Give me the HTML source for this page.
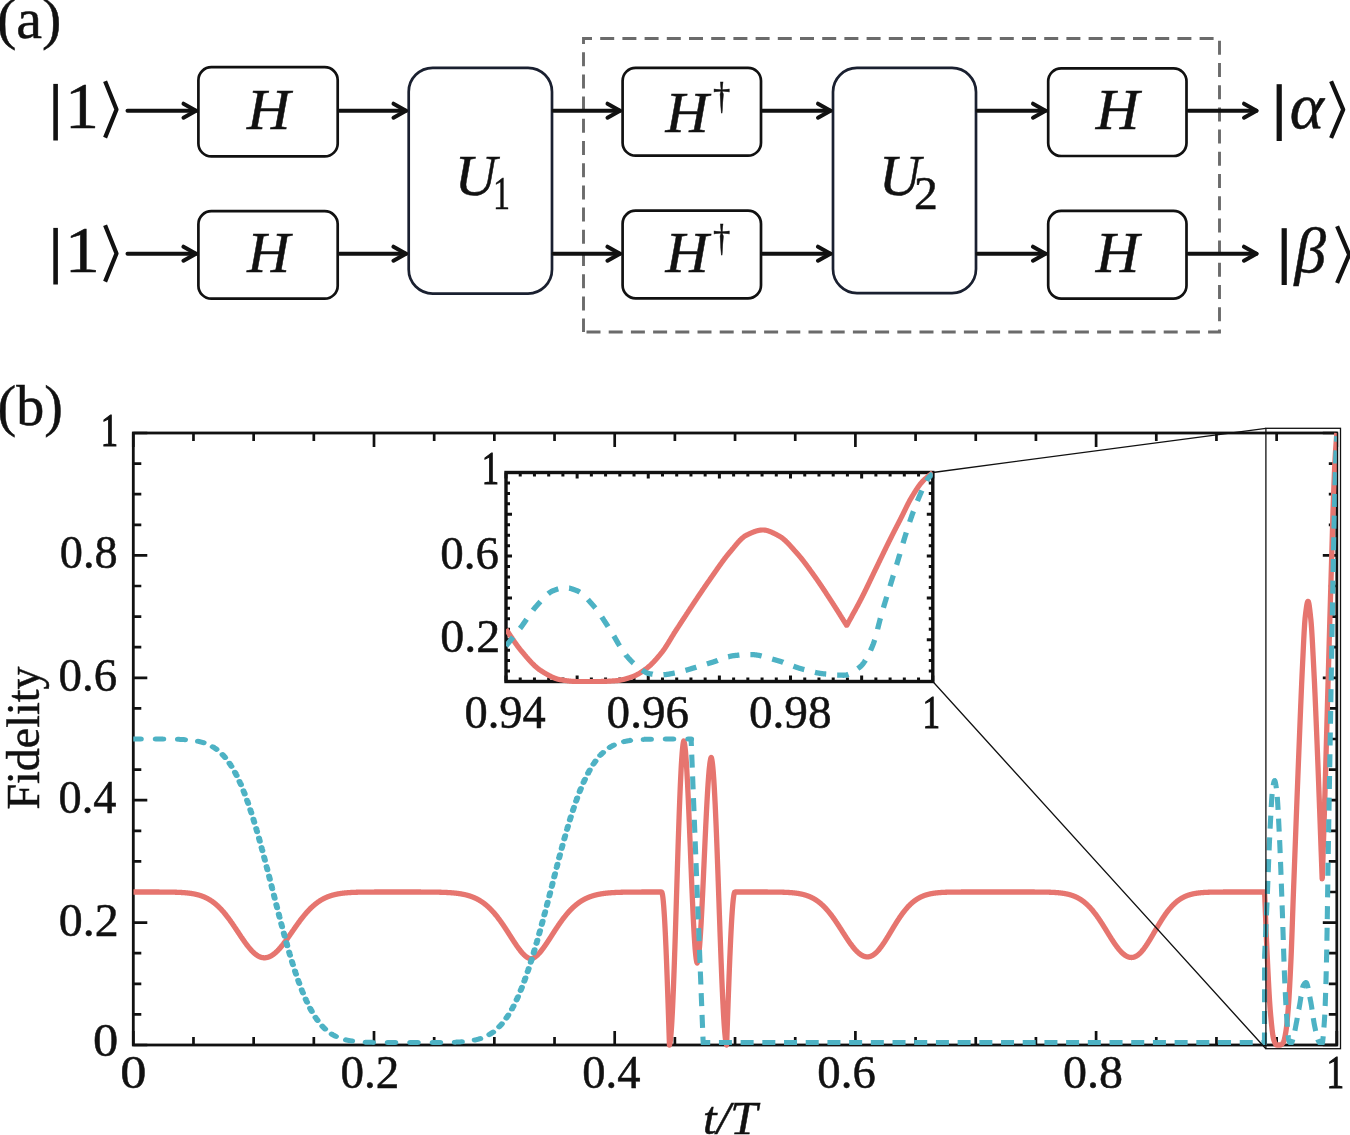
<!DOCTYPE html>
<html><head><meta charset="utf-8"><style>
html,body{margin:0;padding:0;background:#fff;}
body{width:1350px;height:1135px;overflow:hidden;}
svg{display:block;}
text{fill:#111;}
</style></head><body>
<svg width="1350" height="1135" viewBox="0 0 1350 1135">
<g opacity="0.999">
<text x="-3" y="38" font-family='"Liberation Serif", serif' font-size="58" stroke="#111" stroke-width="0.5">(a)</text>
<rect x="198.4" y="67.2" width="139.3" height="89.2" rx="13" ry="13" fill="none" stroke="#111" stroke-width="2.7"/>
<rect x="198.4" y="211.2" width="139.3" height="87.5" rx="13" ry="13" fill="none" stroke="#111" stroke-width="2.7"/>
<rect x="408.7" y="67.8" width="143.3" height="225.8" rx="24" ry="24" fill="none" stroke="#1a2030" stroke-width="2.7"/>
<rect x="622.6" y="67.8" width="138.4" height="87.9" rx="13" ry="13" fill="none" stroke="#111" stroke-width="2.7"/>
<rect x="622.6" y="210.7" width="138.4" height="87.6" rx="13" ry="13" fill="none" stroke="#111" stroke-width="2.7"/>
<rect x="833.0" y="67.9" width="143.0" height="225.2" rx="24" ry="24" fill="none" stroke="#1a2030" stroke-width="2.7"/>
<rect x="1048.2" y="68.3" width="138.3" height="87.7" rx="13" ry="13" fill="none" stroke="#111" stroke-width="2.7"/>
<rect x="1048.2" y="210.9" width="138.3" height="87.7" rx="13" ry="13" fill="none" stroke="#111" stroke-width="2.7"/>
<path d="M583.5,332 L583.5,38.5 L1219.5,38.5 L1219.5,332 Z" fill="none" stroke="#6b6b6b" stroke-width="2.9" stroke-dasharray="14 8.2" stroke-dashoffset="0.6"/>
<path d="M127.5,110.7 L196.0,110.7" stroke="#111" stroke-width="4.0" stroke-linecap="round"/>
<path d="M183.5,103.7 L196.0,110.7 L183.5,117.7" fill="none" stroke="#111" stroke-width="4.0" stroke-linecap="round" stroke-linejoin="round"/>
<path d="M339.5,110.7 L406.0,110.7" stroke="#111" stroke-width="4.0" stroke-linecap="round"/>
<path d="M393.5,103.7 L406.0,110.7 L393.5,117.7" fill="none" stroke="#111" stroke-width="4.0" stroke-linecap="round" stroke-linejoin="round"/>
<path d="M553.5,110.7 L620.0,110.7" stroke="#111" stroke-width="4.0" stroke-linecap="round"/>
<path d="M607.5,103.7 L620.0,110.7 L607.5,117.7" fill="none" stroke="#111" stroke-width="4.0" stroke-linecap="round" stroke-linejoin="round"/>
<path d="M762.5,110.7 L830.5,110.7" stroke="#111" stroke-width="4.0" stroke-linecap="round"/>
<path d="M818.0,103.7 L830.5,110.7 L818.0,117.7" fill="none" stroke="#111" stroke-width="4.0" stroke-linecap="round" stroke-linejoin="round"/>
<path d="M977.5,110.7 L1045.5,110.7" stroke="#111" stroke-width="4.0" stroke-linecap="round"/>
<path d="M1033.0,103.7 L1045.5,110.7 L1033.0,117.7" fill="none" stroke="#111" stroke-width="4.0" stroke-linecap="round" stroke-linejoin="round"/>
<path d="M1188.5,110.7 L1256.5,110.7" stroke="#111" stroke-width="4.0" stroke-linecap="round"/>
<path d="M1244.0,103.7 L1256.5,110.7 L1244.0,117.7" fill="none" stroke="#111" stroke-width="4.0" stroke-linecap="round" stroke-linejoin="round"/>
<path d="M127.5,253.7 L196.0,253.7" stroke="#111" stroke-width="4.0" stroke-linecap="round"/>
<path d="M183.5,246.7 L196.0,253.7 L183.5,260.7" fill="none" stroke="#111" stroke-width="4.0" stroke-linecap="round" stroke-linejoin="round"/>
<path d="M339.5,253.7 L406.0,253.7" stroke="#111" stroke-width="4.0" stroke-linecap="round"/>
<path d="M393.5,246.7 L406.0,253.7 L393.5,260.7" fill="none" stroke="#111" stroke-width="4.0" stroke-linecap="round" stroke-linejoin="round"/>
<path d="M553.5,253.7 L620.0,253.7" stroke="#111" stroke-width="4.0" stroke-linecap="round"/>
<path d="M607.5,246.7 L620.0,253.7 L607.5,260.7" fill="none" stroke="#111" stroke-width="4.0" stroke-linecap="round" stroke-linejoin="round"/>
<path d="M762.5,253.7 L830.5,253.7" stroke="#111" stroke-width="4.0" stroke-linecap="round"/>
<path d="M818.0,246.7 L830.5,253.7 L818.0,260.7" fill="none" stroke="#111" stroke-width="4.0" stroke-linecap="round" stroke-linejoin="round"/>
<path d="M977.5,253.7 L1045.5,253.7" stroke="#111" stroke-width="4.0" stroke-linecap="round"/>
<path d="M1033.0,246.7 L1045.5,253.7 L1033.0,260.7" fill="none" stroke="#111" stroke-width="4.0" stroke-linecap="round" stroke-linejoin="round"/>
<path d="M1188.5,253.7 L1256.5,253.7" stroke="#111" stroke-width="4.0" stroke-linecap="round"/>
<path d="M1244.0,246.7 L1256.5,253.7 L1244.0,260.7" fill="none" stroke="#111" stroke-width="4.0" stroke-linecap="round" stroke-linejoin="round"/>
<rect x="53.30" y="83.90" width="4.60" height="56.60" fill="#111"/>
<path d="M105.10,81.30 L116.50,109.45 L105.10,137.60" fill="none" stroke="#111" stroke-width="4.20" stroke-linejoin="round"/>
<rect x="53.30" y="227.90" width="4.60" height="56.60" fill="#111"/>
<path d="M105.10,225.30 L116.50,253.45 L105.10,281.60" fill="none" stroke="#111" stroke-width="4.20" stroke-linejoin="round"/>
<text transform="translate(64.93,127.90) scale(1.0471,1)" font-family='"Liberation Serif", serif' font-size="64.83" stroke="#111" stroke-width="0.5">&#49;</text>
<text transform="translate(64.83,271.70) scale(1.0872,1)" font-family='"Liberation Serif", serif' font-size="64.53" stroke="#111" stroke-width="0.5">&#49;</text>
<rect x="1276.60" y="84.20" width="5.20" height="56.80" fill="#111"/>
<path d="M1331.10,81.20 L1343.20,109.60 L1331.10,138.00" fill="none" stroke="#111" stroke-width="4.20" stroke-linejoin="round"/>
<text transform="translate(1289.66,128.13) scale(1.0018,1)" font-family='"Liberation Serif", serif' font-size="65.15" font-style="italic" stroke="#111" stroke-width="0.5">&#945;</text>
<rect x="1281.60" y="228.20" width="5.20" height="56.80" fill="#111"/>
<path d="M1337.10,226.20 L1349.20,254.60 L1337.10,283.00" fill="none" stroke="#111" stroke-width="4.20" stroke-linejoin="round"/>
<text transform="translate(1294.62,271.58) scale(1.0026,1)" font-family='"Liberation Serif", serif' font-size="63.03" font-style="italic" stroke="#111" stroke-width="0.5">&#946;</text>
<text transform="translate(246.94,128.70) scale(1.0631,1)" font-family='"Liberation Serif", serif' font-size="56.35" font-style="italic" stroke="#111" stroke-width="0.5">&#72;</text>
<text transform="translate(247.34,271.70) scale(1.0551,1)" font-family='"Liberation Serif", serif' font-size="56.05" font-style="italic" stroke="#111" stroke-width="0.5">&#72;</text>
<text transform="translate(1095.75,128.90) scale(1.0648,1)" font-family='"Liberation Serif", serif' font-size="56.51" font-style="italic" stroke="#111" stroke-width="0.5">&#72;</text>
<text transform="translate(1095.75,271.90) scale(1.0677,1)" font-family='"Liberation Serif", serif' font-size="56.35" font-style="italic" stroke="#111" stroke-width="0.5">&#72;</text>
<text transform="translate(665.44,131.70) scale(1.0506,1)" font-family='"Liberation Serif", serif' font-size="56.66" font-style="italic" stroke="#111" stroke-width="0.5">&#72;</text>
<text transform="translate(665.44,271.90) scale(1.0563,1)" font-family='"Liberation Serif", serif' font-size="56.35" font-style="italic" stroke="#111" stroke-width="0.5">&#72;</text>
<text transform="translate(713.03,108.72) scale(0.9279,1)" font-family='"Liberation Serif", serif' font-size="37.36" stroke="#111" stroke-width="0.5">&#8224;</text>
<text transform="translate(713.03,251.35) scale(0.9128,1)" font-family='"Liberation Serif", serif' font-size="37.98" stroke="#111" stroke-width="0.5">&#8224;</text>
<text transform="translate(454.86,195.44) scale(1.0141,1)" font-family='"Liberation Serif", serif' font-size="57.33" font-style="italic" stroke="#111" stroke-width="0.5">&#85;</text>
<text transform="translate(493.00,209.20) scale(0.7451,1)" font-family='"Liberation Serif", serif' font-size="45.75" stroke="#111" stroke-width="0.5">&#49;</text>
<text transform="translate(878.90,195.44) scale(1.0064,1)" font-family='"Liberation Serif", serif' font-size="57.33" font-style="italic" stroke="#111" stroke-width="0.5">&#85;</text>
<text transform="translate(913.91,209.20) scale(1.0446,1)" font-family='"Liberation Serif", serif' font-size="45.61" stroke="#111" stroke-width="0.5">&#50;</text>
<text x="-2.5" y="425" font-family='"Liberation Serif", serif' font-size="56" stroke="#111" stroke-width="0.5">(b)</text>
<path d="M133.30,1045.00 V1031.00 M133.30,433.00 V447.00 M133.30,1045.00 H147.30 M1336.80,1045.00 H1322.80 M193.48,1045.00 V1037.00 M193.48,433.00 V441.00 M133.30,1014.40 H141.30 M1336.80,1014.40 H1328.80 M253.65,1045.00 V1037.00 M253.65,433.00 V441.00 M133.30,983.80 H141.30 M1336.80,983.80 H1328.80 M313.83,1045.00 V1037.00 M313.83,433.00 V441.00 M133.30,953.20 H141.30 M1336.80,953.20 H1328.80 M374.00,1045.00 V1031.00 M374.00,433.00 V447.00 M133.30,922.60 H147.30 M1336.80,922.60 H1322.80 M434.18,1045.00 V1037.00 M434.18,433.00 V441.00 M133.30,892.00 H141.30 M1336.80,892.00 H1328.80 M494.35,1045.00 V1037.00 M494.35,433.00 V441.00 M133.30,861.40 H141.30 M1336.80,861.40 H1328.80 M554.53,1045.00 V1037.00 M554.53,433.00 V441.00 M133.30,830.80 H141.30 M1336.80,830.80 H1328.80 M614.70,1045.00 V1031.00 M614.70,433.00 V447.00 M133.30,800.20 H147.30 M1336.80,800.20 H1322.80 M674.88,1045.00 V1037.00 M674.88,433.00 V441.00 M133.30,769.60 H141.30 M1336.80,769.60 H1328.80 M735.05,1045.00 V1037.00 M735.05,433.00 V441.00 M133.30,739.00 H141.30 M1336.80,739.00 H1328.80 M795.23,1045.00 V1037.00 M795.23,433.00 V441.00 M133.30,708.40 H141.30 M1336.80,708.40 H1328.80 M855.40,1045.00 V1031.00 M855.40,433.00 V447.00 M133.30,677.80 H147.30 M1336.80,677.80 H1322.80 M915.58,1045.00 V1037.00 M915.58,433.00 V441.00 M133.30,647.20 H141.30 M1336.80,647.20 H1328.80 M975.75,1045.00 V1037.00 M975.75,433.00 V441.00 M133.30,616.60 H141.30 M1336.80,616.60 H1328.80 M1035.92,1045.00 V1037.00 M1035.92,433.00 V441.00 M133.30,586.00 H141.30 M1336.80,586.00 H1328.80 M1096.10,1045.00 V1031.00 M1096.10,433.00 V447.00 M133.30,555.40 H147.30 M1336.80,555.40 H1322.80 M1156.28,1045.00 V1037.00 M1156.28,433.00 V441.00 M133.30,524.80 H141.30 M1336.80,524.80 H1328.80 M1216.45,1045.00 V1037.00 M1216.45,433.00 V441.00 M133.30,494.20 H141.30 M1336.80,494.20 H1328.80 M1276.62,1045.00 V1037.00 M1276.62,433.00 V441.00 M133.30,463.60 H141.30 M1336.80,463.60 H1328.80 M1336.80,1045.00 V1031.00 M1336.80,433.00 V447.00 M133.30,433.00 H147.30 M1336.80,433.00 H1322.80" stroke="#111" stroke-width="2.7"/>
<rect x="133.30" y="433.00" width="1203.50" height="612.00" fill="none" stroke="#111" stroke-width="2.8"/>
<clipPath id="cm"><rect x="133.3" y="430.0" width="1203.5" height="618.0"/></clipPath>
<g clip-path="url(#cm)">
<path d="M133.30,892.00 L133.50,892.00 L133.70,892.00 L133.90,892.00 L134.10,892.00 L134.30,892.00 L134.50,892.00 L134.70,892.00 L134.90,892.00 L135.11,892.00 L135.31,892.00 L135.51,892.00 L135.71,892.00 L135.91,892.00 L136.11,892.00 L136.31,892.00 L136.51,892.00 L136.71,892.00 L136.91,892.00 L137.11,892.00 L137.31,892.00 L137.51,892.00 L137.71,892.00 L137.91,892.00 L138.11,892.00 L138.31,892.00 L138.52,892.00 L138.72,892.00 L138.92,892.00 L139.12,892.00 L139.32,892.00 L139.52,892.00 L139.72,892.00 L139.92,892.00 L140.12,892.00 L140.32,892.00 L140.52,892.00 L140.72,892.00 L140.92,892.00 L141.12,892.00 L141.32,892.00 L141.52,892.00 L141.72,892.00 L141.93,892.00 L142.13,892.00 L142.33,892.00 L142.53,892.00 L142.73,892.00 L142.93,892.00 L143.13,892.00 L143.33,892.00 L143.53,892.00 L143.73,892.00 L143.93,892.00 L144.13,892.00 L144.33,892.00 L144.53,892.00 L144.73,892.00 L144.93,892.00 L145.13,892.00 L145.34,892.00 L145.54,892.00 L145.74,892.00 L145.94,892.00 L146.14,892.00 L146.34,892.00 L146.54,892.00 L146.74,892.00 L146.94,892.00 L147.14,892.00 L147.34,892.00 L147.54,892.00 L147.74,892.00 L147.94,892.00 L148.14,892.00 L148.34,892.00 L148.54,892.00 L148.74,892.00 L148.95,892.00 L149.15,892.01 L149.35,892.01 L149.55,892.01 L149.75,892.01 L149.95,892.01 L150.15,892.01 L150.35,892.01 L150.55,892.01 L150.75,892.01 L150.95,892.01 L151.15,892.01 L151.35,892.01 L151.55,892.01 L151.75,892.01 L151.95,892.01 L152.15,892.01 L152.36,892.01 L152.56,892.01 L152.76,892.01 L152.96,892.01 L153.16,892.01 L153.36,892.01 L153.56,892.01 L153.76,892.01 L153.96,892.01 L154.16,892.01 L154.36,892.01 L154.56,892.01 L154.76,892.01 L154.96,892.01 L155.16,892.01 L155.36,892.01 L155.56,892.01 L155.77,892.01 L155.97,892.02 L156.17,892.02 L156.37,892.02 L156.57,892.02 L156.77,892.02 L156.97,892.02 L157.17,892.02 L157.37,892.02 L157.57,892.02 L157.77,892.02 L157.97,892.02 L158.17,892.02 L158.37,892.02 L158.57,892.02 L158.77,892.02 L158.97,892.02 L159.18,892.02 L159.38,892.03 L159.58,892.03 L159.78,892.03 L159.98,892.03 L160.18,892.03 L160.38,892.03 L160.58,892.03 L160.78,892.03 L160.98,892.03 L161.18,892.03 L161.38,892.03 L161.58,892.04 L161.78,892.04 L161.98,892.04 L162.18,892.04 L162.38,892.04 L162.59,892.04 L162.79,892.04 L162.99,892.04 L163.19,892.04 L163.39,892.05 L163.59,892.05 L163.79,892.05 L163.99,892.05 L164.19,892.05 L164.39,892.05 L164.59,892.05 L164.79,892.06 L164.99,892.06 L165.19,892.06 L165.39,892.06 L165.59,892.06 L165.79,892.06 L166.00,892.07 L166.20,892.07 L166.40,892.07 L166.60,892.07 L166.80,892.07 L167.00,892.08 L167.20,892.08 L167.40,892.08 L167.60,892.08 L167.80,892.09 L168.00,892.09 L168.20,892.09 L168.40,892.09 L168.60,892.10 L168.80,892.10 L169.00,892.10 L169.20,892.10 L169.41,892.11 L169.61,892.11 L169.81,892.11 L170.01,892.11 L170.21,892.12 L170.41,892.12 L170.61,892.12 L170.81,892.13 L171.01,892.13 L171.21,892.14 L171.41,892.14 L171.61,892.14 L171.81,892.15 L172.01,892.15 L172.21,892.15 L172.41,892.16 L172.61,892.16 L172.81,892.17 L173.02,892.17 L173.22,892.18 L173.42,892.18 L173.62,892.19 L173.82,892.19 L174.02,892.19 L174.22,892.20 L174.42,892.21 L174.62,892.21 L174.82,892.22 L175.02,892.22 L175.22,892.23 L175.42,892.23 L175.62,892.24 L175.82,892.25 L176.02,892.25 L176.22,892.26 L176.43,892.26 L176.63,892.27 L176.83,892.28 L177.03,892.29 L177.23,892.29 L177.43,892.30 L177.63,892.31 L177.83,892.32 L178.03,892.32 L178.23,892.33 L178.43,892.34 L178.63,892.35 L178.83,892.36 L179.03,892.37 L179.23,892.37 L179.43,892.38 L179.63,892.39 L179.84,892.40 L180.04,892.41 L180.24,892.42 L180.44,892.43 L180.64,892.44 L180.84,892.45 L181.04,892.47 L181.24,892.48 L181.44,892.49 L181.64,892.50 L181.84,892.51 L182.04,892.52 L182.24,892.54 L182.44,892.55 L182.64,892.56 L182.84,892.58 L183.04,892.59 L183.25,892.60 L183.45,892.62 L183.65,892.63 L183.85,892.65 L184.05,892.66 L184.25,892.68 L184.45,892.69 L184.65,892.71 L184.85,892.72 L185.05,892.74 L185.25,892.76 L185.45,892.78 L185.65,892.79 L185.85,892.81 L186.05,892.83 L186.25,892.85 L186.45,892.87 L186.66,892.89 L186.86,892.91 L187.06,892.93 L187.26,892.95 L187.46,892.97 L187.66,892.99 L187.86,893.01 L188.06,893.03 L188.26,893.06 L188.46,893.08 L188.66,893.10 L188.86,893.13 L189.06,893.15 L189.26,893.18 L189.46,893.20 L189.66,893.23 L189.86,893.26 L190.07,893.28 L190.27,893.31 L190.47,893.34 L190.67,893.37 L190.87,893.40 L191.07,893.43 L191.27,893.46 L191.47,893.49 L191.67,893.52 L191.87,893.55 L192.07,893.58 L192.27,893.62 L192.47,893.65 L192.67,893.68 L192.87,893.72 L193.07,893.75 L193.27,893.79 L193.48,893.83 L193.68,893.86 L193.88,893.90 L194.08,893.94 L194.28,893.98 L194.48,894.02 L194.68,894.06 L194.88,894.10 L195.08,894.14 L195.28,894.19 L195.48,894.23 L195.68,894.28 L195.88,894.32 L196.08,894.37 L196.28,894.41 L196.48,894.46 L196.68,894.51 L196.88,894.56 L197.09,894.61 L197.29,894.66 L197.49,894.71 L197.69,894.76 L197.89,894.81 L198.09,894.87 L198.29,894.92 L198.49,894.98 L198.69,895.04 L198.89,895.09 L199.09,895.15 L199.29,895.21 L199.49,895.27 L199.69,895.33 L199.89,895.39 L200.09,895.46 L200.29,895.52 L200.50,895.59 L200.70,895.65 L200.90,895.72 L201.10,895.79 L201.30,895.86 L201.50,895.93 L201.70,896.00 L201.90,896.07 L202.10,896.14 L202.30,896.22 L202.50,896.29 L202.70,896.37 L202.90,896.45 L203.10,896.53 L203.30,896.61 L203.50,896.69 L203.70,896.77 L203.91,896.85 L204.11,896.94 L204.31,897.02 L204.51,897.11 L204.71,897.20 L204.91,897.29 L205.11,897.38 L205.31,897.47 L205.51,897.56 L205.71,897.66 L205.91,897.75 L206.11,897.85 L206.31,897.95 L206.51,898.05 L206.71,898.15 L206.91,898.25 L207.11,898.35 L207.32,898.46 L207.52,898.56 L207.72,898.67 L207.92,898.78 L208.12,898.89 L208.32,899.00 L208.52,899.12 L208.72,899.23 L208.92,899.35 L209.12,899.46 L209.32,899.58 L209.52,899.70 L209.72,899.82 L209.92,899.95 L210.12,900.07 L210.32,900.20 L210.52,900.32 L210.73,900.45 L210.93,900.58 L211.13,900.72 L211.33,900.85 L211.53,900.98 L211.73,901.12 L211.93,901.26 L212.13,901.40 L212.33,901.54 L212.53,901.68 L212.73,901.83 L212.93,901.97 L213.13,902.12 L213.33,902.27 L213.53,902.42 L213.73,902.57 L213.93,902.73 L214.14,902.88 L214.34,903.04 L214.54,903.20 L214.74,903.36 L214.94,903.52 L215.14,903.69 L215.34,903.85 L215.54,904.02 L215.74,904.19 L215.94,904.36 L216.14,904.53 L216.34,904.70 L216.54,904.88 L216.74,905.06 L216.94,905.23 L217.14,905.41 L217.34,905.60 L217.55,905.78 L217.75,905.97 L217.95,906.15 L218.15,906.34 L218.35,906.53 L218.55,906.72 L218.75,906.92 L218.95,907.11 L219.15,907.31 L219.35,907.51 L219.55,907.71 L219.75,907.91 L219.95,908.12 L220.15,908.32 L220.35,908.53 L220.55,908.74 L220.75,908.95 L220.95,909.16 L221.16,909.38 L221.36,909.59 L221.56,909.81 L221.76,910.03 L221.96,910.25 L222.16,910.47 L222.36,910.69 L222.56,910.92 L222.76,911.15 L222.96,911.38 L223.16,911.61 L223.36,911.84 L223.56,912.07 L223.76,912.31 L223.96,912.54 L224.16,912.78 L224.36,913.02 L224.57,913.26 L224.77,913.50 L224.97,913.75 L225.17,914.00 L225.37,914.24 L225.57,914.49 L225.77,914.74 L225.97,914.99 L226.17,915.25 L226.37,915.50 L226.57,915.76 L226.77,916.02 L226.97,916.27 L227.17,916.53 L227.37,916.80 L227.57,917.06 L227.77,917.32 L227.98,917.59 L228.18,917.86 L228.38,918.13 L228.58,918.39 L228.78,918.67 L228.98,918.94 L229.18,919.21 L229.38,919.49 L229.58,919.76 L229.78,920.04 L229.98,920.32 L230.18,920.60 L230.38,920.88 L230.58,921.16 L230.78,921.44 L230.98,921.72 L231.18,922.01 L231.39,922.29 L231.59,922.58 L231.79,922.87 L231.99,923.15 L232.19,923.44 L232.39,923.73 L232.59,924.02 L232.79,924.31 L232.99,924.61 L233.19,924.90 L233.39,925.19 L233.59,925.49 L233.79,925.78 L233.99,926.08 L234.19,926.38 L234.39,926.67 L234.59,926.97 L234.80,927.27 L235.00,927.57 L235.20,927.87 L235.40,928.17 L235.60,928.47 L235.80,928.77 L236.00,929.07 L236.20,929.37 L236.40,929.67 L236.60,929.97 L236.80,930.27 L237.00,930.57 L237.20,930.88 L237.40,931.18 L237.60,931.48 L237.80,931.78 L238.00,932.09 L238.21,932.39 L238.41,932.69 L238.61,932.99 L238.81,933.29 L239.01,933.60 L239.21,933.90 L239.41,934.20 L239.61,934.50 L239.81,934.80 L240.01,935.10 L240.21,935.40 L240.41,935.70 L240.61,936.00 L240.81,936.30 L241.01,936.60 L241.21,936.89 L241.41,937.19 L241.62,937.49 L241.82,937.78 L242.02,938.08 L242.22,938.37 L242.42,938.67 L242.62,938.96 L242.82,939.25 L243.02,939.54 L243.22,939.83 L243.42,940.12 L243.62,940.41 L243.82,940.69 L244.02,940.98 L244.22,941.26 L244.42,941.55 L244.62,941.83 L244.82,942.11 L245.02,942.39 L245.23,942.67 L245.43,942.95 L245.63,943.22 L245.83,943.49 L246.03,943.77 L246.23,944.04 L246.43,944.31 L246.63,944.57 L246.83,944.84 L247.03,945.10 L247.23,945.37 L247.43,945.63 L247.63,945.89 L247.83,946.14 L248.03,946.40 L248.23,946.65 L248.43,946.90 L248.64,947.15 L248.84,947.40 L249.04,947.64 L249.24,947.89 L249.44,948.13 L249.64,948.37 L249.84,948.60 L250.04,948.84 L250.24,949.07 L250.44,949.30 L250.64,949.52 L250.84,949.75 L251.04,949.97 L251.24,950.19 L251.44,950.41 L251.64,950.62 L251.84,950.83 L252.05,951.04 L252.25,951.25 L252.45,951.45 L252.65,951.66 L252.85,951.85 L253.05,952.05 L253.25,952.24 L253.45,952.43 L253.65,952.62 L253.85,952.81 L254.05,952.99 L254.25,953.17 L254.45,953.34 L254.65,953.51 L254.85,953.68 L255.05,953.85 L255.25,954.01 L255.46,954.17 L255.66,954.33 L255.86,954.48 L256.06,954.63 L256.26,954.78 L256.46,954.92 L256.66,955.06 L256.86,955.20 L257.06,955.34 L257.26,955.47 L257.46,955.59 L257.66,955.72 L257.86,955.84 L258.06,955.95 L258.26,956.07 L258.46,956.18 L258.66,956.28 L258.87,956.39 L259.07,956.49 L259.27,956.58 L259.47,956.68 L259.67,956.76 L259.87,956.85 L260.07,956.93 L260.27,957.01 L260.47,957.08 L260.67,957.15 L260.87,957.22 L261.07,957.28 L261.27,957.34 L261.47,957.40 L261.67,957.45 L261.87,957.50 L262.07,957.55 L262.28,957.59 L262.48,957.62 L262.68,957.66 L262.88,957.69 L263.08,957.71 L263.28,957.73 L263.48,957.75 L263.68,957.77 L263.88,957.78 L264.08,957.79 L264.28,957.79 L264.48,957.79 L264.68,957.79 L264.88,957.78 L265.08,957.77 L265.28,957.75 L265.48,957.74 L265.69,957.71 L265.89,957.69 L266.09,957.66 L266.29,957.63 L266.49,957.60 L266.69,957.56 L266.89,957.52 L267.09,957.47 L267.29,957.42 L267.49,957.37 L267.69,957.32 L267.89,957.26 L268.09,957.20 L268.29,957.13 L268.49,957.06 L268.69,956.99 L268.89,956.91 L269.09,956.83 L269.30,956.75 L269.50,956.67 L269.70,956.58 L269.90,956.49 L270.10,956.39 L270.30,956.29 L270.50,956.19 L270.70,956.09 L270.90,955.98 L271.10,955.87 L271.30,955.75 L271.50,955.64 L271.70,955.52 L271.90,955.39 L272.10,955.27 L272.30,955.14 L272.50,955.00 L272.71,954.87 L272.91,954.73 L273.11,954.59 L273.31,954.44 L273.51,954.29 L273.71,954.14 L273.91,953.99 L274.11,953.83 L274.31,953.67 L274.51,953.51 L274.71,953.35 L274.91,953.18 L275.11,953.01 L275.31,952.84 L275.51,952.66 L275.71,952.48 L275.91,952.30 L276.12,952.12 L276.32,951.93 L276.52,951.74 L276.72,951.55 L276.92,951.36 L277.12,951.16 L277.32,950.96 L277.52,950.76 L277.72,950.56 L277.92,950.35 L278.12,950.14 L278.32,949.93 L278.52,949.72 L278.72,949.50 L278.92,949.29 L279.12,949.07 L279.32,948.85 L279.53,948.62 L279.73,948.40 L279.93,948.17 L280.13,947.94 L280.33,947.71 L280.53,947.47 L280.73,947.24 L280.93,947.00 L281.13,946.76 L281.33,946.52 L281.53,946.28 L281.73,946.03 L281.93,945.78 L282.13,945.54 L282.33,945.29 L282.53,945.04 L282.73,944.78 L282.94,944.53 L283.14,944.27 L283.34,944.01 L283.54,943.75 L283.74,943.49 L283.94,943.23 L284.14,942.97 L284.34,942.70 L284.54,942.44 L284.74,942.17 L284.94,941.90 L285.14,941.63 L285.34,941.36 L285.54,941.09 L285.74,940.82 L285.94,940.55 L286.14,940.27 L286.35,939.99 L286.55,939.72 L286.75,939.44 L286.95,939.16 L287.15,938.88 L287.35,938.60 L287.55,938.32 L287.75,938.04 L287.95,937.76 L288.15,937.48 L288.35,937.19 L288.55,936.91 L288.75,936.62 L288.95,936.34 L289.15,936.05 L289.35,935.77 L289.55,935.48 L289.75,935.19 L289.96,934.91 L290.16,934.62 L290.36,934.33 L290.56,934.04 L290.76,933.75 L290.96,933.46 L291.16,933.18 L291.36,932.89 L291.56,932.60 L291.76,932.31 L291.96,932.02 L292.16,931.73 L292.36,931.44 L292.56,931.15 L292.76,930.86 L292.96,930.57 L293.16,930.29 L293.37,930.00 L293.57,929.71 L293.77,929.42 L293.97,929.13 L294.17,928.84 L294.37,928.56 L294.57,928.27 L294.77,927.98 L294.97,927.70 L295.17,927.41 L295.37,927.13 L295.57,926.84 L295.77,926.56 L295.97,926.27 L296.17,925.99 L296.37,925.71 L296.57,925.42 L296.78,925.14 L296.98,924.86 L297.18,924.58 L297.38,924.30 L297.58,924.02 L297.78,923.75 L297.98,923.47 L298.18,923.19 L298.38,922.92 L298.58,922.64 L298.78,922.37 L298.98,922.09 L299.18,921.82 L299.38,921.55 L299.58,921.28 L299.78,921.01 L299.98,920.74 L300.19,920.47 L300.39,920.21 L300.59,919.94 L300.79,919.68 L300.99,919.41 L301.19,919.15 L301.39,918.89 L301.59,918.63 L301.79,918.37 L301.99,918.11 L302.19,917.86 L302.39,917.60 L302.59,917.35 L302.79,917.09 L302.99,916.84 L303.19,916.59 L303.39,916.34 L303.60,916.09 L303.80,915.85 L304.00,915.60 L304.20,915.36 L304.40,915.11 L304.60,914.87 L304.80,914.63 L305.00,914.39 L305.20,914.16 L305.40,913.92 L305.60,913.69 L305.80,913.45 L306.00,913.22 L306.20,912.99 L306.40,912.76 L306.60,912.53 L306.80,912.31 L307.01,912.08 L307.21,911.86 L307.41,911.64 L307.61,911.42 L307.81,911.20 L308.01,910.98 L308.21,910.76 L308.41,910.55 L308.61,910.33 L308.81,910.12 L309.01,909.91 L309.21,909.70 L309.41,909.50 L309.61,909.29 L309.81,909.09 L310.01,908.88 L310.21,908.68 L310.42,908.48 L310.62,908.29 L310.82,908.09 L311.02,907.89 L311.22,907.70 L311.42,907.51 L311.62,907.32 L311.82,907.13 L312.02,906.94 L312.22,906.76 L312.42,906.57 L312.62,906.39 L312.82,906.21 L313.02,906.03 L313.22,905.85 L313.42,905.68 L313.62,905.50 L313.83,905.33 L314.03,905.16 L314.23,904.99 L314.43,904.82 L314.63,904.65 L314.83,904.48 L315.03,904.32 L315.23,904.16 L315.43,904.00 L315.63,903.84 L315.83,903.68 L316.03,903.52 L316.23,903.37 L316.43,903.21 L316.63,903.06 L316.83,902.91 L317.03,902.76 L317.23,902.61 L317.44,902.47 L317.64,902.32 L317.84,902.18 L318.04,902.04 L318.24,901.90 L318.44,901.76 L318.64,901.62 L318.84,901.49 L319.04,901.35 L319.24,901.22 L319.44,901.09 L319.64,900.96 L319.84,900.83 L320.04,900.70 L320.24,900.57 L320.44,900.45 L320.64,900.32 L320.85,900.20 L321.05,900.08 L321.25,899.96 L321.45,899.85 L321.65,899.73 L321.85,899.61 L322.05,899.50 L322.25,899.39 L322.45,899.28 L322.65,899.17 L322.85,899.06 L323.05,898.95 L323.25,898.84 L323.45,898.74 L323.65,898.63 L323.85,898.53 L324.05,898.43 L324.26,898.33 L324.46,898.23 L324.66,898.14 L324.86,898.04 L325.06,897.94 L325.26,897.85 L325.46,897.76 L325.66,897.67 L325.86,897.58 L326.06,897.49 L326.26,897.40 L326.46,897.31 L326.66,897.23 L326.86,897.14 L327.06,897.06 L327.26,896.97 L327.46,896.89 L327.67,896.81 L327.87,896.73 L328.07,896.66 L328.27,896.58 L328.47,896.50 L328.67,896.43 L328.87,896.35 L329.07,896.28 L329.27,896.21 L329.47,896.14 L329.67,896.07 L329.87,896.00 L330.07,895.93 L330.27,895.86 L330.47,895.80 L330.67,895.73 L330.87,895.67 L331.08,895.60 L331.28,895.54 L331.48,895.48 L331.68,895.42 L331.88,895.36 L332.08,895.30 L332.28,895.24 L332.48,895.19 L332.68,895.13 L332.88,895.07 L333.08,895.02 L333.28,894.96 L333.48,894.91 L333.68,894.86 L333.88,894.81 L334.08,894.76 L334.28,894.71 L334.49,894.66 L334.69,894.61 L334.89,894.56 L335.09,894.51 L335.29,894.47 L335.49,894.42 L335.69,894.38 L335.89,894.33 L336.09,894.29 L336.29,894.25 L336.49,894.21 L336.69,894.17 L336.89,894.12 L337.09,894.08 L337.29,894.05 L337.49,894.01 L337.69,893.97 L337.90,893.93 L338.10,893.89 L338.30,893.86 L338.50,893.82 L338.70,893.79 L338.90,893.75 L339.10,893.72 L339.30,893.69 L339.50,893.65 L339.70,893.62 L339.90,893.59 L340.10,893.56 L340.30,893.53 L340.50,893.50 L340.70,893.47 L340.90,893.44 L341.10,893.41 L341.30,893.38 L341.51,893.35 L341.71,893.33 L341.91,893.30 L342.11,893.27 L342.31,893.25 L342.51,893.22 L342.71,893.20 L342.91,893.17 L343.11,893.15 L343.31,893.13 L343.51,893.10 L343.71,893.08 L343.91,893.06 L344.11,893.04 L344.31,893.02 L344.51,892.99 L344.71,892.97 L344.92,892.95 L345.12,892.93 L345.32,892.91 L345.52,892.89 L345.72,892.88 L345.92,892.86 L346.12,892.84 L346.32,892.82 L346.52,892.80 L346.72,892.79 L346.92,892.77 L347.12,892.75 L347.32,892.74 L347.52,892.72 L347.72,892.71 L347.92,892.69 L348.12,892.68 L348.33,892.66 L348.53,892.65 L348.73,892.63 L348.93,892.62 L349.13,892.61 L349.33,892.59 L349.53,892.58 L349.73,892.57 L349.93,892.55 L350.13,892.54 L350.33,892.53 L350.53,892.52 L350.73,892.51 L350.93,892.49 L351.13,892.48 L351.33,892.47 L351.53,892.46 L351.74,892.45 L351.94,892.44 L352.14,892.43 L352.34,892.42 L352.54,892.41 L352.74,892.40 L352.94,892.39 L353.14,892.38 L353.34,892.38 L353.54,892.37 L353.74,892.36 L353.94,892.35 L354.14,892.34 L354.34,892.33 L354.54,892.33 L354.74,892.32 L354.94,892.31 L355.15,892.30 L355.35,892.30 L355.55,892.29 L355.75,892.28 L355.95,892.28 L356.15,892.27 L356.35,892.26 L356.55,892.26 L356.75,892.25 L356.95,892.24 L357.15,892.24 L357.35,892.23 L357.55,892.23 L357.75,892.22 L357.95,892.22 L358.15,892.21 L358.35,892.21 L358.56,892.20 L358.76,892.20 L358.96,892.19 L359.16,892.19 L359.36,892.18 L359.56,892.18 L359.76,892.17 L359.96,892.17 L360.16,892.16 L360.36,892.16 L360.56,892.16 L360.76,892.15 L360.96,892.15 L361.16,892.15 L361.36,892.14 L361.56,892.14 L361.76,892.13 L361.97,892.13 L362.17,892.13 L362.37,892.12 L362.57,892.12 L362.77,892.12 L362.97,892.12 L363.17,892.11 L363.37,892.11 L363.57,892.11 L363.77,892.10 L363.97,892.10 L364.17,892.10 L364.37,892.10 L364.57,892.09 L364.77,892.09 L364.97,892.09 L365.17,892.09 L365.37,892.08 L365.58,892.08 L365.78,892.08 L365.98,892.08 L366.18,892.08 L366.38,892.07 L366.58,892.07 L366.78,892.07 L366.98,892.07 L367.18,892.07 L367.38,892.06 L367.58,892.06 L367.78,892.06 L367.98,892.06 L368.18,892.06 L368.38,892.06 L368.58,892.05 L368.78,892.05 L368.99,892.05 L369.19,892.05 L369.39,892.05 L369.59,892.05 L369.79,892.05 L369.99,892.05 L370.19,892.04 L370.39,892.04 L370.59,892.04 L370.79,892.04 L370.99,892.04 L371.19,892.04 L371.39,892.04 L371.59,892.04 L371.79,892.04 L371.99,892.03 L372.19,892.03 L372.40,892.03 L372.60,892.03 L372.80,892.03 L373.00,892.03 L373.20,892.03 L373.40,892.03 L373.60,892.03 L373.80,892.03 L374.00,892.03 L374.20,892.03 L374.40,892.02 L374.60,892.02 L374.80,892.02 L375.00,892.02 L375.20,892.02 L375.40,892.02 L375.60,892.02 L375.81,892.02 L376.01,892.02 L376.21,892.02 L376.41,892.02 L376.61,892.02 L376.81,892.02 L377.01,892.02 L377.21,892.02 L377.41,892.02 L377.61,892.02 L377.81,892.01 L378.01,892.01 L378.21,892.01 L378.41,892.01 L378.61,892.01 L378.81,892.01 L379.01,892.01 L379.22,892.01 L379.42,892.01 L379.62,892.01 L379.82,892.01 L380.02,892.01 L380.22,892.01 L380.42,892.01 L380.62,892.01 L380.82,892.01 L381.02,892.01 L381.22,892.01 L381.42,892.01 L381.62,892.01 L381.82,892.01 L382.02,892.01 L382.22,892.01 L382.42,892.01 L382.63,892.01 L382.83,892.01 L383.03,892.01 L383.23,892.01 L383.43,892.01 L383.63,892.01 L383.83,892.01 L384.03,892.01 L384.23,892.01 L384.43,892.01 L384.63,892.01 L384.83,892.01 L385.03,892.01 L385.23,892.00 L385.43,892.00 L385.63,892.00 L385.83,892.00 L386.03,892.00 L386.24,892.00 L386.44,892.00 L386.64,892.00 L386.84,892.00 L387.04,892.00 L387.24,892.00 L387.44,892.00 L387.64,892.00 L387.84,892.00 L388.04,892.00 L388.24,892.00 L388.44,892.00 L388.64,892.00 L388.84,892.00 L389.04,892.00 L389.24,892.00 L389.44,892.00 L389.65,892.00 L389.85,892.00 L390.05,892.00 L390.25,892.00 L390.45,892.00 L390.65,892.00 L390.85,892.00 L391.05,892.00 L391.25,892.00 L391.45,892.00 L391.65,892.00 L391.85,892.00 L392.05,892.00 L392.25,892.00 L392.45,892.00 L392.65,892.00 L392.85,892.00 L393.06,892.00 L393.26,892.00 L393.46,892.00 L393.66,892.00 L393.86,892.00 L394.06,892.00 L394.26,892.00 L394.46,892.00 L394.66,892.00 L394.86,892.00 L395.06,892.00 L395.26,892.00 L395.46,892.00 L395.66,892.00 L395.86,892.00 L396.06,892.00 L396.26,892.00 L396.47,892.00 L396.67,892.00 L396.87,892.00 L397.07,892.00 L397.27,892.00 L397.47,892.00 L397.67,892.00 L397.87,892.00 L398.07,892.00 L398.27,892.00 L398.47,892.00 L398.67,892.00 L398.87,892.00 L399.07,892.00 L399.27,892.00 L399.47,892.00 L399.67,892.00 L399.88,892.00 L400.08,892.00 L400.28,892.00 L400.48,892.00 L400.68,892.00 L400.88,892.00 L401.08,892.00 L401.28,892.00 L401.48,892.00 L401.68,892.00 L401.88,892.00 L402.08,892.00 L402.28,892.00 L402.48,892.00 L402.68,892.00 L402.88,892.00 L403.08,892.00 L403.29,892.00 L403.49,892.00 L403.69,892.00 L403.89,892.00 L404.09,892.00 L404.29,892.00 L404.49,892.00 L404.69,892.00 L404.89,892.00 L405.09,892.00 L405.29,892.00 L405.49,892.00 L405.69,892.00 L405.89,892.00 L406.09,892.00 L406.29,892.00 L406.49,892.00 L406.70,892.00 L406.90,892.00 L407.10,892.00 L407.30,892.00 L407.50,892.00 L407.70,892.00 L407.90,892.00 L408.10,892.00 L408.30,892.00 L408.50,892.01 L408.70,892.01 L408.90,892.01 L409.10,892.01 L409.30,892.01 L409.50,892.01 L409.70,892.01 L409.90,892.01 L410.11,892.01 L410.31,892.01 L410.51,892.01 L410.71,892.01 L410.91,892.01 L411.11,892.01 L411.31,892.01 L411.51,892.01 L411.71,892.01 L411.91,892.01 L412.11,892.01 L412.31,892.01 L412.51,892.01 L412.71,892.01 L412.91,892.01 L413.11,892.01 L413.31,892.01 L413.51,892.01 L413.72,892.01 L413.92,892.01 L414.12,892.01 L414.32,892.01 L414.52,892.01 L414.72,892.01 L414.92,892.01 L415.12,892.01 L415.32,892.01 L415.52,892.01 L415.72,892.01 L415.92,892.01 L416.12,892.01 L416.32,892.01 L416.52,892.01 L416.72,892.01 L416.92,892.02 L417.13,892.02 L417.33,892.02 L417.53,892.02 L417.73,892.02 L417.93,892.02 L418.13,892.02 L418.33,892.02 L418.53,892.02 L418.73,892.02 L418.93,892.02 L419.13,892.02 L419.33,892.02 L419.53,892.02 L419.73,892.02 L419.93,892.02 L420.13,892.02 L420.33,892.02 L420.54,892.02 L420.74,892.02 L420.94,892.03 L421.14,892.03 L421.34,892.03 L421.54,892.03 L421.74,892.03 L421.94,892.03 L422.14,892.03 L422.34,892.03 L422.54,892.03 L422.74,892.03 L422.94,892.03 L423.14,892.03 L423.34,892.03 L423.54,892.04 L423.74,892.04 L423.95,892.04 L424.15,892.04 L424.35,892.04 L424.55,892.04 L424.75,892.04 L424.95,892.04 L425.15,892.04 L425.35,892.04 L425.55,892.05 L425.75,892.05 L425.95,892.05 L426.15,892.05 L426.35,892.05 L426.55,892.05 L426.75,892.05 L426.95,892.05 L427.15,892.05 L427.36,892.06 L427.56,892.06 L427.76,892.06 L427.96,892.06 L428.16,892.06 L428.36,892.06 L428.56,892.06 L428.76,892.07 L428.96,892.07 L429.16,892.07 L429.36,892.07 L429.56,892.07 L429.76,892.07 L429.96,892.08 L430.16,892.08 L430.36,892.08 L430.56,892.08 L430.77,892.08 L430.97,892.09 L431.17,892.09 L431.37,892.09 L431.57,892.09 L431.77,892.09 L431.97,892.10 L432.17,892.10 L432.37,892.10 L432.57,892.10 L432.77,892.11 L432.97,892.11 L433.17,892.11 L433.37,892.11 L433.57,892.12 L433.77,892.12 L433.97,892.12 L434.18,892.12 L434.38,892.13 L434.58,892.13 L434.78,892.13 L434.98,892.14 L435.18,892.14 L435.38,892.14 L435.58,892.15 L435.78,892.15 L435.98,892.15 L436.18,892.16 L436.38,892.16 L436.58,892.16 L436.78,892.17 L436.98,892.17 L437.18,892.17 L437.38,892.18 L437.58,892.18 L437.79,892.19 L437.99,892.19 L438.19,892.19 L438.39,892.20 L438.59,892.20 L438.79,892.21 L438.99,892.21 L439.19,892.22 L439.39,892.22 L439.59,892.23 L439.79,892.23 L439.99,892.24 L440.19,892.24 L440.39,892.25 L440.59,892.25 L440.79,892.26 L440.99,892.26 L441.20,892.27 L441.40,892.28 L441.60,892.28 L441.80,892.29 L442.00,892.29 L442.20,892.30 L442.40,892.31 L442.60,892.31 L442.80,892.32 L443.00,892.33 L443.20,892.33 L443.40,892.34 L443.60,892.35 L443.80,892.36 L444.00,892.36 L444.20,892.37 L444.40,892.38 L444.61,892.39 L444.81,892.40 L445.01,892.40 L445.21,892.41 L445.41,892.42 L445.61,892.43 L445.81,892.44 L446.01,892.45 L446.21,892.46 L446.41,892.47 L446.61,892.48 L446.81,892.49 L447.01,892.50 L447.21,892.51 L447.41,892.52 L447.61,892.53 L447.81,892.54 L448.02,892.55 L448.22,892.56 L448.42,892.57 L448.62,892.59 L448.82,892.60 L449.02,892.61 L449.22,892.62 L449.42,892.63 L449.62,892.65 L449.82,892.66 L450.02,892.67 L450.22,892.69 L450.42,892.70 L450.62,892.72 L450.82,892.73 L451.02,892.74 L451.22,892.76 L451.43,892.77 L451.63,892.79 L451.83,892.81 L452.03,892.82 L452.23,892.84 L452.43,892.85 L452.63,892.87 L452.83,892.89 L453.03,892.91 L453.23,892.92 L453.43,892.94 L453.63,892.96 L453.83,892.98 L454.03,893.00 L454.23,893.02 L454.43,893.04 L454.63,893.06 L454.84,893.08 L455.04,893.10 L455.24,893.12 L455.44,893.14 L455.64,893.16 L455.84,893.18 L456.04,893.21 L456.24,893.23 L456.44,893.25 L456.64,893.28 L456.84,893.30 L457.04,893.32 L457.24,893.35 L457.44,893.37 L457.64,893.40 L457.84,893.43 L458.04,893.45 L458.25,893.48 L458.45,893.51 L458.65,893.54 L458.85,893.56 L459.05,893.59 L459.25,893.62 L459.45,893.65 L459.65,893.68 L459.85,893.71 L460.05,893.74 L460.25,893.78 L460.45,893.81 L460.65,893.84 L460.85,893.87 L461.05,893.91 L461.25,893.94 L461.45,893.98 L461.65,894.01 L461.86,894.05 L462.06,894.09 L462.26,894.12 L462.46,894.16 L462.66,894.20 L462.86,894.24 L463.06,894.28 L463.26,894.32 L463.46,894.36 L463.66,894.40 L463.86,894.44 L464.06,894.48 L464.26,894.53 L464.46,894.57 L464.66,894.62 L464.86,894.66 L465.06,894.71 L465.27,894.75 L465.47,894.80 L465.67,894.85 L465.87,894.90 L466.07,894.95 L466.27,895.00 L466.47,895.05 L466.67,895.10 L466.87,895.15 L467.07,895.21 L467.27,895.26 L467.47,895.32 L467.67,895.37 L467.87,895.43 L468.07,895.48 L468.27,895.54 L468.47,895.60 L468.68,895.66 L468.88,895.72 L469.08,895.78 L469.28,895.84 L469.48,895.91 L469.68,895.97 L469.88,896.04 L470.08,896.10 L470.28,896.17 L470.48,896.24 L470.68,896.30 L470.88,896.37 L471.08,896.44 L471.28,896.52 L471.48,896.59 L471.68,896.66 L471.88,896.73 L472.09,896.81 L472.29,896.89 L472.49,896.96 L472.69,897.04 L472.89,897.12 L473.09,897.20 L473.29,897.28 L473.49,897.36 L473.69,897.45 L473.89,897.53 L474.09,897.62 L474.29,897.70 L474.49,897.79 L474.69,897.88 L474.89,897.97 L475.09,898.06 L475.29,898.15 L475.50,898.25 L475.70,898.34 L475.90,898.44 L476.10,898.53 L476.30,898.63 L476.50,898.73 L476.70,898.83 L476.90,898.93 L477.10,899.04 L477.30,899.14 L477.50,899.24 L477.70,899.35 L477.90,899.46 L478.10,899.57 L478.30,899.68 L478.50,899.79 L478.70,899.90 L478.91,900.02 L479.11,900.13 L479.31,900.25 L479.51,900.37 L479.71,900.49 L479.91,900.61 L480.11,900.73 L480.31,900.85 L480.51,900.98 L480.71,901.10 L480.91,901.23 L481.11,901.36 L481.31,901.49 L481.51,901.62 L481.71,901.76 L481.91,901.89 L482.11,902.03 L482.31,902.17 L482.52,902.31 L482.72,902.45 L482.92,902.59 L483.12,902.73 L483.32,902.88 L483.52,903.02 L483.72,903.17 L483.92,903.32 L484.12,903.47 L484.32,903.62 L484.52,903.78 L484.72,903.93 L484.92,904.09 L485.12,904.25 L485.32,904.41 L485.52,904.57 L485.72,904.74 L485.93,904.90 L486.13,905.07 L486.33,905.24 L486.53,905.40 L486.73,905.58 L486.93,905.75 L487.13,905.92 L487.33,906.10 L487.53,906.28 L487.73,906.46 L487.93,906.64 L488.13,906.82 L488.33,907.00 L488.53,907.19 L488.73,907.38 L488.93,907.57 L489.13,907.76 L489.34,907.95 L489.54,908.14 L489.74,908.34 L489.94,908.54 L490.14,908.74 L490.34,908.94 L490.54,909.14 L490.74,909.34 L490.94,909.55 L491.14,909.75 L491.34,909.96 L491.54,910.17 L491.74,910.39 L491.94,910.60 L492.14,910.81 L492.34,911.03 L492.54,911.25 L492.75,911.47 L492.95,911.69 L493.15,911.92 L493.35,912.14 L493.55,912.37 L493.75,912.60 L493.95,912.83 L494.15,913.06 L494.35,913.29 L494.55,913.53 L494.75,913.76 L494.95,914.00 L495.15,914.24 L495.35,914.48 L495.55,914.72 L495.75,914.97 L495.95,915.21 L496.16,915.46 L496.36,915.71 L496.56,915.96 L496.76,916.21 L496.96,916.47 L497.16,916.72 L497.36,916.98 L497.56,917.24 L497.76,917.50 L497.96,917.76 L498.16,918.02 L498.36,918.28 L498.56,918.55 L498.76,918.82 L498.96,919.09 L499.16,919.36 L499.36,919.63 L499.57,919.90 L499.77,920.17 L499.97,920.45 L500.17,920.72 L500.37,921.00 L500.57,921.28 L500.77,921.56 L500.97,921.84 L501.17,922.13 L501.37,922.41 L501.57,922.70 L501.77,922.98 L501.97,923.27 L502.17,923.56 L502.37,923.85 L502.57,924.14 L502.77,924.43 L502.98,924.73 L503.18,925.02 L503.38,925.32 L503.58,925.61 L503.78,925.91 L503.98,926.21 L504.18,926.51 L504.38,926.81 L504.58,927.11 L504.78,927.41 L504.98,927.71 L505.18,928.02 L505.38,928.32 L505.58,928.63 L505.78,928.93 L505.98,929.24 L506.18,929.55 L506.38,929.85 L506.59,930.16 L506.79,930.47 L506.99,930.78 L507.19,931.09 L507.39,931.40 L507.59,931.71 L507.79,932.02 L507.99,932.34 L508.19,932.65 L508.39,932.96 L508.59,933.27 L508.79,933.59 L508.99,933.90 L509.19,934.21 L509.39,934.53 L509.59,934.84 L509.79,935.15 L510.00,935.47 L510.20,935.78 L510.40,936.10 L510.60,936.41 L510.80,936.72 L511.00,937.04 L511.20,937.35 L511.40,937.66 L511.60,937.98 L511.80,938.29 L512.00,938.60 L512.20,938.91 L512.40,939.22 L512.60,939.53 L512.80,939.84 L513.00,940.15 L513.20,940.46 L513.41,940.77 L513.61,941.08 L513.81,941.39 L514.01,941.69 L514.21,942.00 L514.41,942.30 L514.61,942.60 L514.81,942.91 L515.01,943.21 L515.21,943.51 L515.41,943.81 L515.61,944.10 L515.81,944.40 L516.01,944.70 L516.21,944.99 L516.41,945.28 L516.61,945.57 L516.82,945.86 L517.02,946.15 L517.22,946.44 L517.42,946.72 L517.62,947.01 L517.82,947.29 L518.02,947.57 L518.22,947.84 L518.42,948.12 L518.62,948.39 L518.82,948.67 L519.02,948.93 L519.22,949.20 L519.42,949.47 L519.62,949.73 L519.82,949.99 L520.02,950.25 L520.23,950.50 L520.43,950.76 L520.63,951.01 L520.83,951.26 L521.03,951.50 L521.23,951.74 L521.43,951.98 L521.63,952.22 L521.83,952.45 L522.03,952.69 L522.23,952.91 L522.43,953.14 L522.63,953.36 L522.83,953.58 L523.03,953.79 L523.23,954.00 L523.43,954.21 L523.64,954.42 L523.84,954.62 L524.04,954.82 L524.24,955.01 L524.44,955.20 L524.64,955.39 L524.84,955.57 L525.04,955.75 L525.24,955.92 L525.44,956.09 L525.64,956.25 L525.84,956.42 L526.04,956.57 L526.24,956.72 L526.44,956.87 L526.64,957.02 L526.84,957.15 L527.05,957.29 L527.25,957.42 L527.45,957.54 L527.65,957.66 L527.85,957.77 L528.05,957.88 L528.25,957.98 L528.45,958.08 L528.65,958.17 L528.85,958.25 L529.05,958.33 L529.25,958.40 L529.45,958.47 L529.65,958.52 L529.85,958.58 L530.05,958.62 L530.25,958.66 L530.46,958.68 L530.66,958.70 L530.86,958.71 L531.06,958.70 L531.26,958.67 L531.46,958.64 L531.66,958.60 L531.86,958.56 L532.06,958.50 L532.26,958.44 L532.46,958.38 L532.66,958.30 L532.86,958.22 L533.06,958.14 L533.26,958.04 L533.46,957.95 L533.66,957.84 L533.86,957.73 L534.07,957.62 L534.27,957.50 L534.47,957.38 L534.67,957.25 L534.87,957.11 L535.07,956.97 L535.27,956.83 L535.47,956.68 L535.67,956.53 L535.87,956.37 L536.07,956.21 L536.27,956.05 L536.47,955.88 L536.67,955.70 L536.87,955.52 L537.07,955.34 L537.27,955.16 L537.48,954.97 L537.68,954.77 L537.88,954.58 L538.08,954.37 L538.28,954.17 L538.48,953.96 L538.68,953.75 L538.88,953.54 L539.08,953.32 L539.28,953.10 L539.48,952.87 L539.68,952.65 L539.88,952.42 L540.08,952.18 L540.28,951.95 L540.48,951.71 L540.68,951.47 L540.89,951.22 L541.09,950.98 L541.29,950.73 L541.49,950.47 L541.69,950.22 L541.89,949.96 L542.09,949.70 L542.29,949.44 L542.49,949.18 L542.69,948.91 L542.89,948.64 L543.09,948.37 L543.29,948.10 L543.49,947.83 L543.69,947.55 L543.89,947.27 L544.09,946.99 L544.30,946.71 L544.50,946.43 L544.70,946.14 L544.90,945.85 L545.10,945.57 L545.30,945.28 L545.50,944.99 L545.70,944.69 L545.90,944.40 L546.10,944.11 L546.30,943.81 L546.50,943.51 L546.70,943.21 L546.90,942.91 L547.10,942.61 L547.30,942.31 L547.50,942.01 L547.71,941.70 L547.91,941.40 L548.11,941.10 L548.31,940.79 L548.51,940.48 L548.71,940.18 L548.91,939.87 L549.11,939.56 L549.31,939.25 L549.51,938.94 L549.71,938.63 L549.91,938.32 L550.11,938.01 L550.31,937.70 L550.51,937.39 L550.71,937.08 L550.91,936.76 L551.12,936.45 L551.32,936.14 L551.52,935.83 L551.72,935.51 L551.92,935.20 L552.12,934.89 L552.32,934.58 L552.52,934.27 L552.72,933.95 L552.92,933.64 L553.12,933.33 L553.32,933.02 L553.52,932.71 L553.72,932.40 L553.92,932.09 L554.12,931.78 L554.32,931.47 L554.52,931.16 L554.73,930.85 L554.93,930.54 L555.13,930.24 L555.33,929.93 L555.53,929.62 L555.73,929.32 L555.93,929.01 L556.13,928.71 L556.33,928.40 L556.53,928.10 L556.73,927.80 L556.93,927.50 L557.13,927.20 L557.33,926.90 L557.53,926.60 L557.73,926.30 L557.93,926.00 L558.14,925.71 L558.34,925.41 L558.54,925.12 L558.74,924.82 L558.94,924.53 L559.14,924.24 L559.34,923.95 L559.54,923.66 L559.74,923.37 L559.94,923.09 L560.14,922.80 L560.34,922.52 L560.54,922.23 L560.74,921.95 L560.94,921.67 L561.14,921.39 L561.34,921.11 L561.55,920.84 L561.75,920.56 L561.95,920.29 L562.15,920.01 L562.35,919.74 L562.55,919.47 L562.75,919.20 L562.95,918.94 L563.15,918.67 L563.35,918.40 L563.55,918.14 L563.75,917.88 L563.95,917.62 L564.15,917.36 L564.35,917.10 L564.55,916.85 L564.75,916.59 L564.96,916.34 L565.16,916.09 L565.36,915.84 L565.56,915.59 L565.76,915.34 L565.96,915.10 L566.16,914.85 L566.36,914.61 L566.56,914.37 L566.76,914.13 L566.96,913.89 L567.16,913.66 L567.36,913.42 L567.56,913.19 L567.76,912.96 L567.96,912.73 L568.16,912.50 L568.37,912.27 L568.57,912.05 L568.77,911.82 L568.97,911.60 L569.17,911.38 L569.37,911.16 L569.57,910.95 L569.77,910.73 L569.97,910.52 L570.17,910.31 L570.37,910.10 L570.57,909.89 L570.77,909.68 L570.97,909.48 L571.17,909.27 L571.37,909.07 L571.57,908.87 L571.78,908.67 L571.98,908.47 L572.18,908.28 L572.38,908.08 L572.58,907.89 L572.78,907.70 L572.98,907.51 L573.18,907.32 L573.38,907.14 L573.58,906.95 L573.78,906.77 L573.98,906.59 L574.18,906.41 L574.38,906.23 L574.58,906.06 L574.78,905.88 L574.98,905.71 L575.19,905.54 L575.39,905.37 L575.59,905.20 L575.79,905.03 L575.99,904.86 L576.19,904.70 L576.39,904.54 L576.59,904.38 L576.79,904.22 L576.99,904.06 L577.19,903.91 L577.39,903.75 L577.59,903.60 L577.79,903.45 L577.99,903.30 L578.19,903.15 L578.39,903.00 L578.60,902.86 L578.80,902.71 L579.00,902.57 L579.20,902.43 L579.40,902.29 L579.60,902.15 L579.80,902.01 L580.00,901.88 L580.20,901.74 L580.40,901.61 L580.60,901.48 L580.80,901.35 L581.00,901.22 L581.20,901.09 L581.40,900.97 L581.60,900.85 L581.80,900.72 L582.00,900.60 L582.21,900.48 L582.41,900.36 L582.61,900.24 L582.81,900.13 L583.01,900.01 L583.21,899.90 L583.41,899.79 L583.61,899.68 L583.81,899.57 L584.01,899.46 L584.21,899.35 L584.41,899.25 L584.61,899.14 L584.81,899.04 L585.01,898.93 L585.21,898.83 L585.41,898.73 L585.62,898.64 L585.82,898.54 L586.02,898.44 L586.22,898.35 L586.42,898.25 L586.62,898.16 L586.82,898.07 L587.02,897.98 L587.22,897.89 L587.42,897.80 L587.62,897.71 L587.82,897.63 L588.02,897.54 L588.22,897.46 L588.42,897.37 L588.62,897.29 L588.82,897.21 L589.03,897.13 L589.23,897.05 L589.43,896.97 L589.63,896.90 L589.83,896.82 L590.03,896.75 L590.23,896.67 L590.43,896.60 L590.63,896.53 L590.83,896.46 L591.03,896.39 L591.23,896.32 L591.43,896.25 L591.63,896.18 L591.83,896.12 L592.03,896.05 L592.23,895.99 L592.44,895.92 L592.64,895.86 L592.84,895.80 L593.04,895.74 L593.24,895.68 L593.44,895.62 L593.64,895.56 L593.84,895.50 L594.04,895.44 L594.24,895.39 L594.44,895.33 L594.64,895.28 L594.84,895.22 L595.04,895.17 L595.24,895.12 L595.44,895.06 L595.64,895.01 L595.85,894.96 L596.05,894.91 L596.25,894.87 L596.45,894.82 L596.65,894.77 L596.85,894.72 L597.05,894.68 L597.25,894.63 L597.45,894.59 L597.65,894.54 L597.85,894.50 L598.05,894.46 L598.25,894.42 L598.45,894.37 L598.65,894.33 L598.85,894.29 L599.05,894.25 L599.26,894.21 L599.46,894.18 L599.66,894.14 L599.86,894.10 L600.06,894.06 L600.26,894.03 L600.46,893.99 L600.66,893.96 L600.86,893.92 L601.06,893.89 L601.26,893.86 L601.46,893.82 L601.66,893.79 L601.86,893.76 L602.06,893.73 L602.26,893.70 L602.46,893.67 L602.66,893.64 L602.87,893.61 L603.07,893.58 L603.27,893.55 L603.47,893.52 L603.67,893.49 L603.87,893.47 L604.07,893.44 L604.27,893.41 L604.47,893.39 L604.67,893.36 L604.87,893.34 L605.07,893.31 L605.27,893.29 L605.47,893.27 L605.67,893.24 L605.87,893.22 L606.07,893.20 L606.28,893.17 L606.48,893.15 L606.68,893.13 L606.88,893.11 L607.08,893.09 L607.28,893.07 L607.48,893.05 L607.68,893.03 L607.88,893.01 L608.08,892.99 L608.28,892.97 L608.48,892.95 L608.68,892.93 L608.88,892.92 L609.08,892.90 L609.28,892.88 L609.48,892.87 L609.69,892.85 L609.89,892.83 L610.09,892.82 L610.29,892.80 L610.49,892.78 L610.69,892.77 L610.89,892.75 L611.09,892.74 L611.29,892.73 L611.49,892.71 L611.69,892.70 L611.89,892.68 L612.09,892.67 L612.29,892.66 L612.49,892.64 L612.69,892.63 L612.89,892.62 L613.10,892.61 L613.30,892.59 L613.50,892.58 L613.70,892.57 L613.90,892.56 L614.10,892.55 L614.30,892.54 L614.50,892.53 L614.70,892.52 L614.90,892.51 L615.10,892.50 L615.30,892.49 L615.50,892.48 L615.70,892.47 L615.90,892.46 L616.10,892.45 L616.30,892.44 L616.51,892.43 L616.71,892.42 L616.91,892.41 L617.11,892.40 L617.31,892.39 L617.51,892.39 L617.71,892.38 L617.91,892.37 L618.11,892.36 L618.31,892.36 L618.51,892.35 L618.71,892.34 L618.91,892.33 L619.11,892.33 L619.31,892.32 L619.51,892.31 L619.71,892.31 L619.92,892.30 L620.12,892.29 L620.32,892.29 L620.52,892.28 L620.72,892.28 L620.92,892.27 L621.12,892.26 L621.32,892.26 L621.52,892.25 L621.72,892.25 L621.92,892.24 L622.12,892.24 L622.32,892.23 L622.52,892.23 L622.72,892.22 L622.92,892.22 L623.12,892.21 L623.33,892.21 L623.53,892.20 L623.73,892.20 L623.93,892.19 L624.13,892.19 L624.33,892.19 L624.53,892.18 L624.73,892.18 L624.93,892.17 L625.13,892.17 L625.33,892.17 L625.53,892.16 L625.73,892.16 L625.93,892.16 L626.13,892.15 L626.33,892.15 L626.53,892.15 L626.73,892.14 L626.94,892.14 L627.14,892.14 L627.34,892.13 L627.54,892.13 L627.74,892.13 L627.94,892.12 L628.14,892.12 L628.34,892.12 L628.54,892.12 L628.74,892.11 L628.94,892.11 L629.14,892.11 L629.34,892.11 L629.54,892.10 L629.74,892.10 L629.94,892.10 L630.14,892.10 L630.35,892.09 L630.55,892.09 L630.75,892.09 L630.95,892.09 L631.15,892.09 L631.35,892.08 L631.55,892.08 L631.75,892.08 L631.95,892.08 L632.15,892.08 L632.35,892.07 L632.55,892.07 L632.75,892.07 L632.95,892.07 L633.15,892.07 L633.35,892.07 L633.55,892.07 L633.76,892.06 L633.96,892.06 L634.16,892.06 L634.36,892.06 L634.56,892.06 L634.76,892.06 L634.96,892.06 L635.16,892.05 L635.36,892.05 L635.56,892.05 L635.76,892.05 L635.96,892.05 L636.16,892.05 L636.36,892.05 L636.56,892.05 L636.76,892.04 L636.96,892.04 L637.17,892.04 L637.37,892.04 L637.57,892.04 L637.77,892.04 L637.97,892.04 L638.17,892.04 L638.37,892.04 L638.57,892.04 L638.77,892.03 L638.97,892.03 L639.17,892.03 L639.37,892.03 L639.57,892.03 L639.77,892.03 L639.97,892.03 L640.17,892.03 L640.37,892.03 L640.58,892.03 L640.78,892.03 L640.98,892.03 L641.18,892.03 L641.38,892.03 L641.58,892.02 L641.78,892.02 L641.98,892.02 L642.18,892.02 L642.38,892.02 L642.58,892.02 L642.78,892.02 L642.98,892.02 L643.18,892.02 L643.38,892.02 L643.58,892.02 L643.78,892.02 L643.99,892.02 L644.19,892.02 L644.39,892.02 L644.59,892.02 L644.79,892.02 L644.99,892.02 L645.19,892.02 L645.39,892.02 L645.59,892.01 L645.79,892.01 L645.99,892.01 L646.19,892.01 L646.39,892.01 L646.59,892.01 L646.79,892.01 L646.99,892.01 L647.19,892.01 L647.40,892.01 L647.60,892.01 L647.80,892.01 L648.00,892.01 L648.20,892.01 L648.40,892.01 L648.60,892.01 L648.80,892.01 L649.00,892.01 L649.20,892.01 L649.40,892.01 L649.60,892.01 L649.80,892.01 L650.00,892.01 L650.20,892.01 L650.40,892.01 L650.60,892.01 L650.81,892.01 L651.01,892.01 L651.21,892.01 L651.41,892.01 L651.61,892.01 L651.81,892.01 L652.01,892.01 L652.21,892.01 L652.41,892.01 L652.61,892.01 L652.81,892.01 L653.01,892.01 L653.21,892.01 L653.41,892.01 L653.61,892.01 L653.81,892.00 L654.01,892.00 L654.21,892.00 L654.42,892.00 L654.62,892.00 L654.82,892.00 L655.02,892.00 L655.22,892.00 L655.42,892.00 L655.62,892.00 L655.82,892.00 L656.02,892.00 L656.22,892.00 L656.42,892.00 L656.62,892.00 L656.82,892.00 L657.02,892.00 L657.22,892.00 L657.42,892.00 L657.62,892.00 L657.83,892.00 L658.03,892.00 L658.23,892.00 L658.43,892.00 L658.63,892.00 L658.83,892.00 L659.03,892.00 L659.23,892.00 L659.43,892.00 L659.63,892.00 L659.83,892.00 L660.03,892.00 L660.23,892.00 L660.43,892.00 L660.63,892.00 L660.83,892.00 L661.03,892.00 L661.24,892.00 L661.44,892.00 L661.64,892.04 L661.84,892.31 L662.04,892.81 L662.24,893.56 L662.44,894.54 L662.64,895.76 L662.84,897.21 L663.04,898.90 L663.24,900.82 L663.44,902.96 L663.64,905.33 L663.84,907.91 L664.04,910.72 L664.24,913.73 L664.44,916.95 L664.65,920.37 L664.85,923.99 L665.05,927.80 L665.25,931.79 L665.45,935.96 L665.65,940.30 L665.85,944.81 L666.05,949.47 L666.25,954.29 L666.45,959.24 L666.65,964.33 L666.85,969.55 L667.05,974.89 L667.25,980.34 L667.45,985.89 L667.65,991.53 L667.85,997.26 L668.06,1003.06 L668.26,1008.93 L668.46,1014.85 L668.66,1020.83 L668.86,1026.84 L669.06,1032.87 L669.26,1038.93 L669.46,1045.00 L669.66,1044.44 L669.86,1043.62 L670.06,1042.53 L670.26,1041.18 L670.46,1039.57 L670.66,1037.70 L670.86,1035.58 L671.06,1033.20 L671.26,1030.57 L671.47,1027.70 L671.67,1024.59 L671.87,1021.25 L672.07,1017.67 L672.27,1013.88 L672.47,1009.87 L672.67,1005.64 L672.87,1001.22 L673.07,996.60 L673.27,991.80 L673.47,986.82 L673.67,981.67 L673.87,976.35 L674.07,970.89 L674.27,965.29 L674.47,959.56 L674.67,953.71 L674.88,947.75 L675.08,941.69 L675.28,935.54 L675.48,929.32 L675.68,923.02 L675.88,916.68 L676.08,910.29 L676.28,903.87 L676.48,897.43 L676.68,890.98 L676.88,884.54 L677.08,878.11 L677.28,871.71 L677.48,865.34 L677.68,859.03 L677.88,852.78 L678.08,846.60 L678.28,840.50 L678.49,834.50 L678.69,828.60 L678.89,822.82 L679.09,817.17 L679.29,811.65 L679.49,806.28 L679.69,801.06 L679.89,796.01 L680.09,791.13 L680.29,786.44 L680.49,781.94 L680.69,777.63 L680.89,773.54 L681.09,769.65 L681.29,765.99 L681.49,762.55 L681.69,759.35 L681.90,756.38 L682.10,753.66 L682.30,751.18 L682.50,748.95 L682.70,746.98 L682.90,745.27 L683.10,743.81 L683.30,742.62 L683.50,741.69 L683.70,741.03 L683.90,741.08 L684.10,741.65 L684.30,742.45 L684.50,743.47 L684.70,744.71 L684.90,746.17 L685.10,747.84 L685.31,749.73 L685.51,751.82 L685.71,754.11 L685.91,756.61 L686.11,759.30 L686.31,762.18 L686.51,765.25 L686.71,768.49 L686.91,771.91 L687.11,775.49 L687.31,779.23 L687.51,783.11 L687.71,787.14 L687.91,791.31 L688.11,795.60 L688.31,800.00 L688.51,804.52 L688.72,809.13 L688.92,813.83 L689.12,818.61 L689.32,823.46 L689.52,828.36 L689.72,833.32 L689.92,838.32 L690.12,843.34 L690.32,848.38 L690.52,853.43 L690.72,858.47 L690.92,863.51 L691.12,868.51 L691.32,873.49 L691.52,878.42 L691.72,883.29 L691.92,888.10 L692.13,892.83 L692.33,897.48 L692.53,902.03 L692.73,906.48 L692.93,910.82 L693.13,915.04 L693.33,919.12 L693.53,923.07 L693.73,926.86 L693.93,930.51 L694.13,933.99 L694.33,937.30 L694.53,940.44 L694.73,943.40 L694.93,946.16 L695.13,948.74 L695.33,951.12 L695.54,953.29 L695.74,955.26 L695.94,957.01 L696.14,958.56 L696.34,959.88 L696.54,960.99 L696.74,961.88 L696.94,962.55 L697.14,962.99 L697.34,962.61 L697.54,962.04 L697.74,961.28 L697.94,960.34 L698.14,959.22 L698.34,957.92 L698.54,956.44 L698.74,954.78 L698.94,952.95 L699.15,950.95 L699.35,948.78 L699.55,946.45 L699.75,943.96 L699.95,941.32 L700.15,938.52 L700.35,935.58 L700.55,932.50 L700.75,929.29 L700.95,925.94 L701.15,922.48 L701.35,918.90 L701.55,915.21 L701.75,911.41 L701.95,907.53 L702.15,903.55 L702.35,899.49 L702.56,895.36 L702.76,891.17 L702.96,886.91 L703.16,882.61 L703.36,878.26 L703.56,873.88 L703.76,869.47 L703.96,865.05 L704.16,860.62 L704.36,856.19 L704.56,851.76 L704.76,847.35 L704.96,842.97 L705.16,838.61 L705.36,834.30 L705.56,830.03 L705.76,825.82 L705.97,821.68 L706.17,817.61 L706.37,813.61 L706.57,809.71 L706.77,805.90 L706.97,802.18 L707.17,798.58 L707.37,795.09 L707.57,791.72 L707.77,788.48 L707.97,785.38 L708.17,782.41 L708.37,779.58 L708.57,776.91 L708.77,774.39 L708.97,772.02 L709.17,769.82 L709.38,767.79 L709.58,765.92 L709.78,764.23 L709.98,762.72 L710.18,761.38 L710.38,760.22 L710.58,759.24 L710.78,758.45 L710.98,757.84 L711.18,757.42 L711.38,757.73 L711.58,758.38 L711.78,759.26 L711.98,760.34 L712.18,761.64 L712.38,763.16 L712.58,764.88 L712.79,766.81 L712.99,768.95 L713.19,771.29 L713.39,773.83 L713.59,776.57 L713.79,779.50 L713.99,782.61 L714.19,785.91 L714.39,789.38 L714.59,793.03 L714.79,796.85 L714.99,800.83 L715.19,804.96 L715.39,809.24 L715.59,813.67 L715.79,818.23 L715.99,822.92 L716.20,827.73 L716.40,832.66 L716.60,837.69 L716.80,842.83 L717.00,848.05 L717.20,853.36 L717.40,858.74 L717.60,864.19 L717.80,869.69 L718.00,875.24 L718.20,880.84 L718.40,886.47 L718.60,892.12 L718.80,897.78 L719.00,903.45 L719.20,909.11 L719.40,914.77 L719.61,920.40 L719.81,926.00 L720.01,931.56 L720.21,937.08 L720.41,942.54 L720.61,947.93 L720.81,953.25 L721.01,958.50 L721.21,963.65 L721.41,968.70 L721.61,973.65 L721.81,978.49 L722.01,983.20 L722.21,987.79 L722.41,992.24 L722.61,996.55 L722.81,1000.72 L723.02,1004.73 L723.22,1008.58 L723.42,1012.26 L723.62,1015.77 L723.82,1019.10 L724.02,1022.26 L724.22,1025.22 L724.42,1028.00 L724.62,1030.58 L724.82,1032.96 L725.02,1035.13 L725.22,1037.11 L725.42,1038.87 L725.62,1040.43 L725.82,1041.77 L726.02,1042.90 L726.22,1043.82 L726.42,1044.52 L726.63,1045.00 L726.83,1039.20 L727.03,1033.40 L727.23,1027.62 L727.43,1021.87 L727.63,1016.15 L727.83,1010.47 L728.03,1004.84 L728.23,999.27 L728.43,993.76 L728.63,988.33 L728.83,982.98 L729.03,977.72 L729.23,972.56 L729.43,967.50 L729.63,962.55 L729.83,957.72 L730.04,953.02 L730.24,948.44 L730.44,944.01 L730.64,939.72 L730.84,935.59 L731.04,931.61 L731.24,927.80 L731.44,924.15 L731.64,920.68 L731.84,917.38 L732.04,914.27 L732.24,911.35 L732.44,908.62 L732.64,906.09 L732.84,903.76 L733.04,901.63 L733.24,899.71 L733.45,897.99 L733.65,896.49 L733.85,895.20 L734.05,894.13 L734.25,893.27 L734.45,892.63 L734.65,892.22 L734.85,892.02 L735.05,892.00 L735.25,892.00 L735.45,892.00 L735.65,892.00 L735.85,892.00 L736.05,892.00 L736.25,892.00 L736.45,892.00 L736.65,892.00 L736.86,892.00 L737.06,892.00 L737.26,892.00 L737.46,892.00 L737.66,892.00 L737.86,892.00 L738.06,892.00 L738.26,892.00 L738.46,892.00 L738.66,892.00 L738.86,892.00 L739.06,892.00 L739.26,892.00 L739.46,892.00 L739.66,892.00 L739.86,892.00 L740.06,892.00 L740.27,892.00 L740.47,892.00 L740.67,892.00 L740.87,892.00 L741.07,892.00 L741.27,892.00 L741.47,892.00 L741.67,892.00 L741.87,892.00 L742.07,892.00 L742.27,892.00 L742.47,892.00 L742.67,892.00 L742.87,892.00 L743.07,892.00 L743.27,892.00 L743.47,892.00 L743.68,892.00 L743.88,892.00 L744.08,892.00 L744.28,892.00 L744.48,892.00 L744.68,892.00 L744.88,892.00 L745.08,892.00 L745.28,892.00 L745.48,892.00 L745.68,892.00 L745.88,892.00 L746.08,892.00 L746.28,892.00 L746.48,892.00 L746.68,892.00 L746.88,892.00 L747.09,892.00 L747.29,892.00 L747.49,892.00 L747.69,892.00 L747.89,892.00 L748.09,892.00 L748.29,892.00 L748.49,892.00 L748.69,892.00 L748.89,892.00 L749.09,892.00 L749.29,892.00 L749.49,892.00 L749.69,892.00 L749.89,892.00 L750.09,892.00 L750.29,892.00 L750.49,892.00 L750.70,892.00 L750.90,892.00 L751.10,892.00 L751.30,892.00 L751.50,892.00 L751.70,892.00 L751.90,892.00 L752.10,892.00 L752.30,892.00 L752.50,892.00 L752.70,892.00 L752.90,892.00 L753.10,892.00 L753.30,892.00 L753.50,892.00 L753.70,892.00 L753.90,892.00 L754.11,892.00 L754.31,892.00 L754.51,892.00 L754.71,892.00 L754.91,892.00 L755.11,892.00 L755.31,892.00 L755.51,892.00 L755.71,892.00 L755.91,892.00 L756.11,892.00 L756.31,892.00 L756.51,892.00 L756.71,892.00 L756.91,892.00 L757.11,892.00 L757.31,892.00 L757.52,892.00 L757.72,892.00 L757.92,892.00 L758.12,892.01 L758.32,892.01 L758.52,892.01 L758.72,892.01 L758.92,892.01 L759.12,892.01 L759.32,892.01 L759.52,892.01 L759.72,892.01 L759.92,892.01 L760.12,892.01 L760.32,892.01 L760.52,892.01 L760.72,892.01 L760.93,892.01 L761.13,892.01 L761.33,892.01 L761.53,892.01 L761.73,892.01 L761.93,892.01 L762.13,892.01 L762.33,892.01 L762.53,892.01 L762.73,892.01 L762.93,892.01 L763.13,892.01 L763.33,892.01 L763.53,892.01 L763.73,892.01 L763.93,892.01 L764.13,892.01 L764.34,892.01 L764.54,892.02 L764.74,892.02 L764.94,892.02 L765.14,892.02 L765.34,892.02 L765.54,892.02 L765.74,892.02 L765.94,892.02 L766.14,892.02 L766.34,892.02 L766.54,892.02 L766.74,892.02 L766.94,892.02 L767.14,892.02 L767.34,892.02 L767.54,892.02 L767.75,892.03 L767.95,892.03 L768.15,892.03 L768.35,892.03 L768.55,892.03 L768.75,892.03 L768.95,892.03 L769.15,892.03 L769.35,892.03 L769.55,892.03 L769.75,892.03 L769.95,892.04 L770.15,892.04 L770.35,892.04 L770.55,892.04 L770.75,892.04 L770.95,892.04 L771.15,892.04 L771.36,892.04 L771.56,892.05 L771.76,892.05 L771.96,892.05 L772.16,892.05 L772.36,892.05 L772.56,892.05 L772.76,892.05 L772.96,892.06 L773.16,892.06 L773.36,892.06 L773.56,892.06 L773.76,892.06 L773.96,892.07 L774.16,892.07 L774.36,892.07 L774.56,892.07 L774.77,892.07 L774.97,892.08 L775.17,892.08 L775.37,892.08 L775.57,892.08 L775.77,892.08 L775.97,892.09 L776.17,892.09 L776.37,892.09 L776.57,892.10 L776.77,892.10 L776.97,892.10 L777.17,892.10 L777.37,892.11 L777.57,892.11 L777.77,892.11 L777.97,892.12 L778.18,892.12 L778.38,892.12 L778.58,892.13 L778.78,892.13 L778.98,892.13 L779.18,892.14 L779.38,892.14 L779.58,892.15 L779.78,892.15 L779.98,892.15 L780.18,892.16 L780.38,892.16 L780.58,892.17 L780.78,892.17 L780.98,892.18 L781.18,892.18 L781.38,892.19 L781.59,892.19 L781.79,892.20 L781.99,892.20 L782.19,892.21 L782.39,892.21 L782.59,892.22 L782.79,892.23 L782.99,892.23 L783.19,892.24 L783.39,892.24 L783.59,892.25 L783.79,892.26 L783.99,892.26 L784.19,892.27 L784.39,892.28 L784.59,892.29 L784.79,892.29 L785.00,892.30 L785.20,892.31 L785.40,892.32 L785.60,892.33 L785.80,892.33 L786.00,892.34 L786.20,892.35 L786.40,892.36 L786.60,892.37 L786.80,892.38 L787.00,892.39 L787.20,892.40 L787.40,892.41 L787.60,892.42 L787.80,892.43 L788.00,892.44 L788.20,892.45 L788.41,892.47 L788.61,892.48 L788.81,892.49 L789.01,892.50 L789.21,892.51 L789.41,892.53 L789.61,892.54 L789.81,892.55 L790.01,892.57 L790.21,892.58 L790.41,892.60 L790.61,892.61 L790.81,892.63 L791.01,892.64 L791.21,892.66 L791.41,892.67 L791.61,892.69 L791.82,892.71 L792.02,892.72 L792.22,892.74 L792.42,892.76 L792.62,892.78 L792.82,892.80 L793.02,892.82 L793.22,892.83 L793.42,892.85 L793.62,892.87 L793.82,892.90 L794.02,892.92 L794.22,892.94 L794.42,892.96 L794.62,892.98 L794.82,893.01 L795.02,893.03 L795.23,893.05 L795.43,893.08 L795.63,893.10 L795.83,893.13 L796.03,893.15 L796.23,893.18 L796.43,893.21 L796.63,893.23 L796.83,893.26 L797.03,893.29 L797.23,893.32 L797.43,893.35 L797.63,893.38 L797.83,893.41 L798.03,893.44 L798.23,893.47 L798.43,893.51 L798.63,893.54 L798.84,893.57 L799.04,893.61 L799.24,893.64 L799.44,893.68 L799.64,893.72 L799.84,893.75 L800.04,893.79 L800.24,893.83 L800.44,893.87 L800.64,893.91 L800.84,893.95 L801.04,893.99 L801.24,894.03 L801.44,894.08 L801.64,894.12 L801.84,894.17 L802.04,894.21 L802.25,894.26 L802.45,894.30 L802.65,894.35 L802.85,894.40 L803.05,894.45 L803.25,894.50 L803.45,894.55 L803.65,894.60 L803.85,894.66 L804.05,894.71 L804.25,894.77 L804.45,894.82 L804.65,894.88 L804.85,894.94 L805.05,895.00 L805.25,895.06 L805.45,895.12 L805.66,895.18 L805.86,895.24 L806.06,895.30 L806.26,895.37 L806.46,895.43 L806.66,895.50 L806.86,895.57 L807.06,895.64 L807.26,895.71 L807.46,895.78 L807.66,895.85 L807.86,895.93 L808.06,896.00 L808.26,896.08 L808.46,896.15 L808.66,896.23 L808.86,896.31 L809.07,896.39 L809.27,896.47 L809.47,896.56 L809.67,896.64 L809.87,896.73 L810.07,896.81 L810.27,896.90 L810.47,896.99 L810.67,897.08 L810.87,897.18 L811.07,897.27 L811.27,897.36 L811.47,897.46 L811.67,897.56 L811.87,897.66 L812.07,897.76 L812.27,897.86 L812.48,897.96 L812.68,898.07 L812.88,898.17 L813.08,898.28 L813.28,898.39 L813.48,898.50 L813.68,898.61 L813.88,898.72 L814.08,898.84 L814.28,898.96 L814.48,899.07 L814.68,899.19 L814.88,899.31 L815.08,899.44 L815.28,899.56 L815.48,899.69 L815.68,899.81 L815.89,899.94 L816.09,900.07 L816.29,900.21 L816.49,900.34 L816.69,900.48 L816.89,900.61 L817.09,900.75 L817.29,900.89 L817.49,901.03 L817.69,901.18 L817.89,901.32 L818.09,901.47 L818.29,901.62 L818.49,901.77 L818.69,901.92 L818.89,902.08 L819.09,902.23 L819.29,902.39 L819.50,902.55 L819.70,902.71 L819.90,902.87 L820.10,903.04 L820.30,903.21 L820.50,903.37 L820.70,903.54 L820.90,903.72 L821.10,903.89 L821.30,904.07 L821.50,904.24 L821.70,904.42 L821.90,904.60 L822.10,904.79 L822.30,904.97 L822.50,905.16 L822.70,905.35 L822.91,905.54 L823.11,905.73 L823.31,905.92 L823.51,906.12 L823.71,906.32 L823.91,906.51 L824.11,906.72 L824.31,906.92 L824.51,907.12 L824.71,907.33 L824.91,907.54 L825.11,907.75 L825.31,907.96 L825.51,908.18 L825.71,908.39 L825.91,908.61 L826.11,908.83 L826.32,909.05 L826.52,909.27 L826.72,909.50 L826.92,909.73 L827.12,909.95 L827.32,910.18 L827.52,910.42 L827.72,910.65 L827.92,910.89 L828.12,911.12 L828.32,911.36 L828.52,911.60 L828.72,911.85 L828.92,912.09 L829.12,912.34 L829.32,912.59 L829.52,912.83 L829.73,913.09 L829.93,913.34 L830.13,913.59 L830.33,913.85 L830.53,914.11 L830.73,914.37 L830.93,914.63 L831.13,914.89 L831.33,915.16 L831.53,915.42 L831.73,915.69 L831.93,915.96 L832.13,916.23 L832.33,916.50 L832.53,916.77 L832.73,917.05 L832.93,917.32 L833.14,917.60 L833.34,917.88 L833.54,918.16 L833.74,918.44 L833.94,918.73 L834.14,919.01 L834.34,919.30 L834.54,919.58 L834.74,919.87 L834.94,920.16 L835.14,920.45 L835.34,920.74 L835.54,921.04 L835.74,921.33 L835.94,921.63 L836.14,921.92 L836.34,922.22 L836.55,922.52 L836.75,922.82 L836.95,923.12 L837.15,923.42 L837.35,923.72 L837.55,924.02 L837.75,924.33 L837.95,924.63 L838.15,924.94 L838.35,925.24 L838.55,925.55 L838.75,925.86 L838.95,926.17 L839.15,926.48 L839.35,926.79 L839.55,927.10 L839.75,927.41 L839.96,927.72 L840.16,928.03 L840.36,928.34 L840.56,928.65 L840.76,928.97 L840.96,929.28 L841.16,929.59 L841.36,929.90 L841.56,930.22 L841.76,930.53 L841.96,930.84 L842.16,931.16 L842.36,931.47 L842.56,931.79 L842.76,932.10 L842.96,932.41 L843.16,932.73 L843.37,933.04 L843.57,933.35 L843.77,933.67 L843.97,933.98 L844.17,934.29 L844.37,934.60 L844.57,934.91 L844.77,935.22 L844.97,935.53 L845.17,935.84 L845.37,936.15 L845.57,936.46 L845.77,936.77 L845.97,937.08 L846.17,937.38 L846.37,937.69 L846.57,937.99 L846.77,938.30 L846.98,938.60 L847.18,938.90 L847.38,939.20 L847.58,939.50 L847.78,939.80 L847.98,940.10 L848.18,940.39 L848.38,940.69 L848.58,940.98 L848.78,941.27 L848.98,941.57 L849.18,941.85 L849.38,942.14 L849.58,942.43 L849.78,942.71 L849.98,943.00 L850.18,943.28 L850.39,943.56 L850.59,943.83 L850.79,944.11 L850.99,944.38 L851.19,944.66 L851.39,944.93 L851.59,945.20 L851.79,945.46 L851.99,945.73 L852.19,945.99 L852.39,946.25 L852.59,946.51 L852.79,946.76 L852.99,947.01 L853.19,947.26 L853.39,947.51 L853.59,947.76 L853.80,948.00 L854.00,948.24 L854.20,948.48 L854.40,948.72 L854.60,948.95 L854.80,949.18 L855.00,949.41 L855.20,949.63 L855.40,949.86 L855.60,950.07 L855.80,950.29 L856.00,950.50 L856.20,950.72 L856.40,950.92 L856.60,951.13 L856.80,951.33 L857.00,951.53 L857.21,951.72 L857.41,951.91 L857.61,952.10 L857.81,952.29 L858.01,952.47 L858.21,952.65 L858.41,952.83 L858.61,953.00 L858.81,953.17 L859.01,953.33 L859.21,953.50 L859.41,953.65 L859.61,953.81 L859.81,953.96 L860.01,954.11 L860.21,954.25 L860.41,954.39 L860.62,954.53 L860.82,954.66 L861.02,954.79 L861.22,954.92 L861.42,955.04 L861.62,955.16 L861.82,955.27 L862.02,955.39 L862.22,955.49 L862.42,955.60 L862.62,955.69 L862.82,955.79 L863.02,955.88 L863.22,955.97 L863.42,956.05 L863.62,956.13 L863.82,956.21 L864.03,956.28 L864.23,956.35 L864.43,956.41 L864.63,956.47 L864.83,956.52 L865.03,956.58 L865.23,956.62 L865.43,956.67 L865.63,956.71 L865.83,956.74 L866.03,956.77 L866.23,956.80 L866.43,956.82 L866.63,956.84 L866.83,956.85 L867.03,956.86 L867.23,956.87 L867.43,956.87 L867.64,956.87 L867.84,956.86 L868.04,956.85 L868.24,956.83 L868.44,956.81 L868.64,956.79 L868.84,956.76 L869.04,956.72 L869.24,956.68 L869.44,956.64 L869.64,956.59 L869.84,956.54 L870.04,956.48 L870.24,956.41 L870.44,956.35 L870.64,956.27 L870.84,956.20 L871.05,956.12 L871.25,956.03 L871.45,955.94 L871.65,955.85 L871.85,955.75 L872.05,955.64 L872.25,955.54 L872.45,955.42 L872.65,955.31 L872.85,955.18 L873.05,955.06 L873.25,954.93 L873.45,954.80 L873.65,954.66 L873.85,954.51 L874.05,954.37 L874.25,954.22 L874.46,954.06 L874.66,953.90 L874.86,953.74 L875.06,953.57 L875.26,953.40 L875.46,953.23 L875.66,953.05 L875.86,952.86 L876.06,952.68 L876.26,952.49 L876.46,952.29 L876.66,952.09 L876.86,951.89 L877.06,951.69 L877.26,951.48 L877.46,951.27 L877.66,951.05 L877.87,950.83 L878.07,950.61 L878.27,950.38 L878.47,950.15 L878.67,949.92 L878.87,949.68 L879.07,949.44 L879.27,949.20 L879.47,948.96 L879.67,948.71 L879.87,948.45 L880.07,948.20 L880.27,947.94 L880.47,947.68 L880.67,947.42 L880.87,947.15 L881.07,946.89 L881.28,946.61 L881.48,946.34 L881.68,946.06 L881.88,945.78 L882.08,945.50 L882.28,945.22 L882.48,944.93 L882.68,944.65 L882.88,944.36 L883.08,944.06 L883.28,943.77 L883.48,943.47 L883.68,943.17 L883.88,942.87 L884.08,942.57 L884.28,942.27 L884.48,941.96 L884.69,941.65 L884.89,941.34 L885.09,941.03 L885.29,940.72 L885.49,940.40 L885.69,940.09 L885.89,939.77 L886.09,939.45 L886.29,939.13 L886.49,938.81 L886.69,938.49 L886.89,938.17 L887.09,937.84 L887.29,937.52 L887.49,937.19 L887.69,936.86 L887.89,936.53 L888.10,936.21 L888.30,935.88 L888.50,935.55 L888.70,935.22 L888.90,934.88 L889.10,934.55 L889.30,934.22 L889.50,933.89 L889.70,933.55 L889.90,933.22 L890.10,932.89 L890.30,932.55 L890.50,932.22 L890.70,931.88 L890.90,931.55 L891.10,931.21 L891.30,930.88 L891.51,930.54 L891.71,930.21 L891.91,929.88 L892.11,929.54 L892.31,929.21 L892.51,928.87 L892.71,928.54 L892.91,928.21 L893.11,927.88 L893.31,927.54 L893.51,927.21 L893.71,926.88 L893.91,926.55 L894.11,926.22 L894.31,925.89 L894.51,925.57 L894.71,925.24 L894.91,924.91 L895.12,924.59 L895.32,924.26 L895.52,923.94 L895.72,923.62 L895.92,923.29 L896.12,922.97 L896.32,922.65 L896.52,922.33 L896.72,922.02 L896.92,921.70 L897.12,921.39 L897.32,921.07 L897.52,920.76 L897.72,920.45 L897.92,920.14 L898.12,919.83 L898.32,919.52 L898.53,919.22 L898.73,918.91 L898.93,918.61 L899.13,918.31 L899.33,918.01 L899.53,917.71 L899.73,917.41 L899.93,917.12 L900.13,916.82 L900.33,916.53 L900.53,916.24 L900.73,915.95 L900.93,915.67 L901.13,915.38 L901.33,915.10 L901.53,914.82 L901.73,914.54 L901.94,914.26 L902.14,913.99 L902.34,913.71 L902.54,913.44 L902.74,913.17 L902.94,912.90 L903.14,912.63 L903.34,912.37 L903.54,912.11 L903.74,911.85 L903.94,911.59 L904.14,911.33 L904.34,911.08 L904.54,910.82 L904.74,910.57 L904.94,910.32 L905.14,910.08 L905.35,909.83 L905.55,909.59 L905.75,909.35 L905.95,909.11 L906.15,908.87 L906.35,908.64 L906.55,908.41 L906.75,908.18 L906.95,907.95 L907.15,907.72 L907.35,907.50 L907.55,907.28 L907.75,907.06 L907.95,906.84 L908.15,906.62 L908.35,906.41 L908.55,906.20 L908.76,905.99 L908.96,905.78 L909.16,905.58 L909.36,905.37 L909.56,905.17 L909.76,904.97 L909.96,904.78 L910.16,904.58 L910.36,904.39 L910.56,904.20 L910.76,904.01 L910.96,903.82 L911.16,903.64 L911.36,903.46 L911.56,903.27 L911.76,903.10 L911.96,902.92 L912.17,902.75 L912.37,902.57 L912.57,902.40 L912.77,902.24 L912.97,902.07 L913.17,901.90 L913.37,901.74 L913.57,901.58 L913.77,901.42 L913.97,901.27 L914.17,901.11 L914.37,900.96 L914.57,900.81 L914.77,900.66 L914.97,900.51 L915.17,900.37 L915.37,900.23 L915.58,900.08 L915.78,899.95 L915.98,899.81 L916.18,899.67 L916.38,899.54 L916.58,899.41 L916.78,899.28 L916.98,899.15 L917.18,899.02 L917.38,898.90 L917.58,898.77 L917.78,898.65 L917.98,898.53 L918.18,898.41 L918.38,898.30 L918.58,898.18 L918.78,898.07 L918.98,897.96 L919.19,897.85 L919.39,897.74 L919.59,897.63 L919.79,897.53 L919.99,897.42 L920.19,897.32 L920.39,897.22 L920.59,897.12 L920.79,897.02 L920.99,896.93 L921.19,896.83 L921.39,896.74 L921.59,896.65 L921.79,896.56 L921.99,896.47 L922.19,896.38 L922.39,896.30 L922.60,896.21 L922.80,896.13 L923.00,896.05 L923.20,895.97 L923.40,895.89 L923.60,895.81 L923.80,895.73 L924.00,895.66 L924.20,895.59 L924.40,895.51 L924.60,895.44 L924.80,895.37 L925.00,895.30 L925.20,895.23 L925.40,895.17 L925.60,895.10 L925.80,895.04 L926.01,894.97 L926.21,894.91 L926.41,894.85 L926.61,894.79 L926.81,894.73 L927.01,894.67 L927.21,894.62 L927.41,894.56 L927.61,894.51 L927.81,894.45 L928.01,894.40 L928.21,894.35 L928.41,894.30 L928.61,894.25 L928.81,894.20 L929.01,894.15 L929.21,894.10 L929.42,894.06 L929.62,894.01 L929.82,893.97 L930.02,893.92 L930.22,893.88 L930.42,893.84 L930.62,893.80 L930.82,893.75 L931.02,893.71 L931.22,893.68 L931.42,893.64 L931.62,893.60 L931.82,893.56 L932.02,893.53 L932.22,893.49 L932.42,893.46 L932.62,893.42 L932.83,893.39 L933.03,893.36 L933.23,893.33 L933.43,893.30 L933.63,893.27 L933.83,893.24 L934.03,893.21 L934.23,893.18 L934.43,893.15 L934.63,893.12 L934.83,893.10 L935.03,893.07 L935.23,893.04 L935.43,893.02 L935.63,892.99 L935.83,892.97 L936.03,892.95 L936.24,892.92 L936.44,892.90 L936.64,892.88 L936.84,892.86 L937.04,892.83 L937.24,892.81 L937.44,892.79 L937.64,892.77 L937.84,892.75 L938.04,892.74 L938.24,892.72 L938.44,892.70 L938.64,892.68 L938.84,892.66 L939.04,892.65 L939.24,892.63 L939.44,892.61 L939.64,892.60 L939.85,892.58 L940.05,892.57 L940.25,892.55 L940.45,892.54 L940.65,892.53 L940.85,892.51 L941.05,892.50 L941.25,892.48 L941.45,892.47 L941.65,892.46 L941.85,892.45 L942.05,892.44 L942.25,892.42 L942.45,892.41 L942.65,892.40 L942.85,892.39 L943.05,892.38 L943.26,892.37 L943.46,892.36 L943.66,892.35 L943.86,892.34 L944.06,892.33 L944.26,892.32 L944.46,892.31 L944.66,892.31 L944.86,892.30 L945.06,892.29 L945.26,892.28 L945.46,892.27 L945.66,892.27 L945.86,892.26 L946.06,892.25 L946.26,892.24 L946.46,892.24 L946.67,892.23 L946.87,892.22 L947.07,892.22 L947.27,892.21 L947.47,892.21 L947.67,892.20 L947.87,892.19 L948.07,892.19 L948.27,892.18 L948.47,892.18 L948.67,892.17 L948.87,892.17 L949.07,892.16 L949.27,892.16 L949.47,892.15 L949.67,892.15 L949.87,892.14 L950.08,892.14 L950.28,892.14 L950.48,892.13 L950.68,892.13 L950.88,892.12 L951.08,892.12 L951.28,892.12 L951.48,892.11 L951.68,892.11 L951.88,892.11 L952.08,892.10 L952.28,892.10 L952.48,892.10 L952.68,892.09 L952.88,892.09 L953.08,892.09 L953.28,892.09 L953.49,892.08 L953.69,892.08 L953.89,892.08 L954.09,892.08 L954.29,892.07 L954.49,892.07 L954.69,892.07 L954.89,892.07 L955.09,892.07 L955.29,892.06 L955.49,892.06 L955.69,892.06 L955.89,892.06 L956.09,892.06 L956.29,892.05 L956.49,892.05 L956.69,892.05 L956.90,892.05 L957.10,892.05 L957.30,892.05 L957.50,892.04 L957.70,892.04 L957.90,892.04 L958.10,892.04 L958.30,892.04 L958.50,892.04 L958.70,892.04 L958.90,892.04 L959.10,892.03 L959.30,892.03 L959.50,892.03 L959.70,892.03 L959.90,892.03 L960.10,892.03 L960.31,892.03 L960.51,892.03 L960.71,892.03 L960.91,892.03 L961.11,892.02 L961.31,892.02 L961.51,892.02 L961.71,892.02 L961.91,892.02 L962.11,892.02 L962.31,892.02 L962.51,892.02 L962.71,892.02 L962.91,892.02 L963.11,892.02 L963.31,892.02 L963.51,892.02 L963.71,892.02 L963.92,892.02 L964.12,892.01 L964.32,892.01 L964.52,892.01 L964.72,892.01 L964.92,892.01 L965.12,892.01 L965.32,892.01 L965.52,892.01 L965.72,892.01 L965.92,892.01 L966.12,892.01 L966.32,892.01 L966.52,892.01 L966.72,892.01 L966.92,892.01 L967.12,892.01 L967.33,892.01 L967.53,892.01 L967.73,892.01 L967.93,892.01 L968.13,892.01 L968.33,892.01 L968.53,892.01 L968.73,892.01 L968.93,892.01 L969.13,892.01 L969.33,892.01 L969.53,892.01 L969.73,892.01 L969.93,892.01 L970.13,892.00 L970.33,892.00 L970.53,892.00 L970.74,892.00 L970.94,892.00 L971.14,892.00 L971.34,892.00 L971.54,892.00 L971.74,892.00 L971.94,892.00 L972.14,892.00 L972.34,892.00 L972.54,892.00 L972.74,892.00 L972.94,892.00 L973.14,892.00 L973.34,892.00 L973.54,892.00 L973.74,892.00 L973.94,892.00 L974.15,892.00 L974.35,892.00 L974.55,892.00 L974.75,892.00 L974.95,892.00 L975.15,892.00 L975.35,892.00 L975.55,892.00 L975.75,892.00 L975.95,892.00 L976.15,892.00 L976.35,892.00 L976.55,892.00 L976.75,892.00 L976.95,892.00 L977.15,892.00 L977.35,892.00 L977.56,892.00 L977.76,892.00 L977.96,892.00 L978.16,892.00 L978.36,892.00 L978.56,892.00 L978.76,892.00 L978.96,892.00 L979.16,892.00 L979.36,892.00 L979.56,892.00 L979.76,892.00 L979.96,892.00 L980.16,892.00 L980.36,892.00 L980.56,892.00 L980.76,892.00 L980.97,892.00 L981.17,892.00 L981.37,892.00 L981.57,892.00 L981.77,892.00 L981.97,892.00 L982.17,892.00 L982.37,892.00 L982.57,892.00 L982.77,892.00 L982.97,892.00 L983.17,892.00 L983.37,892.00 L983.57,892.00 L983.77,892.00 L983.97,892.00 L984.17,892.00 L984.38,892.00 L984.58,892.00 L984.78,892.00 L984.98,892.00 L985.18,892.00 L985.38,892.00 L985.58,892.00 L985.78,892.00 L985.98,892.00 L986.18,892.00 L986.38,892.00 L986.58,892.00 L986.78,892.00 L986.98,892.00 L987.18,892.00 L987.38,892.00 L987.58,892.00 L987.79,892.00 L987.99,892.00 L988.19,892.00 L988.39,892.00 L988.59,892.00 L988.79,892.00 L988.99,892.00 L989.19,892.00 L989.39,892.00 L989.59,892.00 L989.79,892.00 L989.99,892.00 L990.19,892.00 L990.39,892.00 L990.59,892.00 L990.79,892.00 L990.99,892.00 L991.19,892.00 L991.40,892.00 L991.60,892.00 L991.80,892.00 L992.00,892.00 L992.20,892.00 L992.40,892.00 L992.60,892.00 L992.80,892.00 L993.00,892.00 L993.20,892.00 L993.40,892.00 L993.60,892.00 L993.80,892.00 L994.00,892.00 L994.20,892.00 L994.40,892.00 L994.60,892.00 L994.81,892.00 L995.01,892.00 L995.21,892.00 L995.41,892.00 L995.61,892.00 L995.81,892.00 L996.01,892.00 L996.21,892.00 L996.41,892.00 L996.61,892.00 L996.81,892.00 L997.01,892.00 L997.21,892.00 L997.41,892.00 L997.61,892.00 L997.81,892.00 L998.01,892.00 L998.22,892.00 L998.42,892.00 L998.62,892.00 L998.82,892.00 L999.02,892.00 L999.22,892.00 L999.42,892.00 L999.62,892.00 L999.82,892.00 L1000.02,892.00 L1000.22,892.00 L1000.42,892.00 L1000.62,892.00 L1000.82,892.00 L1001.02,892.00 L1001.22,892.00 L1001.42,892.00 L1001.63,892.00 L1001.83,892.00 L1002.03,892.00 L1002.23,892.00 L1002.43,892.00 L1002.63,892.00 L1002.83,892.00 L1003.03,892.00 L1003.23,892.00 L1003.43,892.00 L1003.63,892.00 L1003.83,892.00 L1004.03,892.00 L1004.23,892.00 L1004.43,892.00 L1004.63,892.00 L1004.83,892.00 L1005.04,892.00 L1005.24,892.00 L1005.44,892.00 L1005.64,892.00 L1005.84,892.00 L1006.04,892.00 L1006.24,892.00 L1006.44,892.00 L1006.64,892.00 L1006.84,892.00 L1007.04,892.00 L1007.24,892.00 L1007.44,892.00 L1007.64,892.00 L1007.84,892.00 L1008.04,892.00 L1008.24,892.00 L1008.45,892.00 L1008.65,892.00 L1008.85,892.00 L1009.05,892.00 L1009.25,892.00 L1009.45,892.00 L1009.65,892.00 L1009.85,892.00 L1010.05,892.00 L1010.25,892.00 L1010.45,892.00 L1010.65,892.00 L1010.85,892.00 L1011.05,892.00 L1011.25,892.00 L1011.45,892.00 L1011.65,892.00 L1011.86,892.00 L1012.06,892.00 L1012.26,892.00 L1012.46,892.00 L1012.66,892.00 L1012.86,892.00 L1013.06,892.00 L1013.26,892.00 L1013.46,892.00 L1013.66,892.00 L1013.86,892.00 L1014.06,892.00 L1014.26,892.00 L1014.46,892.00 L1014.66,892.00 L1014.86,892.00 L1015.06,892.00 L1015.26,892.00 L1015.47,892.00 L1015.67,892.00 L1015.87,892.00 L1016.07,892.00 L1016.27,892.00 L1016.47,892.00 L1016.67,892.00 L1016.87,892.00 L1017.07,892.00 L1017.27,892.00 L1017.47,892.00 L1017.67,892.00 L1017.87,892.00 L1018.07,892.00 L1018.27,892.00 L1018.47,892.00 L1018.67,892.00 L1018.88,892.00 L1019.08,892.00 L1019.28,892.00 L1019.48,892.00 L1019.68,892.00 L1019.88,892.00 L1020.08,892.00 L1020.28,892.00 L1020.48,892.00 L1020.68,892.00 L1020.88,892.00 L1021.08,892.00 L1021.28,892.00 L1021.48,892.00 L1021.68,892.00 L1021.88,892.00 L1022.08,892.00 L1022.29,892.00 L1022.49,892.00 L1022.69,892.00 L1022.89,892.00 L1023.09,892.00 L1023.29,892.00 L1023.49,892.00 L1023.69,892.00 L1023.89,892.00 L1024.09,892.00 L1024.29,892.00 L1024.49,892.00 L1024.69,892.00 L1024.89,892.00 L1025.09,892.00 L1025.29,892.01 L1025.49,892.01 L1025.70,892.01 L1025.90,892.01 L1026.10,892.01 L1026.30,892.01 L1026.50,892.01 L1026.70,892.01 L1026.90,892.01 L1027.10,892.01 L1027.30,892.01 L1027.50,892.01 L1027.70,892.01 L1027.90,892.01 L1028.10,892.01 L1028.30,892.01 L1028.50,892.01 L1028.70,892.01 L1028.90,892.01 L1029.11,892.01 L1029.31,892.01 L1029.51,892.01 L1029.71,892.01 L1029.91,892.01 L1030.11,892.01 L1030.31,892.01 L1030.51,892.01 L1030.71,892.01 L1030.91,892.01 L1031.11,892.01 L1031.31,892.01 L1031.51,892.02 L1031.71,892.02 L1031.91,892.02 L1032.11,892.02 L1032.31,892.02 L1032.52,892.02 L1032.72,892.02 L1032.92,892.02 L1033.12,892.02 L1033.32,892.02 L1033.52,892.02 L1033.72,892.02 L1033.92,892.02 L1034.12,892.02 L1034.32,892.02 L1034.52,892.02 L1034.72,892.03 L1034.92,892.03 L1035.12,892.03 L1035.32,892.03 L1035.52,892.03 L1035.72,892.03 L1035.92,892.03 L1036.13,892.03 L1036.33,892.03 L1036.53,892.03 L1036.73,892.04 L1036.93,892.04 L1037.13,892.04 L1037.33,892.04 L1037.53,892.04 L1037.73,892.04 L1037.93,892.04 L1038.13,892.04 L1038.33,892.05 L1038.53,892.05 L1038.73,892.05 L1038.93,892.05 L1039.13,892.05 L1039.33,892.05 L1039.54,892.06 L1039.74,892.06 L1039.94,892.06 L1040.14,892.06 L1040.34,892.06 L1040.54,892.06 L1040.74,892.07 L1040.94,892.07 L1041.14,892.07 L1041.34,892.07 L1041.54,892.07 L1041.74,892.08 L1041.94,892.08 L1042.14,892.08 L1042.34,892.08 L1042.54,892.09 L1042.74,892.09 L1042.95,892.09 L1043.15,892.09 L1043.35,892.10 L1043.55,892.10 L1043.75,892.10 L1043.95,892.11 L1044.15,892.11 L1044.35,892.11 L1044.55,892.12 L1044.75,892.12 L1044.95,892.12 L1045.15,892.13 L1045.35,892.13 L1045.55,892.13 L1045.75,892.14 L1045.95,892.14 L1046.15,892.15 L1046.36,892.15 L1046.56,892.16 L1046.76,892.16 L1046.96,892.16 L1047.16,892.17 L1047.36,892.17 L1047.56,892.18 L1047.76,892.18 L1047.96,892.19 L1048.16,892.20 L1048.36,892.20 L1048.56,892.21 L1048.76,892.21 L1048.96,892.22 L1049.16,892.22 L1049.36,892.23 L1049.56,892.24 L1049.77,892.24 L1049.97,892.25 L1050.17,892.26 L1050.37,892.26 L1050.57,892.27 L1050.77,892.28 L1050.97,892.29 L1051.17,892.29 L1051.37,892.30 L1051.57,892.31 L1051.77,892.32 L1051.97,892.33 L1052.17,892.34 L1052.37,892.35 L1052.57,892.36 L1052.77,892.37 L1052.97,892.37 L1053.18,892.38 L1053.38,892.40 L1053.58,892.41 L1053.78,892.42 L1053.98,892.43 L1054.18,892.44 L1054.38,892.45 L1054.58,892.46 L1054.78,892.47 L1054.98,892.49 L1055.18,892.50 L1055.38,892.51 L1055.58,892.53 L1055.78,892.54 L1055.98,892.55 L1056.18,892.57 L1056.38,892.58 L1056.59,892.60 L1056.79,892.61 L1056.99,892.63 L1057.19,892.64 L1057.39,892.66 L1057.59,892.68 L1057.79,892.69 L1057.99,892.71 L1058.19,892.73 L1058.39,892.75 L1058.59,892.76 L1058.79,892.78 L1058.99,892.80 L1059.19,892.82 L1059.39,892.84 L1059.59,892.86 L1059.79,892.88 L1060.00,892.91 L1060.20,892.93 L1060.40,892.95 L1060.60,892.97 L1060.80,893.00 L1061.00,893.02 L1061.20,893.04 L1061.40,893.07 L1061.60,893.10 L1061.80,893.12 L1062.00,893.15 L1062.20,893.17 L1062.40,893.20 L1062.60,893.23 L1062.80,893.26 L1063.00,893.29 L1063.20,893.32 L1063.40,893.35 L1063.61,893.38 L1063.81,893.41 L1064.01,893.44 L1064.21,893.48 L1064.41,893.51 L1064.61,893.55 L1064.81,893.58 L1065.01,893.62 L1065.21,893.65 L1065.41,893.69 L1065.61,893.73 L1065.81,893.77 L1066.01,893.81 L1066.21,893.85 L1066.41,893.89 L1066.61,893.93 L1066.81,893.97 L1067.02,894.01 L1067.22,894.06 L1067.42,894.10 L1067.62,894.15 L1067.82,894.20 L1068.02,894.24 L1068.22,894.29 L1068.42,894.34 L1068.62,894.39 L1068.82,894.44 L1069.02,894.49 L1069.22,894.55 L1069.42,894.60 L1069.62,894.65 L1069.82,894.71 L1070.02,894.77 L1070.22,894.82 L1070.43,894.88 L1070.63,894.94 L1070.83,895.00 L1071.03,895.07 L1071.23,895.13 L1071.43,895.19 L1071.63,895.26 L1071.83,895.32 L1072.03,895.39 L1072.23,895.46 L1072.43,895.53 L1072.63,895.60 L1072.83,895.67 L1073.03,895.74 L1073.23,895.82 L1073.43,895.89 L1073.63,895.97 L1073.84,896.05 L1074.04,896.13 L1074.24,896.21 L1074.44,896.29 L1074.64,896.37 L1074.84,896.45 L1075.04,896.54 L1075.24,896.63 L1075.44,896.72 L1075.64,896.80 L1075.84,896.90 L1076.04,896.99 L1076.24,897.08 L1076.44,897.18 L1076.64,897.27 L1076.84,897.37 L1077.04,897.47 L1077.25,897.57 L1077.45,897.67 L1077.65,897.78 L1077.85,897.88 L1078.05,897.99 L1078.25,898.10 L1078.45,898.21 L1078.65,898.32 L1078.85,898.43 L1079.05,898.55 L1079.25,898.66 L1079.45,898.78 L1079.65,898.90 L1079.85,899.02 L1080.05,899.14 L1080.25,899.27 L1080.45,899.39 L1080.66,899.52 L1080.86,899.65 L1081.06,899.78 L1081.26,899.91 L1081.46,900.05 L1081.66,900.18 L1081.86,900.32 L1082.06,900.46 L1082.26,900.60 L1082.46,900.75 L1082.66,900.89 L1082.86,901.04 L1083.06,901.19 L1083.26,901.34 L1083.46,901.49 L1083.66,901.64 L1083.86,901.80 L1084.07,901.96 L1084.27,902.12 L1084.47,902.28 L1084.67,902.44 L1084.87,902.61 L1085.07,902.77 L1085.27,902.94 L1085.47,903.11 L1085.67,903.29 L1085.87,903.46 L1086.07,903.64 L1086.27,903.82 L1086.47,904.00 L1086.67,904.18 L1086.87,904.36 L1087.07,904.55 L1087.27,904.74 L1087.47,904.93 L1087.68,905.12 L1087.88,905.31 L1088.08,905.51 L1088.28,905.71 L1088.48,905.91 L1088.68,906.11 L1088.88,906.32 L1089.08,906.52 L1089.28,906.73 L1089.48,906.94 L1089.68,907.15 L1089.88,907.36 L1090.08,907.58 L1090.28,907.80 L1090.48,908.02 L1090.68,908.24 L1090.88,908.46 L1091.09,908.69 L1091.29,908.92 L1091.49,909.15 L1091.69,909.38 L1091.89,909.61 L1092.09,909.85 L1092.29,910.08 L1092.49,910.32 L1092.69,910.56 L1092.89,910.81 L1093.09,911.05 L1093.29,911.30 L1093.49,911.55 L1093.69,911.80 L1093.89,912.05 L1094.09,912.30 L1094.29,912.56 L1094.50,912.82 L1094.70,913.08 L1094.90,913.34 L1095.10,913.60 L1095.30,913.87 L1095.50,914.13 L1095.70,914.40 L1095.90,914.67 L1096.10,914.94 L1096.30,915.22 L1096.50,915.49 L1096.70,915.77 L1096.90,916.05 L1097.10,916.33 L1097.30,916.61 L1097.50,916.89 L1097.70,917.18 L1097.91,917.47 L1098.11,917.75 L1098.31,918.04 L1098.51,918.33 L1098.71,918.63 L1098.91,918.92 L1099.11,919.22 L1099.31,919.51 L1099.51,919.81 L1099.71,920.11 L1099.91,920.41 L1100.11,920.71 L1100.31,921.02 L1100.51,921.32 L1100.71,921.63 L1100.91,921.93 L1101.11,922.24 L1101.32,922.55 L1101.52,922.86 L1101.72,923.17 L1101.92,923.49 L1102.12,923.80 L1102.32,924.11 L1102.52,924.43 L1102.72,924.74 L1102.92,925.06 L1103.12,925.38 L1103.32,925.70 L1103.52,926.02 L1103.72,926.34 L1103.92,926.66 L1104.12,926.98 L1104.32,927.30 L1104.52,927.62 L1104.73,927.95 L1104.93,928.27 L1105.13,928.59 L1105.33,928.92 L1105.53,929.24 L1105.73,929.57 L1105.93,929.89 L1106.13,930.22 L1106.33,930.54 L1106.53,930.87 L1106.73,931.20 L1106.93,931.52 L1107.13,931.85 L1107.33,932.17 L1107.53,932.50 L1107.73,932.83 L1107.93,933.15 L1108.13,933.48 L1108.34,933.80 L1108.54,934.13 L1108.74,934.45 L1108.94,934.78 L1109.14,935.10 L1109.34,935.42 L1109.54,935.75 L1109.74,936.07 L1109.94,936.39 L1110.14,936.71 L1110.34,937.03 L1110.54,937.35 L1110.74,937.67 L1110.94,937.99 L1111.14,938.31 L1111.34,938.62 L1111.54,938.94 L1111.75,939.25 L1111.95,939.56 L1112.15,939.88 L1112.35,940.19 L1112.55,940.50 L1112.75,940.80 L1112.95,941.11 L1113.15,941.41 L1113.35,941.72 L1113.55,942.02 L1113.75,942.32 L1113.95,942.62 L1114.15,942.92 L1114.35,943.21 L1114.55,943.51 L1114.75,943.80 L1114.95,944.09 L1115.16,944.38 L1115.36,944.66 L1115.56,944.95 L1115.76,945.23 L1115.96,945.51 L1116.16,945.79 L1116.36,946.07 L1116.56,946.34 L1116.76,946.61 L1116.96,946.88 L1117.16,947.15 L1117.36,947.41 L1117.56,947.67 L1117.76,947.93 L1117.96,948.19 L1118.16,948.44 L1118.36,948.69 L1118.57,948.94 L1118.77,949.19 L1118.97,949.43 L1119.17,949.67 L1119.37,949.91 L1119.57,950.14 L1119.77,950.37 L1119.97,950.60 L1120.17,950.83 L1120.37,951.05 L1120.57,951.27 L1120.77,951.48 L1120.97,951.70 L1121.17,951.91 L1121.37,952.11 L1121.57,952.31 L1121.77,952.51 L1121.98,952.71 L1122.18,952.90 L1122.38,953.09 L1122.58,953.27 L1122.78,953.46 L1122.98,953.63 L1123.18,953.81 L1123.38,953.98 L1123.58,954.15 L1123.78,954.31 L1123.98,954.47 L1124.18,954.62 L1124.38,954.78 L1124.58,954.92 L1124.78,955.07 L1124.98,955.21 L1125.18,955.34 L1125.39,955.48 L1125.59,955.60 L1125.79,955.73 L1125.99,955.85 L1126.19,955.96 L1126.39,956.08 L1126.59,956.18 L1126.79,956.29 L1126.99,956.39 L1127.19,956.48 L1127.39,956.57 L1127.59,956.66 L1127.79,956.74 L1127.99,956.82 L1128.19,956.89 L1128.39,956.96 L1128.59,957.03 L1128.80,957.09 L1129.00,957.15 L1129.20,957.20 L1129.40,957.25 L1129.60,957.29 L1129.80,957.33 L1130.00,957.36 L1130.20,957.39 L1130.40,957.42 L1130.60,957.44 L1130.80,957.46 L1131.00,957.47 L1131.20,957.48 L1131.40,957.48 L1131.60,957.48 L1131.80,957.48 L1132.00,957.47 L1132.20,957.45 L1132.41,957.43 L1132.61,957.41 L1132.81,957.38 L1133.01,957.34 L1133.21,957.30 L1133.41,957.26 L1133.61,957.21 L1133.81,957.15 L1134.01,957.09 L1134.21,957.03 L1134.41,956.96 L1134.61,956.89 L1134.81,956.81 L1135.01,956.72 L1135.21,956.64 L1135.41,956.54 L1135.61,956.45 L1135.82,956.34 L1136.02,956.24 L1136.22,956.12 L1136.42,956.01 L1136.62,955.89 L1136.82,955.76 L1137.02,955.63 L1137.22,955.50 L1137.42,955.36 L1137.62,955.21 L1137.82,955.07 L1138.02,954.91 L1138.22,954.76 L1138.42,954.60 L1138.62,954.43 L1138.82,954.26 L1139.02,954.09 L1139.23,953.91 L1139.43,953.73 L1139.63,953.54 L1139.83,953.35 L1140.03,953.16 L1140.23,952.96 L1140.43,952.76 L1140.63,952.55 L1140.83,952.34 L1141.03,952.13 L1141.23,951.91 L1141.43,951.69 L1141.63,951.46 L1141.83,951.23 L1142.03,951.00 L1142.23,950.77 L1142.43,950.53 L1142.64,950.28 L1142.84,950.04 L1143.04,949.79 L1143.24,949.54 L1143.44,949.28 L1143.64,949.02 L1143.84,948.76 L1144.04,948.50 L1144.24,948.23 L1144.44,947.96 L1144.64,947.68 L1144.84,947.41 L1145.04,947.13 L1145.24,946.84 L1145.44,946.56 L1145.64,946.27 L1145.84,945.98 L1146.05,945.69 L1146.25,945.39 L1146.45,945.10 L1146.65,944.80 L1146.85,944.50 L1147.05,944.19 L1147.25,943.89 L1147.45,943.58 L1147.65,943.27 L1147.85,942.95 L1148.05,942.64 L1148.25,942.32 L1148.45,942.01 L1148.65,941.69 L1148.85,941.37 L1149.05,941.04 L1149.25,940.72 L1149.46,940.39 L1149.66,940.06 L1149.86,939.74 L1150.06,939.41 L1150.26,939.07 L1150.46,938.74 L1150.66,938.41 L1150.86,938.07 L1151.06,937.74 L1151.26,937.40 L1151.46,937.06 L1151.66,936.72 L1151.86,936.38 L1152.06,936.04 L1152.26,935.70 L1152.46,935.36 L1152.66,935.02 L1152.87,934.68 L1153.07,934.33 L1153.27,933.99 L1153.47,933.65 L1153.67,933.30 L1153.87,932.96 L1154.07,932.61 L1154.27,932.27 L1154.47,931.92 L1154.67,931.58 L1154.87,931.24 L1155.07,930.89 L1155.27,930.55 L1155.47,930.20 L1155.67,929.86 L1155.87,929.51 L1156.07,929.17 L1156.28,928.83 L1156.48,928.48 L1156.68,928.14 L1156.88,927.80 L1157.08,927.46 L1157.28,927.12 L1157.48,926.78 L1157.68,926.44 L1157.88,926.10 L1158.08,925.76 L1158.28,925.43 L1158.48,925.09 L1158.68,924.75 L1158.88,924.42 L1159.08,924.09 L1159.28,923.76 L1159.48,923.42 L1159.68,923.09 L1159.89,922.77 L1160.09,922.44 L1160.29,922.11 L1160.49,921.79 L1160.69,921.46 L1160.89,921.14 L1161.09,920.82 L1161.29,920.50 L1161.49,920.18 L1161.69,919.86 L1161.89,919.55 L1162.09,919.23 L1162.29,918.92 L1162.49,918.61 L1162.69,918.30 L1162.89,917.99 L1163.09,917.69 L1163.30,917.38 L1163.50,917.08 L1163.70,916.78 L1163.90,916.48 L1164.10,916.18 L1164.30,915.89 L1164.50,915.60 L1164.70,915.30 L1164.90,915.01 L1165.10,914.73 L1165.30,914.44 L1165.50,914.16 L1165.70,913.87 L1165.90,913.59 L1166.10,913.31 L1166.30,913.04 L1166.50,912.76 L1166.71,912.49 L1166.91,912.22 L1167.11,911.95 L1167.31,911.69 L1167.51,911.42 L1167.71,911.16 L1167.91,910.90 L1168.11,910.65 L1168.31,910.39 L1168.51,910.14 L1168.71,909.89 L1168.91,909.64 L1169.11,909.39 L1169.31,909.14 L1169.51,908.90 L1169.71,908.66 L1169.91,908.42 L1170.12,908.19 L1170.32,907.95 L1170.52,907.72 L1170.72,907.49 L1170.92,907.27 L1171.12,907.04 L1171.32,906.82 L1171.52,906.60 L1171.72,906.38 L1171.92,906.16 L1172.12,905.95 L1172.32,905.74 L1172.52,905.53 L1172.72,905.32 L1172.92,905.11 L1173.12,904.91 L1173.32,904.71 L1173.53,904.51 L1173.73,904.31 L1173.93,904.12 L1174.13,903.93 L1174.33,903.74 L1174.53,903.55 L1174.73,903.36 L1174.93,903.18 L1175.13,903.00 L1175.33,902.82 L1175.53,902.64 L1175.73,902.47 L1175.93,902.30 L1176.13,902.12 L1176.33,901.96 L1176.53,901.79 L1176.73,901.62 L1176.94,901.46 L1177.14,901.30 L1177.34,901.14 L1177.54,900.99 L1177.74,900.83 L1177.94,900.68 L1178.14,900.53 L1178.34,900.38 L1178.54,900.23 L1178.74,900.09 L1178.94,899.95 L1179.14,899.81 L1179.34,899.67 L1179.54,899.53 L1179.74,899.39 L1179.94,899.26 L1180.14,899.13 L1180.35,899.00 L1180.55,898.87 L1180.75,898.75 L1180.95,898.62 L1181.15,898.50 L1181.35,898.38 L1181.55,898.26 L1181.75,898.15 L1181.95,898.03 L1182.15,897.92 L1182.35,897.81 L1182.55,897.70 L1182.75,897.59 L1182.95,897.48 L1183.15,897.37 L1183.35,897.27 L1183.55,897.17 L1183.75,897.07 L1183.96,896.97 L1184.16,896.87 L1184.36,896.78 L1184.56,896.68 L1184.76,896.59 L1184.96,896.50 L1185.16,896.41 L1185.36,896.32 L1185.56,896.23 L1185.76,896.15 L1185.96,896.07 L1186.16,895.98 L1186.36,895.90 L1186.56,895.82 L1186.76,895.74 L1186.96,895.67 L1187.16,895.59 L1187.37,895.52 L1187.57,895.44 L1187.77,895.37 L1187.97,895.30 L1188.17,895.23 L1188.37,895.16 L1188.57,895.10 L1188.77,895.03 L1188.97,894.97 L1189.17,894.90 L1189.37,894.84 L1189.57,894.78 L1189.77,894.72 L1189.97,894.66 L1190.17,894.60 L1190.37,894.54 L1190.57,894.49 L1190.78,894.43 L1190.98,894.38 L1191.18,894.33 L1191.38,894.28 L1191.58,894.23 L1191.78,894.18 L1191.98,894.13 L1192.18,894.08 L1192.38,894.03 L1192.58,893.99 L1192.78,893.94 L1192.98,893.90 L1193.18,893.85 L1193.38,893.81 L1193.58,893.77 L1193.78,893.73 L1193.98,893.69 L1194.19,893.65 L1194.39,893.61 L1194.59,893.57 L1194.79,893.54 L1194.99,893.50 L1195.19,893.46 L1195.39,893.43 L1195.59,893.40 L1195.79,893.36 L1195.99,893.33 L1196.19,893.30 L1196.39,893.27 L1196.59,893.24 L1196.79,893.21 L1196.99,893.18 L1197.19,893.15 L1197.39,893.12 L1197.60,893.09 L1197.80,893.07 L1198.00,893.04 L1198.20,893.01 L1198.40,892.99 L1198.60,892.96 L1198.80,892.94 L1199.00,892.92 L1199.20,892.89 L1199.40,892.87 L1199.60,892.85 L1199.80,892.83 L1200.00,892.81 L1200.20,892.79 L1200.40,892.77 L1200.60,892.75 L1200.80,892.73 L1201.01,892.71 L1201.21,892.69 L1201.41,892.67 L1201.61,892.66 L1201.81,892.64 L1202.01,892.62 L1202.21,892.61 L1202.41,892.59 L1202.61,892.57 L1202.81,892.56 L1203.01,892.54 L1203.21,892.53 L1203.41,892.52 L1203.61,892.50 L1203.81,892.49 L1204.01,892.47 L1204.21,892.46 L1204.41,892.45 L1204.62,892.44 L1204.82,892.43 L1205.02,892.41 L1205.22,892.40 L1205.42,892.39 L1205.62,892.38 L1205.82,892.37 L1206.02,892.36 L1206.22,892.35 L1206.42,892.34 L1206.62,892.33 L1206.82,892.32 L1207.02,892.31 L1207.22,892.30 L1207.42,892.30 L1207.62,892.29 L1207.82,892.28 L1208.03,892.27 L1208.23,892.26 L1208.43,892.26 L1208.63,892.25 L1208.83,892.24 L1209.03,892.23 L1209.23,892.23 L1209.43,892.22 L1209.63,892.22 L1209.83,892.21 L1210.03,892.20 L1210.23,892.20 L1210.43,892.19 L1210.63,892.19 L1210.83,892.18 L1211.03,892.17 L1211.23,892.17 L1211.44,892.16 L1211.64,892.16 L1211.84,892.15 L1212.04,892.15 L1212.24,892.15 L1212.44,892.14 L1212.64,892.14 L1212.84,892.13 L1213.04,892.13 L1213.24,892.13 L1213.44,892.12 L1213.64,892.12 L1213.84,892.11 L1214.04,892.11 L1214.24,892.11 L1214.44,892.10 L1214.64,892.10 L1214.85,892.10 L1215.05,892.09 L1215.25,892.09 L1215.45,892.09 L1215.65,892.09 L1215.85,892.08 L1216.05,892.08 L1216.25,892.08 L1216.45,892.08 L1216.65,892.07 L1216.85,892.07 L1217.05,892.07 L1217.25,892.07 L1217.45,892.06 L1217.65,892.06 L1217.85,892.06 L1218.05,892.06 L1218.26,892.06 L1218.46,892.05 L1218.66,892.05 L1218.86,892.05 L1219.06,892.05 L1219.26,892.05 L1219.46,892.05 L1219.66,892.05 L1219.86,892.04 L1220.06,892.04 L1220.26,892.04 L1220.46,892.04 L1220.66,892.04 L1220.86,892.04 L1221.06,892.04 L1221.26,892.03 L1221.46,892.03 L1221.67,892.03 L1221.87,892.03 L1222.07,892.03 L1222.27,892.03 L1222.47,892.03 L1222.67,892.03 L1222.87,892.03 L1223.07,892.03 L1223.27,892.02 L1223.47,892.02 L1223.67,892.02 L1223.87,892.02 L1224.07,892.02 L1224.27,892.02 L1224.47,892.02 L1224.67,892.02 L1224.87,892.02 L1225.08,892.02 L1225.28,892.02 L1225.48,892.02 L1225.68,892.02 L1225.88,892.02 L1226.08,892.02 L1226.28,892.01 L1226.48,892.01 L1226.68,892.01 L1226.88,892.01 L1227.08,892.01 L1227.28,892.01 L1227.48,892.01 L1227.68,892.01 L1227.88,892.01 L1228.08,892.01 L1228.28,892.01 L1228.48,892.01 L1228.69,892.01 L1228.89,892.01 L1229.09,892.01 L1229.29,892.01 L1229.49,892.01 L1229.69,892.01 L1229.89,892.01 L1230.09,892.01 L1230.29,892.01 L1230.49,892.01 L1230.69,892.01 L1230.89,892.01 L1231.09,892.01 L1231.29,892.01 L1231.49,892.01 L1231.69,892.01 L1231.89,892.01 L1232.10,892.01 L1232.30,892.00 L1232.50,892.00 L1232.70,892.00 L1232.90,892.00 L1233.10,892.00 L1233.30,892.00 L1233.50,892.00 L1233.70,892.00 L1233.90,892.00 L1234.10,892.00 L1234.30,892.00 L1234.50,892.00 L1234.70,892.00 L1234.90,892.00 L1235.10,892.00 L1235.30,892.00 L1235.51,892.00 L1235.71,892.00 L1235.91,892.00 L1236.11,892.00 L1236.31,892.00 L1236.51,892.00 L1236.71,892.00 L1236.91,892.00 L1237.11,892.00 L1237.31,892.00 L1237.51,892.00 L1237.71,892.00 L1237.91,892.00 L1238.11,892.00 L1238.31,892.00 L1238.51,892.00 L1238.71,892.00 L1238.92,892.00 L1239.12,892.00 L1239.32,892.00 L1239.52,892.00 L1239.72,892.00 L1239.92,892.00 L1240.12,892.00 L1240.32,892.00 L1240.52,892.00 L1240.72,892.00 L1240.92,892.00 L1241.12,892.00 L1241.32,892.00 L1241.52,892.00 L1241.72,892.00 L1241.92,892.00 L1242.12,892.00 L1242.33,892.00 L1242.53,892.00 L1242.73,892.00 L1242.93,892.00 L1243.13,892.00 L1243.33,892.00 L1243.53,892.00 L1243.73,892.00 L1243.93,892.00 L1244.13,892.00 L1244.33,892.00 L1244.53,892.00 L1244.73,892.00 L1244.93,892.00 L1245.13,892.00 L1245.33,892.00 L1245.53,892.00 L1245.74,892.00 L1245.94,892.00 L1246.14,892.00 L1246.34,892.00 L1246.54,892.00 L1246.74,892.00 L1246.94,892.00 L1247.14,892.00 L1247.34,892.00 L1247.54,892.00 L1247.74,892.00 L1247.94,892.00 L1248.14,892.00 L1248.34,892.00 L1248.54,892.00 L1248.74,892.00 L1248.94,892.00 L1249.15,892.00 L1249.35,892.00 L1249.55,892.00 L1249.75,892.00 L1249.95,892.00 L1250.15,892.00 L1250.35,892.00 L1250.55,892.00 L1250.75,892.00 L1250.95,892.00 L1251.15,892.00 L1251.35,892.00 L1251.55,892.00 L1251.75,892.00 L1251.95,892.00 L1252.15,892.00 L1252.35,892.00 L1252.56,892.00 L1252.76,892.00 L1252.96,892.00 L1253.16,892.00 L1253.36,892.00 L1253.56,892.00 L1253.76,892.00 L1253.96,892.00 L1254.16,892.00 L1254.36,892.00 L1254.56,892.00 L1254.76,892.00 L1254.96,892.00 L1255.16,892.00 L1255.36,892.00 L1255.56,892.00 L1255.76,892.00 L1255.96,892.00 L1256.17,892.00 L1256.37,892.00 L1256.57,892.00 L1256.77,892.00 L1256.97,892.00 L1257.17,892.00 L1257.37,892.00 L1257.57,892.00 L1257.77,892.00 L1257.97,892.00 L1258.17,892.00 L1258.37,892.00 L1258.57,892.00 L1258.77,892.00 L1258.97,892.00 L1259.17,892.00 L1259.37,892.00 L1259.58,892.00 L1259.78,892.00 L1259.98,892.00 L1260.18,892.00 L1260.38,892.00 L1260.58,892.00 L1260.78,892.00 L1260.98,892.00 L1261.18,892.00 L1261.38,892.00 L1261.58,892.00 L1261.78,892.00 L1261.98,892.00 L1262.18,892.00 L1262.38,892.00 L1262.58,892.00 L1262.78,892.00 L1262.99,892.00 L1263.19,892.00 L1263.39,892.00 L1263.59,892.00 L1263.79,892.00 L1263.99,892.00 L1264.19,892.00 L1264.39,892.00 L1264.59,892.00 L1264.79,897.01 L1264.99,902.11 L1265.19,907.27 L1265.39,912.47 L1265.59,917.67 L1265.79,922.84 L1265.99,927.94 L1266.19,932.94 L1266.40,937.82 L1266.60,942.54 L1266.80,947.06 L1267.00,951.36 L1267.20,955.54 L1267.40,959.72 L1267.60,963.88 L1267.80,968.01 L1268.00,972.09 L1268.20,976.12 L1268.40,980.06 L1268.60,983.92 L1268.80,987.68 L1269.00,991.31 L1269.20,994.82 L1269.40,998.18 L1269.60,1001.38 L1269.81,1004.40 L1270.01,1007.23 L1270.21,1009.86 L1270.41,1012.28 L1270.61,1014.49 L1270.81,1016.67 L1271.01,1018.81 L1271.21,1020.91 L1271.41,1022.95 L1271.61,1024.93 L1271.81,1026.85 L1272.01,1028.67 L1272.21,1030.41 L1272.41,1032.05 L1272.61,1033.59 L1272.81,1035.00 L1273.01,1036.29 L1273.22,1037.44 L1273.42,1038.45 L1273.62,1039.30 L1273.82,1039.99 L1274.02,1040.56 L1274.22,1041.11 L1274.42,1041.64 L1274.62,1042.15 L1274.82,1042.63 L1275.02,1043.08 L1275.22,1043.49 L1275.42,1043.87 L1275.62,1044.20 L1275.82,1044.47 L1276.02,1044.70 L1276.22,1044.86 L1276.42,1044.96 L1276.62,1045.00 L1276.83,1045.00 L1277.03,1045.00 L1277.23,1045.00 L1277.43,1045.00 L1277.63,1045.00 L1277.83,1045.00 L1278.03,1045.00 L1278.23,1045.00 L1278.43,1045.00 L1278.63,1045.00 L1278.83,1045.00 L1279.03,1045.00 L1279.23,1045.00 L1279.43,1045.00 L1279.63,1045.00 L1279.83,1045.00 L1280.03,1045.00 L1280.24,1045.00 L1280.44,1044.99 L1280.64,1044.95 L1280.84,1044.88 L1281.04,1044.79 L1281.24,1044.67 L1281.44,1044.54 L1281.64,1044.38 L1281.84,1044.21 L1282.04,1044.01 L1282.24,1043.80 L1282.44,1043.58 L1282.64,1043.34 L1282.84,1043.09 L1283.04,1042.82 L1283.24,1042.55 L1283.44,1042.22 L1283.65,1041.78 L1283.85,1041.23 L1284.05,1040.59 L1284.25,1039.87 L1284.45,1039.06 L1284.65,1038.18 L1284.85,1037.23 L1285.05,1036.23 L1285.25,1035.17 L1285.45,1034.08 L1285.65,1032.94 L1285.85,1031.77 L1286.05,1030.53 L1286.25,1029.13 L1286.45,1027.58 L1286.65,1025.87 L1286.85,1024.03 L1287.06,1022.07 L1287.26,1019.98 L1287.46,1017.80 L1287.66,1015.51 L1287.86,1013.14 L1288.06,1010.69 L1288.26,1008.18 L1288.46,1005.56 L1288.66,1002.74 L1288.86,999.73 L1289.06,996.54 L1289.26,993.19 L1289.46,989.67 L1289.66,986.02 L1289.86,982.22 L1290.06,978.31 L1290.26,974.29 L1290.47,970.16 L1290.67,965.95 L1290.87,961.67 L1291.07,957.26 L1291.27,952.54 L1291.47,947.53 L1291.67,942.27 L1291.87,936.82 L1292.07,931.22 L1292.27,925.52 L1292.47,919.77 L1292.67,914.02 L1292.87,908.31 L1293.07,902.68 L1293.27,897.20 L1293.47,891.87 L1293.67,886.55 L1293.88,881.23 L1294.08,875.90 L1294.28,870.58 L1294.48,865.26 L1294.68,859.95 L1294.88,854.64 L1295.08,849.33 L1295.28,844.03 L1295.48,838.74 L1295.68,833.46 L1295.88,828.19 L1296.08,822.93 L1296.28,817.68 L1296.48,812.44 L1296.68,807.22 L1296.88,802.02 L1297.08,796.83 L1297.29,791.66 L1297.49,786.50 L1297.69,781.37 L1297.89,776.26 L1298.09,771.17 L1298.29,766.11 L1298.49,761.07 L1298.69,756.06 L1298.89,751.07 L1299.09,746.11 L1299.29,741.16 L1299.49,736.18 L1299.69,731.19 L1299.89,726.20 L1300.09,721.21 L1300.29,716.23 L1300.49,711.28 L1300.69,706.37 L1300.90,701.51 L1301.10,696.70 L1301.30,691.96 L1301.50,687.30 L1301.70,682.73 L1301.90,678.26 L1302.10,673.91 L1302.30,669.67 L1302.50,665.56 L1302.70,661.47 L1302.90,657.29 L1303.10,653.07 L1303.30,648.85 L1303.50,644.68 L1303.70,640.59 L1303.90,636.64 L1304.10,632.86 L1304.31,629.30 L1304.51,626.00 L1304.71,623.01 L1304.91,620.36 L1305.11,618.10 L1305.31,616.26 L1305.51,614.58 L1305.71,612.93 L1305.91,611.32 L1306.11,609.78 L1306.31,608.31 L1306.51,606.93 L1306.71,605.67 L1306.91,604.53 L1307.11,603.54 L1307.31,602.71 L1307.51,602.05 L1307.72,601.59 L1307.92,601.34 L1308.12,601.32 L1308.32,601.58 L1308.52,602.09 L1308.72,602.84 L1308.92,603.80 L1309.12,604.95 L1309.32,606.27 L1309.52,607.74 L1309.72,609.33 L1309.92,611.02 L1310.12,612.78 L1310.32,614.60 L1310.52,616.45 L1310.72,618.31 L1310.92,620.21 L1311.13,622.41 L1311.33,624.89 L1311.53,627.64 L1311.73,630.63 L1311.93,633.82 L1312.13,637.20 L1312.33,640.74 L1312.53,644.41 L1312.73,648.18 L1312.93,652.03 L1313.13,655.93 L1313.33,659.86 L1313.53,663.79 L1313.73,667.69 L1313.93,671.57 L1314.13,675.57 L1314.33,679.69 L1314.54,683.93 L1314.74,688.28 L1314.94,692.72 L1315.14,697.24 L1315.34,701.84 L1315.54,706.51 L1315.74,711.24 L1315.94,716.01 L1316.14,720.81 L1316.34,725.65 L1316.54,730.50 L1316.74,735.36 L1316.94,740.22 L1317.14,745.12 L1317.34,750.08 L1317.54,755.10 L1317.74,760.18 L1317.95,765.32 L1318.15,770.50 L1318.35,775.72 L1318.55,780.97 L1318.75,786.26 L1318.95,791.56 L1319.15,796.89 L1319.35,802.22 L1319.55,807.56 L1319.75,812.90 L1319.95,818.27 L1320.15,823.68 L1320.35,829.12 L1320.55,834.60 L1320.75,840.10 L1320.95,845.61 L1321.15,851.14 L1321.36,856.68 L1321.56,862.22 L1321.76,867.76 L1321.96,873.28 L1322.16,878.79 L1322.36,877.15 L1322.56,870.79 L1322.76,864.46 L1322.96,858.16 L1323.16,851.86 L1323.36,845.56 L1323.56,839.24 L1323.76,832.89 L1323.96,826.49 L1324.16,820.04 L1324.36,813.51 L1324.56,806.91 L1324.76,800.20 L1324.97,793.38 L1325.17,786.45 L1325.37,779.42 L1325.57,772.32 L1325.77,765.15 L1325.97,757.93 L1326.17,750.68 L1326.37,743.42 L1326.57,736.15 L1326.77,728.91 L1326.97,721.69 L1327.17,714.52 L1327.37,707.37 L1327.57,700.19 L1327.77,693.00 L1327.97,685.80 L1328.17,678.60 L1328.38,671.41 L1328.58,664.23 L1328.78,657.08 L1328.98,649.95 L1329.18,642.87 L1329.38,635.83 L1329.58,628.84 L1329.78,621.92 L1329.98,615.05 L1330.18,608.23 L1330.38,601.45 L1330.58,594.68 L1330.78,587.93 L1330.98,581.19 L1331.18,574.42 L1331.38,567.64 L1331.58,560.74 L1331.79,553.70 L1331.99,546.59 L1332.19,539.48 L1332.39,532.44 L1332.59,525.54 L1332.79,518.86 L1332.99,512.47 L1333.19,506.44 L1333.39,500.64 L1333.59,494.92 L1333.79,489.32 L1333.99,483.88 L1334.19,478.65 L1334.39,473.65 L1334.59,468.95 L1334.79,464.56 L1334.99,460.54 L1335.20,456.88 L1335.40,453.49 L1335.60,450.34 L1335.80,447.36 L1336.00,444.48 L1336.20,441.67 L1336.40,438.86 L1336.60,435.98 L1336.80,433.00" fill="none" stroke="#E6756F" stroke-width="5.3" stroke-linejoin="round"/>
<g transform="scale(1.2,1)"><path d="M111.08,739.00 L111.20,739.00 L111.32,739.00 L111.43,739.00 L111.55,739.00 L111.66,739.00 L111.78,739.00 L111.90,739.00 L112.01,739.00 L112.13,739.00 L112.25,739.00 L112.36,739.00 L112.48,739.00 L112.59,739.00 L112.71,739.00 L112.83,739.00 L112.94,739.00 L113.06,739.00 L113.18,739.00 L113.29,739.00 L113.41,739.00 L113.52,739.00 L113.64,739.00 L113.76,739.00 L113.87,739.00 L113.99,739.00 L114.10,739.00 L114.22,739.00 L114.34,739.00 L114.45,739.00 L114.57,739.00 L114.69,739.00 L114.80,739.00 L114.92,739.00 L115.03,739.00 L115.15,739.00 L115.27,739.00 L115.38,739.00 L115.50,739.00 L115.62,739.00 L115.73,739.00 L115.85,739.00 L115.96,739.00 L116.08,739.00 L116.20,739.00 L116.31,739.00 L116.43,739.00 L116.55,739.00 L116.66,739.00 L116.78,739.00 L116.89,739.00 L117.01,739.00 L117.13,739.00 L117.24,739.00 L117.33,739.00 M129.81,739.02 L129.91,739.02 L130.03,739.02 L130.14,739.02 L130.26,739.02 L130.37,739.02 L130.49,739.02 L130.61,739.03 L130.72,739.03 L130.84,739.03 L130.96,739.03 L131.07,739.03 L131.19,739.03 L131.30,739.03 L131.42,739.03 L131.54,739.03 L131.65,739.03 L131.77,739.03 L131.89,739.03 L132.00,739.03 L132.12,739.03 L132.23,739.03 L132.35,739.03 L132.47,739.03 L132.58,739.03 L132.70,739.03 L132.82,739.04 L132.93,739.04 L133.05,739.04 L133.16,739.04 L133.28,739.04 L133.40,739.04 L133.51,739.04 L133.63,739.04 L133.74,739.04 L133.86,739.04 L133.98,739.04 L134.09,739.04 L134.21,739.04 L134.33,739.04 L134.44,739.05 L134.56,739.05 L134.67,739.05 L134.79,739.05 L134.91,739.05 L135.02,739.05 L135.14,739.05 L135.26,739.05 L135.37,739.05 L135.49,739.05 L135.60,739.05 L135.72,739.05 L135.84,739.06 L135.95,739.06 L136.03,739.06 M148.28,739.32 L148.39,739.32 L148.50,739.32 L148.62,739.33 L148.74,739.33 L148.85,739.34 L148.97,739.34 L149.08,739.35 L149.20,739.36 L149.32,739.36 L149.43,739.37 L149.55,739.37 L149.67,739.38 L149.78,739.38 L149.90,739.39 L150.01,739.39 L150.13,739.40 L150.25,739.41 L150.36,739.41 L150.48,739.42 L150.60,739.43 L150.71,739.43 L150.83,739.44 L150.94,739.44 L151.06,739.45 L151.18,739.46 L151.29,739.46 L151.41,739.47 L151.53,739.48 L151.64,739.49 L151.76,739.49 L151.87,739.50 L151.99,739.51 L152.11,739.51 L152.22,739.52 L152.34,739.53 L152.46,739.54 L152.57,739.55 L152.69,739.55 L152.80,739.56 L152.92,739.57 L153.04,739.58 L153.15,739.59 L153.27,739.59 L153.38,739.60 L153.50,739.61 L153.62,739.62 L153.73,739.63 L153.85,739.64 L153.97,739.65 L154.08,739.66 L154.19,739.67 M164.99,741.31 L165.01,741.31 L165.12,741.34 L165.24,741.37 L165.35,741.40 L165.47,741.43 L165.59,741.46 L165.70,741.49 L165.82,741.52 L165.94,741.55 L166.05,741.58 L166.17,741.61 L166.28,741.64 L166.40,741.68 L166.52,741.71 L166.63,741.74 L166.75,741.78 L166.87,741.81 L166.98,741.85 L167.10,741.88 L167.21,741.92 L167.33,741.95 L167.45,741.99 L167.56,742.02 L167.68,742.06 L167.80,742.10 L167.91,742.14 L168.03,742.17 L168.14,742.21 L168.26,742.25 L168.38,742.29 L168.49,742.33 L168.61,742.37 L168.72,742.41 L168.84,742.45 L168.96,742.49 L169.07,742.53 L169.19,742.57 L169.31,742.62 L169.42,742.66 L169.54,742.70 L169.65,742.75 M177.29,746.79 L177.32,746.81 L177.44,746.89 L177.56,746.98 L177.67,747.06 L177.79,747.15 L177.91,747.23 L178.02,747.32 L178.14,747.41 L178.25,747.49 L178.37,747.58 L178.49,747.67 L178.60,747.76 L178.72,747.85 L178.84,747.95 L178.95,748.04 L179.07,748.13 L179.18,748.22 L179.30,748.32 L179.42,748.42 L179.53,748.51 L179.65,748.61 L179.77,748.71 L179.88,748.81 L180.00,748.91 L180.11,749.01 L180.23,749.11 L180.35,749.21 L180.37,749.23 M185.44,754.60 L185.46,754.63 L185.58,754.77 L185.69,754.92 L185.81,755.07 L185.92,755.22 L186.04,755.37 L186.16,755.52 L186.27,755.67 L186.39,755.82 L186.51,755.98 L186.62,756.13 L186.74,756.29 L186.85,756.45 L186.97,756.61 L187.09,756.77 L187.20,756.93 L187.32,757.09 L187.44,757.25 L187.55,757.42 L187.57,757.44 M191.26,763.30 L191.27,763.32 L191.39,763.52 L191.50,763.73 L191.62,763.94 L191.74,764.15 L191.85,764.36 L191.97,764.57 L192.08,764.78 L192.20,765.00 L192.32,765.21 L192.43,765.43 L192.55,765.65 L192.66,765.87 L192.78,766.09 L192.89,766.30 M195.82,772.36 L195.92,772.58 L196.04,772.84 L196.15,773.10 L196.27,773.36 L196.38,773.63 L196.50,773.89 L196.62,774.16 L196.73,774.43 L196.85,774.70 L196.96,774.97 L197.08,775.25 L197.16,775.42 M199.62,781.59 L199.64,781.63 L199.75,781.94 L199.87,782.25 L199.99,782.56 L200.10,782.87 L200.22,783.18 L200.33,783.50 L200.45,783.81 L200.57,784.13 L200.68,784.45 L200.77,784.69 M202.93,790.91 L203.01,791.15 L203.12,791.50 L203.24,791.85 L203.36,792.21 L203.47,792.56 L203.59,792.92 L203.71,793.28 L203.82,793.64 L203.94,794.00 L203.95,794.04 M205.89,800.29 L205.91,800.37 L206.03,800.76 L206.15,801.14 L206.26,801.54 L206.38,801.93 L206.49,802.32 L206.61,802.72 L206.73,803.11 L206.82,803.43 M208.60,809.71 L208.70,810.07 L208.82,810.50 L208.93,810.92 L209.05,811.34 L209.17,811.77 L209.28,812.20 L209.40,812.63 L209.46,812.86 M211.13,819.16 L211.14,819.22 L211.26,819.67 L211.38,820.12 L211.49,820.58 L211.61,821.03 L211.72,821.49 L211.84,821.94 L211.93,822.31 M213.51,828.62 L213.58,828.93 L213.70,829.41 L213.82,829.89 L213.93,830.37 L214.05,830.84 L214.16,831.32 L214.27,831.78 M215.78,838.10 L215.79,838.16 L215.91,838.66 L216.02,839.15 L216.14,839.65 L216.26,840.15 L216.37,840.65 L216.49,841.15 L216.51,841.26 M217.96,847.59 L218.00,847.75 L218.12,848.26 L218.23,848.78 L218.35,849.29 L218.46,849.81 L218.58,850.33 L218.68,850.75 M220.08,857.08 L220.09,857.11 L220.21,857.64 L220.32,858.17 L220.44,858.70 L220.56,859.23 L220.67,859.76 L220.78,860.25 M222.16,866.59 L222.18,866.70 L222.30,867.24 L222.42,867.77 L222.53,868.31 L222.65,868.85 L222.76,869.39 L222.84,869.75 M224.20,876.09 L224.27,876.44 L224.39,876.98 L224.51,877.53 L224.62,878.07 L224.74,878.62 L224.86,879.16 L224.88,879.26 M226.22,885.60 L226.25,885.73 L226.37,886.27 L226.48,886.82 L226.60,887.37 L226.72,887.92 L226.83,888.47 L226.90,888.76 M228.24,895.10 L228.34,895.59 L228.46,896.14 L228.57,896.69 L228.69,897.23 L228.81,897.78 L228.91,898.27 M230.26,904.61 L230.32,904.88 L230.43,905.42 L230.55,905.97 L230.67,906.51 L230.78,907.05 L230.90,907.60 L230.94,907.78 M232.30,914.11 L232.41,914.62 L232.53,915.16 L232.64,915.70 L232.76,916.23 L232.87,916.77 L232.99,917.28 M234.37,923.61 L234.39,923.68 L234.50,924.21 L234.62,924.74 L234.73,925.26 L234.85,925.79 L234.97,926.31 L235.07,926.78 M236.49,933.11 L236.59,933.58 L236.71,934.09 L236.83,934.61 L236.94,935.12 L237.06,935.63 L237.17,936.14 L237.21,936.27 M238.67,942.60 L238.69,942.68 L238.80,943.18 L238.92,943.67 L239.03,944.17 L239.15,944.66 L239.27,945.15 L239.38,945.65 L239.41,945.76 M240.93,952.08 L241.01,952.41 L241.13,952.89 L241.24,953.36 L241.36,953.83 L241.47,954.31 L241.59,954.78 L241.70,955.24 M243.30,961.54 L243.33,961.68 L243.45,962.14 L243.57,962.58 L243.68,963.03 L243.80,963.48 L243.91,963.93 L244.03,964.37 L244.12,964.70 M245.81,970.99 L245.89,971.30 L246.01,971.72 L246.12,972.14 L246.24,972.56 L246.36,972.97 L246.47,973.39 L246.59,973.80 L246.68,974.14 M248.50,980.41 L248.56,980.63 L248.68,981.02 L248.80,981.40 L248.91,981.79 L249.03,982.17 L249.14,982.56 L249.26,982.94 L249.38,983.32 L249.45,983.55 M251.44,989.80 L251.47,989.90 L251.58,990.25 L251.70,990.60 L251.82,990.95 L251.93,991.30 L252.05,991.64 L252.17,991.99 L252.28,992.33 L252.40,992.67 L252.48,992.92 M254.71,999.13 L254.72,999.17 L254.84,999.48 L254.95,999.79 L255.07,1000.10 L255.19,1000.40 L255.30,1000.70 L255.42,1001.01 L255.54,1001.31 L255.65,1001.61 L255.77,1001.90 L255.88,1002.20 L255.89,1002.22 M258.45,1008.37 L258.56,1008.60 L258.67,1008.86 L258.79,1009.12 L258.91,1009.38 L259.02,1009.63 L259.14,1009.89 L259.25,1010.14 L259.37,1010.39 L259.49,1010.65 L259.60,1010.90 L259.72,1011.14 L259.84,1011.39 L259.85,1011.42 M262.93,1017.45 L262.97,1017.52 L263.09,1017.73 L263.21,1017.94 L263.32,1018.14 L263.44,1018.35 L263.55,1018.55 L263.67,1018.75 L263.79,1018.95 L263.90,1019.15 L264.02,1019.35 L264.14,1019.55 L264.25,1019.74 L264.37,1019.94 L264.48,1020.13 L264.60,1020.32 L264.66,1020.41 M268.61,1026.19 L268.67,1026.27 L268.78,1026.42 L268.90,1026.57 L269.02,1026.72 L269.13,1026.86 L269.25,1027.01 L269.37,1027.15 L269.48,1027.29 L269.60,1027.44 L269.71,1027.58 L269.83,1027.72 L269.95,1027.85 L270.06,1027.99 L270.18,1028.13 L270.30,1028.26 L270.41,1028.40 L270.53,1028.53 L270.64,1028.66 L270.76,1028.80 L270.88,1028.93 L270.92,1028.97 M276.48,1034.13 L276.57,1034.20 L276.69,1034.28 L276.80,1034.37 L276.92,1034.45 L277.04,1034.54 L277.15,1034.62 L277.27,1034.70 L277.38,1034.79 L277.50,1034.87 L277.62,1034.95 L277.73,1035.03 L277.85,1035.11 L277.97,1035.19 L278.08,1035.26 L278.20,1035.34 L278.31,1035.42 L278.43,1035.49 L278.55,1035.57 L278.66,1035.64 L278.78,1035.72 L278.89,1035.79 L279.01,1035.86 L279.13,1035.94 L279.24,1036.01 L279.36,1036.08 L279.48,1036.15 L279.59,1036.22 L279.71,1036.29 L279.82,1036.35 L279.89,1036.39 M288.34,1039.90 L288.42,1039.93 L288.54,1039.96 L288.66,1039.99 L288.77,1040.02 L288.89,1040.05 L289.01,1040.08 L289.12,1040.11 L289.24,1040.14 L289.35,1040.17 L289.47,1040.20 L289.59,1040.23 L289.70,1040.26 L289.82,1040.29 L289.94,1040.32 L290.05,1040.34 L290.17,1040.37 L290.28,1040.40 L290.40,1040.43 L290.52,1040.45 L290.63,1040.48 L290.75,1040.51 L290.86,1040.53 L290.98,1040.56 L291.10,1040.58 L291.21,1040.61 L291.33,1040.63 L291.45,1040.66 L291.56,1040.68 L291.68,1040.70 L291.79,1040.73 L291.91,1040.75 L292.03,1040.77 L292.14,1040.80 L292.26,1040.82 L292.38,1040.84 L292.49,1040.86 L292.61,1040.88 L292.72,1040.91 L292.84,1040.93 L292.96,1040.95 L293.07,1040.97 L293.19,1040.99 L293.31,1041.01 L293.39,1041.03 M304.75,1042.16 L304.81,1042.17 L304.93,1042.17 L305.04,1042.18 L305.16,1042.18 L305.28,1042.19 L305.39,1042.19 L305.51,1042.20 L305.62,1042.20 L305.74,1042.21 L305.86,1042.22 L305.97,1042.22 L306.09,1042.23 L306.20,1042.23 L306.32,1042.23 L306.44,1042.24 L306.55,1042.24 L306.67,1042.25 L306.79,1042.25 L306.90,1042.26 L307.02,1042.26 L307.13,1042.27 L307.25,1042.27 L307.37,1042.28 L307.48,1042.28 L307.60,1042.28 L307.72,1042.29 L307.83,1042.29 L307.95,1042.30 L308.06,1042.30 L308.18,1042.30 L308.30,1042.31 L308.41,1042.31 L308.53,1042.32 L308.65,1042.32 L308.76,1042.32 L308.88,1042.33 L308.99,1042.33 L309.11,1042.33 L309.23,1042.34 L309.34,1042.34 L309.46,1042.34 L309.58,1042.35 L309.69,1042.35 L309.81,1042.35 L309.92,1042.36 L310.04,1042.36 L310.16,1042.36 L310.27,1042.36 L310.39,1042.37 L310.50,1042.37 L310.62,1042.37 L310.74,1042.38 L310.79,1042.38 M323.15,1042.52 L323.17,1042.52 L323.29,1042.52 L323.40,1042.52 L323.52,1042.52 L323.64,1042.53 L323.75,1042.53 L323.87,1042.53 L323.99,1042.53 L324.10,1042.53 L324.22,1042.53 L324.33,1042.53 L324.45,1042.53 L324.57,1042.53 L324.68,1042.53 L324.80,1042.53 L324.92,1042.53 L325.03,1042.53 L325.15,1042.53 L325.26,1042.53 L325.38,1042.53 L325.50,1042.53 L325.61,1042.53 L325.73,1042.53 L325.84,1042.53 L325.96,1042.53 L326.08,1042.53 L326.19,1042.53 L326.31,1042.53 L326.43,1042.53 L326.54,1042.54 L326.66,1042.54 L326.77,1042.54 L326.89,1042.54 L327.01,1042.54 L327.12,1042.54 L327.24,1042.54 L327.36,1042.54 L327.47,1042.54 L327.59,1042.54 L327.70,1042.54 L327.82,1042.54 L327.94,1042.54 L328.05,1042.54 L328.17,1042.54 L328.29,1042.54 L328.40,1042.54 L328.52,1042.54 L328.63,1042.54 L328.75,1042.54 L328.87,1042.54 L328.98,1042.54 L329.10,1042.54 L329.22,1042.54 L329.33,1042.54 L329.39,1042.54 M341.88,1042.55 L341.88,1042.55 L342.00,1042.55 L342.11,1042.55 L342.23,1042.55 L342.35,1042.55 L342.46,1042.55 L342.58,1042.55 L342.70,1042.55 L342.81,1042.55 L342.93,1042.55 L343.04,1042.55 L343.16,1042.55 L343.28,1042.55 L343.39,1042.55 L343.51,1042.55 L343.63,1042.55 L343.74,1042.55 L343.86,1042.55 L343.97,1042.55 L344.09,1042.55 L344.21,1042.55 L344.32,1042.55 L344.44,1042.55 L344.56,1042.55 L344.67,1042.55 L344.79,1042.55 L344.90,1042.55 L345.02,1042.55 L345.14,1042.55 L345.25,1042.55 L345.37,1042.55 L345.48,1042.55 L345.60,1042.55 L345.72,1042.55 L345.83,1042.55 L345.95,1042.55 L346.07,1042.55 L346.18,1042.55 L346.30,1042.55 L346.41,1042.55 L346.53,1042.55 L346.65,1042.55 L346.76,1042.55 L346.88,1042.55 L347.00,1042.55 L347.11,1042.55 L347.23,1042.55 L347.34,1042.55 L347.46,1042.55 L347.58,1042.55 L347.69,1042.55 L347.81,1042.55 L347.93,1042.55 L348.04,1042.55 L348.12,1042.55 M360.60,1042.52 L360.71,1042.52 L360.83,1042.52 L360.94,1042.52 L361.06,1042.52 L361.17,1042.52 L361.29,1042.52 L361.41,1042.52 L361.52,1042.52 L361.64,1042.52 L361.75,1042.52 L361.87,1042.52 L361.99,1042.52 L362.10,1042.52 L362.22,1042.51 L362.34,1042.51 L362.45,1042.51 L362.57,1042.51 L362.68,1042.51 L362.80,1042.51 L362.92,1042.51 L363.03,1042.51 L363.15,1042.51 L363.27,1042.51 L363.38,1042.51 L363.50,1042.51 L363.61,1042.51 L363.73,1042.51 L363.85,1042.50 L363.96,1042.50 L364.08,1042.50 L364.20,1042.50 L364.31,1042.50 L364.43,1042.50 L364.54,1042.50 L364.66,1042.50 L364.78,1042.50 L364.89,1042.50 L365.01,1042.50 L365.12,1042.49 L365.24,1042.49 L365.36,1042.49 L365.47,1042.49 L365.59,1042.49 L365.71,1042.49 L365.82,1042.49 L365.94,1042.49 L366.05,1042.49 L366.17,1042.49 L366.29,1042.48 L366.40,1042.48 L366.52,1042.48 L366.64,1042.48 L366.75,1042.48 L366.81,1042.48 M379.02,1042.18 L379.07,1042.18 L379.19,1042.17 L379.30,1042.16 L379.42,1042.16 L379.54,1042.15 L379.65,1042.15 L379.77,1042.14 L379.88,1042.14 L380.00,1042.13 L380.12,1042.12 L380.23,1042.12 L380.35,1042.11 L380.46,1042.10 L380.58,1042.10 L380.70,1042.09 L380.81,1042.08 L380.93,1042.08 L381.05,1042.07 L381.16,1042.06 L381.28,1042.06 L381.39,1042.05 L381.51,1042.04 L381.63,1042.04 L381.74,1042.03 L381.86,1042.02 L381.98,1042.01 L382.09,1042.01 L382.21,1042.00 L382.32,1041.99 L382.44,1041.98 L382.56,1041.97 L382.67,1041.97 L382.79,1041.96 L382.91,1041.95 L383.02,1041.94 L383.14,1041.93 L383.25,1041.92 L383.37,1041.91 L383.49,1041.91 L383.60,1041.90 L383.72,1041.89 L383.84,1041.88 L383.95,1041.87 L384.07,1041.86 L384.18,1041.85 L384.30,1041.84 L384.42,1041.83 L384.53,1041.82 L384.65,1041.81 L384.76,1041.80 L384.88,1041.79 L384.89,1041.79 M395.59,1040.06 L395.69,1040.04 L395.81,1040.01 L395.92,1039.97 L396.04,1039.94 L396.15,1039.91 L396.27,1039.88 L396.39,1039.85 L396.50,1039.82 L396.62,1039.78 L396.73,1039.75 L396.85,1039.72 L396.97,1039.68 L397.08,1039.65 L397.20,1039.61 L397.32,1039.58 L397.43,1039.54 L397.55,1039.51 L397.66,1039.47 L397.78,1039.44 L397.90,1039.40 L398.01,1039.36 L398.13,1039.33 L398.25,1039.29 L398.36,1039.25 L398.48,1039.21 L398.59,1039.17 L398.71,1039.13 L398.83,1039.09 L398.94,1039.05 L399.06,1039.01 L399.18,1038.97 L399.29,1038.93 L399.41,1038.89 L399.52,1038.85 L399.64,1038.80 L399.76,1038.76 L399.87,1038.72 L399.99,1038.67 L400.10,1038.63 L400.21,1038.59 M407.82,1034.53 L407.89,1034.48 L408.01,1034.40 L408.12,1034.31 L408.24,1034.23 L408.36,1034.14 L408.47,1034.06 L408.59,1033.97 L408.70,1033.88 L408.82,1033.80 L408.94,1033.71 L409.05,1033.62 L409.17,1033.53 L409.29,1033.44 L409.40,1033.35 L409.52,1033.26 L409.63,1033.16 L409.75,1033.07 L409.87,1032.97 L409.98,1032.88 L410.10,1032.78 L410.22,1032.69 L410.33,1032.59 L410.45,1032.49 L410.56,1032.39 L410.68,1032.29 L410.80,1032.19 L410.91,1032.09 M416.03,1026.74 L416.14,1026.60 L416.26,1026.45 L416.37,1026.31 L416.49,1026.16 L416.61,1026.02 L416.72,1025.87 L416.84,1025.72 L416.96,1025.57 L417.07,1025.42 L417.19,1025.27 L417.30,1025.11 L417.42,1024.96 L417.54,1024.80 L417.65,1024.65 L417.77,1024.49 L417.89,1024.33 L418.00,1024.17 L418.12,1024.01 L418.19,1023.91 M421.94,1018.07 L421.95,1018.05 L422.07,1017.85 L422.19,1017.65 L422.30,1017.45 L422.42,1017.24 L422.53,1017.04 L422.65,1016.83 L422.77,1016.62 L422.88,1016.41 L423.00,1016.20 L423.12,1015.99 L423.23,1015.78 L423.35,1015.56 L423.46,1015.35 L423.58,1015.13 L423.60,1015.08 M426.60,1009.03 L426.60,1009.02 L426.72,1008.77 L426.83,1008.52 L426.95,1008.26 L427.07,1008.00 L427.18,1007.74 L427.30,1007.49 L427.42,1007.22 L427.53,1006.96 L427.65,1006.70 L427.76,1006.43 L427.88,1006.17 L427.96,1005.98 M430.49,999.82 L430.55,999.65 L430.67,999.35 L430.79,999.05 L430.90,998.74 L431.02,998.44 L431.13,998.13 L431.25,997.83 L431.37,997.52 L431.48,997.21 L431.60,996.90 L431.66,996.73 M433.87,990.51 L433.92,990.36 L434.04,990.02 L434.16,989.68 L434.27,989.33 L434.39,988.99 L434.50,988.64 L434.62,988.29 L434.74,987.94 L434.85,987.59 L434.92,987.39 M436.91,981.14 L436.94,981.02 L437.06,980.65 L437.18,980.27 L437.29,979.89 L437.41,979.50 L437.53,979.12 L437.64,978.74 L437.76,978.35 L437.86,978.01 M439.69,971.73 L439.73,971.58 L439.85,971.17 L439.97,970.75 L440.08,970.34 L440.20,969.93 L440.31,969.51 L440.43,969.09 L440.55,968.68 L440.57,968.59 M442.28,962.30 L442.29,962.25 L442.41,961.81 L442.52,961.37 L442.64,960.93 L442.76,960.49 L442.87,960.05 L442.99,959.60 L443.10,959.16 L443.11,959.15 M444.72,952.84 L444.73,952.80 L444.85,952.34 L444.96,951.88 L445.08,951.41 L445.20,950.95 L445.31,950.48 L445.43,950.01 L445.51,949.69 M447.05,943.37 L447.06,943.35 L447.17,942.87 L447.29,942.39 L447.40,941.90 L447.52,941.42 L447.64,940.93 L447.75,940.44 L447.81,940.21 M449.29,933.89 L449.38,933.53 L449.50,933.03 L449.61,932.53 L449.73,932.02 L449.84,931.52 L449.96,931.02 L450.03,930.73 M451.47,924.40 L451.59,923.90 L451.70,923.38 L451.82,922.87 L451.94,922.35 L452.05,921.84 L452.17,921.32 L452.19,921.24 M453.60,914.91 L453.68,914.56 L453.80,914.04 L453.91,913.52 L454.03,912.99 L454.14,912.47 L454.26,911.94 L454.30,911.74 M455.70,905.41 L455.77,905.08 L455.89,904.55 L456.00,904.02 L456.12,903.49 L456.24,902.96 L456.35,902.43 L456.39,902.24 M457.78,895.91 L457.86,895.51 L457.98,894.98 L458.10,894.45 L458.21,893.91 L458.33,893.38 L458.44,892.85 L458.47,892.74 M459.82,886.40 L459.84,886.33 L459.95,885.78 L460.07,885.23 L460.19,884.68 L460.30,884.14 L460.42,883.59 L460.49,883.24 M461.84,876.90 L461.93,876.49 L462.05,875.95 L462.16,875.40 L462.28,874.86 L462.40,874.32 L462.51,873.77 L462.52,873.73 M463.88,867.39 L463.91,867.29 L464.02,866.75 L464.14,866.21 L464.25,865.68 L464.37,865.14 L464.49,864.60 L464.57,864.23 M465.95,857.89 L466.00,857.69 L466.11,857.17 L466.23,856.64 L466.35,856.11 L466.46,855.59 L466.58,855.06 L466.65,854.73 M468.07,848.40 L468.09,848.31 L468.21,847.80 L468.32,847.29 L468.44,846.77 L468.55,846.26 L468.67,845.75 L468.79,845.24 L468.79,845.23 M470.25,838.91 L470.30,838.70 L470.41,838.21 L470.53,837.71 L470.65,837.22 L470.76,836.73 L470.88,836.23 L470.99,835.75 M472.51,829.43 L472.62,828.98 L472.74,828.51 L472.85,828.03 L472.97,827.56 L473.09,827.09 L473.20,826.62 L473.29,826.27 M474.88,819.96 L474.95,819.72 L475.06,819.27 L475.18,818.82 L475.29,818.37 L475.41,817.92 L475.53,817.48 L475.64,817.03 L475.70,816.81 M477.39,810.52 L477.50,810.11 L477.62,809.69 L477.74,809.27 L477.85,808.86 L477.97,808.44 L478.08,808.02 L478.20,807.61 L478.27,807.37 M480.09,801.09 L480.18,800.79 L480.29,800.40 L480.41,800.02 L480.52,799.63 L480.64,799.25 L480.76,798.87 L480.87,798.49 L480.99,798.11 L481.03,797.96 M483.02,791.71 L483.08,791.53 L483.20,791.18 L483.31,790.83 L483.43,790.49 L483.55,790.14 L483.66,789.79 L483.78,789.45 L483.89,789.11 L484.01,788.77 L484.07,788.59 M486.30,782.38 L486.34,782.28 L486.45,781.97 L486.57,781.66 L486.68,781.35 L486.80,781.05 L486.92,780.75 L487.03,780.44 L487.15,780.14 L487.26,779.85 L487.38,779.55 L487.48,779.29 M490.05,773.14 L490.05,773.13 L490.17,772.86 L490.29,772.60 L490.40,772.35 L490.52,772.09 L490.63,771.83 L490.75,771.58 L490.87,771.32 L490.98,771.07 L491.10,770.82 L491.22,770.57 L491.33,770.33 L491.44,770.09 M494.53,764.06 L494.59,763.96 L494.70,763.75 L494.82,763.54 L494.93,763.34 L495.05,763.13 L495.17,762.93 L495.28,762.73 L495.40,762.53 L495.52,762.33 L495.63,762.13 L495.75,761.94 L495.86,761.74 L495.98,761.55 L496.10,761.36 L496.21,761.17 L496.25,761.10 M500.21,755.32 L500.28,755.23 L500.40,755.08 L500.51,754.93 L500.63,754.79 L500.75,754.64 L500.86,754.50 L500.98,754.35 L501.09,754.21 L501.21,754.07 L501.33,753.93 L501.44,753.79 L501.56,753.65 L501.68,753.51 L501.79,753.38 L501.91,753.24 L502.02,753.11 L502.14,752.98 L502.26,752.84 L502.37,752.71 L502.49,752.58 L502.52,752.54 M508.10,747.39 L508.18,747.33 L508.30,747.24 L508.42,747.16 L508.53,747.07 L508.65,746.99 L508.76,746.90 L508.88,746.82 L509.00,746.74 L509.11,746.66 L509.23,746.58 L509.35,746.50 L509.46,746.42 L509.58,746.34 L509.69,746.26 L509.81,746.18 L509.93,746.11 L510.04,746.03 L510.16,745.96 L510.27,745.88 L510.39,745.81 L510.51,745.74 L510.62,745.66 L510.74,745.59 L510.86,745.52 L510.97,745.45 L511.09,745.38 L511.20,745.31 L511.32,745.24 L511.44,745.18 L511.52,745.13 M519.98,741.63 L520.04,741.62 L520.15,741.58 L520.27,741.55 L520.39,741.52 L520.50,741.49 L520.62,741.46 L520.73,741.43 L520.85,741.40 L520.97,741.37 L521.08,741.34 L521.20,741.31 L521.32,741.28 L521.43,741.25 L521.55,741.23 L521.66,741.20 L521.78,741.17 L521.90,741.14 L522.01,741.12 L522.13,741.09 L522.24,741.06 L522.36,741.04 L522.48,741.01 L522.59,740.99 L522.71,740.96 L522.83,740.94 L522.94,740.91 L523.06,740.89 L523.17,740.86 L523.29,740.84 L523.41,740.82 L523.52,740.79 L523.64,740.77 L523.76,740.75 L523.87,740.73 L523.99,740.70 L524.10,740.68 L524.22,740.66 L524.34,740.64 L524.45,740.62 L524.57,740.60 L524.69,740.58 L524.80,740.56 L524.92,740.54 L525.03,740.52 L525.04,740.51 M536.41,739.38 L536.42,739.38 L536.54,739.38 L536.66,739.37 L536.77,739.37 L536.89,739.36 L537.00,739.36 L537.12,739.35 L537.24,739.35 L537.35,739.34 L537.47,739.34 L537.58,739.33 L537.70,739.33 L537.82,739.32 L537.93,739.32 L538.05,739.31 L538.17,739.31 L538.28,739.30 L538.40,739.30 L538.51,739.29 L538.63,739.29 L538.75,739.28 L538.86,739.28 L538.98,739.27 L539.10,739.27 L539.21,739.27 L539.33,739.26 L539.44,739.26 L539.56,739.25 L539.68,739.25 L539.79,739.25 L539.91,739.24 L540.03,739.24 L540.14,739.24 L540.26,739.23 L540.37,739.23 L540.49,739.22 L540.61,739.22 L540.72,739.22 L540.84,739.21 L540.96,739.21 L541.07,739.21 L541.19,739.20 L541.30,739.20 L541.42,739.20 L541.54,739.20 L541.65,739.19 L541.77,739.19 L541.88,739.19 L542.00,739.18 L542.12,739.18 L542.23,739.18 L542.35,739.17 L542.45,739.17 M554.81,739.03 L554.90,739.03 L555.02,739.03 L555.13,739.03 L555.25,739.03 L555.37,739.03 L555.48,739.03 L555.60,739.03 L555.71,739.02 L555.83,739.02 L555.95,739.02 L556.06,739.02 L556.18,739.02 L556.30,739.02 L556.41,739.02 L556.53,739.02 L556.64,739.02 L556.76,739.02 L556.88,739.02 L556.99,739.02 L557.11,739.02 L557.22,739.02 L557.34,739.02 L557.46,739.02 L557.57,739.02 L557.69,739.02 L557.81,739.02 L557.92,739.02 L558.04,739.02 L558.15,739.02 L558.27,739.02 L558.39,739.02 L558.50,739.02 L558.62,739.02 L558.74,739.02 L558.85,739.01 L558.97,739.01 L559.08,739.01 L559.20,739.01 L559.32,739.01 L559.43,739.01 L559.55,739.01 L559.67,739.01 L559.78,739.01 L559.90,739.01 L560.01,739.01 L560.13,739.01 L560.25,739.01 L560.36,739.01 L560.48,739.01 L560.60,739.01 L560.71,739.01 L560.83,739.01 L560.94,739.01 L561.05,739.01 M573.54,739.00 L573.61,739.00 L573.73,739.00 L573.84,739.00 L573.96,739.00 L574.08,739.00 L574.19,739.00 L574.31,739.00 L574.42,739.00 L574.54,739.00 L574.66,739.00 L574.77,739.00 L574.89,739.00 L575.01,739.00 L575.12,739.00 L575.24,739.00 L575.35,739.00 L575.47,739.00 L575.59,739.00 L575.70,739.00 L575.82,739.00 L575.94,739.00" fill="none" stroke="#4DB2C4" stroke-width="5.0" stroke-linecap="round"/></g>
<path d="M691.12,739.00 L691.28,743.07 L691.40,745.99 M691.74,754.69 L691.77,755.29 L691.93,759.36 L692.09,763.43 L692.25,767.50 L692.26,767.68 M692.60,776.37 L692.74,779.71 L692.90,783.79 L693.06,787.86 L693.12,789.36 M693.46,798.05 L693.54,800.07 L693.70,804.14 L693.87,808.21 L693.98,811.04 M694.32,819.74 L694.35,820.43 L694.51,824.50 L694.67,828.57 L694.83,832.64 L694.84,832.73 M695.18,841.42 L695.32,844.86 L695.48,848.93 L695.64,853.00 L695.70,854.41 M696.04,863.10 L696.13,865.21 L696.29,869.28 L696.45,873.36 L696.56,876.09 M696.90,884.79 L696.93,885.57 L697.09,889.64 L697.26,893.71 L697.42,897.78 M697.76,906.47 L697.90,910.00 L698.06,914.07 L698.22,918.14 L698.28,919.46 M698.62,928.15 L698.71,930.36 L698.87,934.43 L699.03,938.50 L699.14,941.14 M699.48,949.83 L699.52,950.71 L699.68,954.78 L699.84,958.86 L700.00,962.82 M700.34,971.52 L700.48,975.14 L700.65,979.21 L700.81,983.28 L700.86,984.51 M701.20,993.20 L701.29,995.50 L701.45,999.57 L701.61,1003.64 L701.72,1006.19 M702.06,1014.88 L702.10,1015.85 L702.26,1019.93 L702.42,1024.00 L702.58,1027.87 M702.92,1036.57 L703.07,1040.28 L703.23,1042.55 L703.39,1042.55 L703.55,1042.55 L703.71,1042.55 L703.87,1042.55 L704.04,1042.55 L704.20,1042.55 L704.36,1042.55 L704.52,1042.55 L704.68,1042.55 L704.84,1042.55 L705.00,1042.55 L705.17,1042.55 L705.33,1042.55 L705.49,1042.55 L705.65,1042.55 L705.81,1042.55 L705.97,1042.55 L706.13,1042.55 L706.30,1042.55 L706.46,1042.55 L706.62,1042.55 L706.78,1042.55 L706.94,1042.55 L707.10,1042.55 L707.26,1042.55 L707.43,1042.55 L707.59,1042.55 L707.75,1042.55 L707.91,1042.55 L708.07,1042.55 L708.23,1042.55 L708.39,1042.55 L708.56,1042.55 L708.72,1042.55 L708.88,1042.55 L709.04,1042.55 L709.20,1042.55 L709.36,1042.55 L709.52,1042.55 L709.69,1042.55 L709.85,1042.55 L710.01,1042.55 L710.17,1042.55 L710.23,1042.55 M718.93,1042.55 L719.05,1042.55 L719.21,1042.55 L719.37,1042.55 L719.53,1042.55 L719.69,1042.55 L719.85,1042.55 L720.02,1042.55 L720.18,1042.55 L720.34,1042.55 L720.50,1042.55 L720.66,1042.55 L720.82,1042.55 L720.98,1042.55 L721.15,1042.55 L721.31,1042.55 L721.47,1042.55 L721.63,1042.55 L721.79,1042.55 L721.95,1042.55 L722.11,1042.55 L722.28,1042.55 L722.44,1042.55 L722.60,1042.55 L722.76,1042.55 L722.92,1042.55 L723.08,1042.55 L723.24,1042.55 L723.41,1042.55 L723.57,1042.55 L723.73,1042.55 L723.89,1042.55 L724.05,1042.55 L724.21,1042.55 L724.37,1042.55 L724.54,1042.55 L724.70,1042.55 L724.86,1042.55 L725.02,1042.55 L725.18,1042.55 L725.34,1042.55 L725.50,1042.55 L725.67,1042.55 L725.83,1042.55 L725.99,1042.55 L726.15,1042.55 L726.31,1042.55 L726.47,1042.55 L726.63,1042.55 L726.80,1042.55 L726.96,1042.55 L727.12,1042.55 L727.28,1042.55 L727.44,1042.55 L727.60,1042.55 L727.76,1042.55 L727.93,1042.55 L728.09,1042.55 L728.25,1042.55 L728.41,1042.55 L728.57,1042.55 L728.73,1042.55 L728.89,1042.55 L729.06,1042.55 L729.22,1042.55 L729.38,1042.55 L729.54,1042.55 L729.70,1042.55 L729.86,1042.55 L730.02,1042.55 L730.19,1042.55 L730.35,1042.55 L730.51,1042.55 L730.67,1042.55 L730.83,1042.55 L730.99,1042.55 L731.15,1042.55 L731.32,1042.55 L731.48,1042.55 L731.64,1042.55 L731.80,1042.55 L731.93,1042.55 M740.63,1042.55 L740.68,1042.55 L740.84,1042.55 L741.00,1042.55 L741.16,1042.55 L741.32,1042.55 L741.49,1042.55 L741.65,1042.55 L741.81,1042.55 L741.97,1042.55 L742.13,1042.55 L742.29,1042.55 L742.45,1042.55 L742.62,1042.55 L742.78,1042.55 L742.94,1042.55 L743.10,1042.55 L743.26,1042.55 L743.42,1042.55 L743.58,1042.55 L743.74,1042.55 L743.91,1042.55 L744.07,1042.55 L744.23,1042.55 L744.39,1042.55 L744.55,1042.55 L744.71,1042.55 L744.87,1042.55 L745.04,1042.55 L745.20,1042.55 L745.36,1042.55 L745.52,1042.55 L745.68,1042.55 L745.84,1042.55 L746.00,1042.55 L746.17,1042.55 L746.33,1042.55 L746.49,1042.55 L746.65,1042.55 L746.81,1042.55 L746.97,1042.55 L747.13,1042.55 L747.30,1042.55 L747.46,1042.55 L747.62,1042.55 L747.78,1042.55 L747.94,1042.55 L748.10,1042.55 L748.26,1042.55 L748.43,1042.55 L748.59,1042.55 L748.75,1042.55 L748.91,1042.55 L749.07,1042.55 L749.23,1042.55 L749.39,1042.55 L749.56,1042.55 L749.72,1042.55 L749.88,1042.55 L750.04,1042.55 L750.20,1042.55 L750.36,1042.55 L750.52,1042.55 L750.69,1042.55 L750.85,1042.55 L751.01,1042.55 L751.17,1042.55 L751.33,1042.55 L751.49,1042.55 L751.65,1042.55 L751.82,1042.55 L751.98,1042.55 L752.14,1042.55 L752.30,1042.55 L752.46,1042.55 L752.62,1042.55 L752.78,1042.55 L752.95,1042.55 L753.11,1042.55 L753.27,1042.55 L753.43,1042.55 L753.59,1042.55 L753.63,1042.55 M762.33,1042.55 L762.47,1042.55 L762.63,1042.55 L762.79,1042.55 L762.95,1042.55 L763.12,1042.55 L763.28,1042.55 L763.44,1042.55 L763.60,1042.55 L763.76,1042.55 L763.92,1042.55 L764.08,1042.55 L764.25,1042.55 L764.41,1042.55 L764.57,1042.55 L764.73,1042.55 L764.89,1042.55 L765.05,1042.55 L765.21,1042.55 L765.38,1042.55 L765.54,1042.55 L765.70,1042.55 L765.86,1042.55 L766.02,1042.55 L766.18,1042.55 L766.34,1042.55 L766.51,1042.55 L766.67,1042.55 L766.83,1042.55 L766.99,1042.55 L767.15,1042.55 L767.31,1042.55 L767.47,1042.55 L767.64,1042.55 L767.80,1042.55 L767.96,1042.55 L768.12,1042.55 L768.28,1042.55 L768.44,1042.55 L768.60,1042.55 L768.76,1042.55 L768.93,1042.55 L769.09,1042.55 L769.25,1042.55 L769.41,1042.55 L769.57,1042.55 L769.73,1042.55 L769.89,1042.55 L770.06,1042.55 L770.22,1042.55 L770.38,1042.55 L770.54,1042.55 L770.70,1042.55 L770.86,1042.55 L771.02,1042.55 L771.19,1042.55 L771.35,1042.55 L771.51,1042.55 L771.67,1042.55 L771.83,1042.55 L771.99,1042.55 L772.15,1042.55 L772.32,1042.55 L772.48,1042.55 L772.64,1042.55 L772.80,1042.55 L772.96,1042.55 L773.12,1042.55 L773.28,1042.55 L773.45,1042.55 L773.61,1042.55 L773.77,1042.55 L773.93,1042.55 L774.09,1042.55 L774.25,1042.55 L774.41,1042.55 L774.58,1042.55 L774.74,1042.55 L774.90,1042.55 L775.06,1042.55 L775.22,1042.55 L775.33,1042.55 M784.03,1042.55 L784.10,1042.55 L784.26,1042.55 L784.42,1042.55 L784.58,1042.55 L784.75,1042.55 L784.91,1042.55 L785.07,1042.55 L785.23,1042.55 L785.39,1042.55 L785.55,1042.55 L785.71,1042.55 L785.88,1042.55 L786.04,1042.55 L786.20,1042.55 L786.36,1042.55 L786.52,1042.55 L786.68,1042.55 L786.84,1042.55 L787.01,1042.55 L787.17,1042.55 L787.33,1042.55 L787.49,1042.55 L787.65,1042.55 L787.81,1042.55 L787.97,1042.55 L788.14,1042.55 L788.30,1042.55 L788.46,1042.55 L788.62,1042.55 L788.78,1042.55 L788.94,1042.55 L789.10,1042.55 L789.27,1042.55 L789.43,1042.55 L789.59,1042.55 L789.75,1042.55 L789.91,1042.55 L790.07,1042.55 L790.23,1042.55 L790.40,1042.55 L790.56,1042.55 L790.72,1042.55 L790.88,1042.55 L791.04,1042.55 L791.20,1042.55 L791.36,1042.55 L791.53,1042.55 L791.69,1042.55 L791.85,1042.55 L792.01,1042.55 L792.17,1042.55 L792.33,1042.55 L792.49,1042.55 L792.66,1042.55 L792.82,1042.55 L792.98,1042.55 L793.14,1042.55 L793.30,1042.55 L793.46,1042.55 L793.62,1042.55 L793.79,1042.55 L793.95,1042.55 L794.11,1042.55 L794.27,1042.55 L794.43,1042.55 L794.59,1042.55 L794.75,1042.55 L794.91,1042.55 L795.08,1042.55 L795.24,1042.55 L795.40,1042.55 L795.56,1042.55 L795.72,1042.55 L795.88,1042.55 L796.04,1042.55 L796.21,1042.55 L796.37,1042.55 L796.53,1042.55 L796.69,1042.55 L796.85,1042.55 L797.01,1042.55 L797.03,1042.55 M805.73,1042.55 L805.89,1042.55 L806.05,1042.55 L806.21,1042.55 L806.38,1042.55 L806.54,1042.55 L806.70,1042.55 L806.86,1042.55 L807.02,1042.55 L807.18,1042.55 L807.34,1042.55 L807.51,1042.55 L807.67,1042.55 L807.83,1042.55 L807.99,1042.55 L808.15,1042.55 L808.31,1042.55 L808.47,1042.55 L808.64,1042.55 L808.80,1042.55 L808.96,1042.55 L809.12,1042.55 L809.28,1042.55 L809.44,1042.55 L809.60,1042.55 L809.77,1042.55 L809.93,1042.55 L810.09,1042.55 L810.25,1042.55 L810.41,1042.55 L810.57,1042.55 L810.73,1042.55 L810.90,1042.55 L811.06,1042.55 L811.22,1042.55 L811.38,1042.55 L811.54,1042.55 L811.70,1042.55 L811.86,1042.55 L812.03,1042.55 L812.19,1042.55 L812.35,1042.55 L812.51,1042.55 L812.67,1042.55 L812.83,1042.55 L812.99,1042.55 L813.16,1042.55 L813.32,1042.55 L813.48,1042.55 L813.64,1042.55 L813.80,1042.55 L813.96,1042.55 L814.12,1042.55 L814.29,1042.55 L814.45,1042.55 L814.61,1042.55 L814.77,1042.55 L814.93,1042.55 L815.09,1042.55 L815.25,1042.55 L815.42,1042.55 L815.58,1042.55 L815.74,1042.55 L815.90,1042.55 L816.06,1042.55 L816.22,1042.55 L816.38,1042.55 L816.55,1042.55 L816.71,1042.55 L816.87,1042.55 L817.03,1042.55 L817.19,1042.55 L817.35,1042.55 L817.51,1042.55 L817.68,1042.55 L817.84,1042.55 L818.00,1042.55 L818.16,1042.55 L818.32,1042.55 L818.48,1042.55 L818.64,1042.55 L818.73,1042.55 M827.43,1042.55 L827.52,1042.55 L827.68,1042.55 L827.84,1042.55 L828.01,1042.55 L828.17,1042.55 L828.33,1042.55 L828.49,1042.55 L828.65,1042.55 L828.81,1042.55 L828.97,1042.55 L829.14,1042.55 L829.30,1042.55 L829.46,1042.55 L829.62,1042.55 L829.78,1042.55 L829.94,1042.55 L830.10,1042.55 L830.27,1042.55 L830.43,1042.55 L830.59,1042.55 L830.75,1042.55 L830.91,1042.55 L831.07,1042.55 L831.23,1042.55 L831.40,1042.55 L831.56,1042.55 L831.72,1042.55 L831.88,1042.55 L832.04,1042.55 L832.20,1042.55 L832.36,1042.55 L832.53,1042.55 L832.69,1042.55 L832.85,1042.55 L833.01,1042.55 L833.17,1042.55 L833.33,1042.55 L833.49,1042.55 L833.66,1042.55 L833.82,1042.55 L833.98,1042.55 L834.14,1042.55 L834.30,1042.55 L834.46,1042.55 L834.62,1042.55 L834.79,1042.55 L834.95,1042.55 L835.11,1042.55 L835.27,1042.55 L835.43,1042.55 L835.59,1042.55 L835.75,1042.55 L835.92,1042.55 L836.08,1042.55 L836.24,1042.55 L836.40,1042.55 L836.56,1042.55 L836.72,1042.55 L836.88,1042.55 L837.05,1042.55 L837.21,1042.55 L837.37,1042.55 L837.53,1042.55 L837.69,1042.55 L837.85,1042.55 L838.01,1042.55 L838.18,1042.55 L838.34,1042.55 L838.50,1042.55 L838.66,1042.55 L838.82,1042.55 L838.98,1042.55 L839.14,1042.55 L839.31,1042.55 L839.47,1042.55 L839.63,1042.55 L839.79,1042.55 L839.95,1042.55 L840.11,1042.55 L840.27,1042.55 L840.43,1042.55 M849.13,1042.55 L849.15,1042.55 L849.31,1042.55 L849.47,1042.55 L849.64,1042.55 L849.80,1042.55 L849.96,1042.55 L850.12,1042.55 L850.28,1042.55 L850.44,1042.55 L850.60,1042.55 L850.77,1042.55 L850.93,1042.55 L851.09,1042.55 L851.25,1042.55 L851.41,1042.55 L851.57,1042.55 L851.73,1042.55 L851.90,1042.55 L852.06,1042.55 L852.22,1042.55 L852.38,1042.55 L852.54,1042.55 L852.70,1042.55 L852.86,1042.55 L853.03,1042.55 L853.19,1042.55 L853.35,1042.55 L853.51,1042.55 L853.67,1042.55 L853.83,1042.55 L853.99,1042.55 L854.16,1042.55 L854.32,1042.55 L854.48,1042.55 L854.64,1042.55 L854.80,1042.55 L854.96,1042.55 L855.12,1042.55 L855.29,1042.55 L855.45,1042.55 L855.61,1042.55 L855.77,1042.55 L855.93,1042.55 L856.09,1042.55 L856.25,1042.55 L856.42,1042.55 L856.58,1042.55 L856.74,1042.55 L856.90,1042.55 L857.06,1042.55 L857.22,1042.55 L857.38,1042.55 L857.55,1042.55 L857.71,1042.55 L857.87,1042.55 L858.03,1042.55 L858.19,1042.55 L858.35,1042.55 L858.51,1042.55 L858.68,1042.55 L858.84,1042.55 L859.00,1042.55 L859.16,1042.55 L859.32,1042.55 L859.48,1042.55 L859.64,1042.55 L859.81,1042.55 L859.97,1042.55 L860.13,1042.55 L860.29,1042.55 L860.45,1042.55 L860.61,1042.55 L860.77,1042.55 L860.94,1042.55 L861.10,1042.55 L861.26,1042.55 L861.42,1042.55 L861.58,1042.55 L861.74,1042.55 L861.90,1042.55 L862.07,1042.55 L862.13,1042.55 M870.83,1042.55 L870.94,1042.55 L871.10,1042.55 L871.27,1042.55 L871.43,1042.55 L871.59,1042.55 L871.75,1042.55 L871.91,1042.55 L872.07,1042.55 L872.23,1042.55 L872.40,1042.55 L872.56,1042.55 L872.72,1042.55 L872.88,1042.55 L873.04,1042.55 L873.20,1042.55 L873.36,1042.55 L873.53,1042.55 L873.69,1042.55 L873.85,1042.55 L874.01,1042.55 L874.17,1042.55 L874.33,1042.55 L874.49,1042.55 L874.66,1042.55 L874.82,1042.55 L874.98,1042.55 L875.14,1042.55 L875.30,1042.55 L875.46,1042.55 L875.62,1042.55 L875.79,1042.55 L875.95,1042.55 L876.11,1042.55 L876.27,1042.55 L876.43,1042.55 L876.59,1042.55 L876.75,1042.55 L876.92,1042.55 L877.08,1042.55 L877.24,1042.55 L877.40,1042.55 L877.56,1042.55 L877.72,1042.55 L877.88,1042.55 L878.05,1042.55 L878.21,1042.55 L878.37,1042.55 L878.53,1042.55 L878.69,1042.55 L878.85,1042.55 L879.01,1042.55 L879.18,1042.55 L879.34,1042.55 L879.50,1042.55 L879.66,1042.55 L879.82,1042.55 L879.98,1042.55 L880.14,1042.55 L880.31,1042.55 L880.47,1042.55 L880.63,1042.55 L880.79,1042.55 L880.95,1042.55 L881.11,1042.55 L881.27,1042.55 L881.44,1042.55 L881.60,1042.55 L881.76,1042.55 L881.92,1042.55 L882.08,1042.55 L882.24,1042.55 L882.40,1042.55 L882.57,1042.55 L882.73,1042.55 L882.89,1042.55 L883.05,1042.55 L883.21,1042.55 L883.37,1042.55 L883.53,1042.55 L883.70,1042.55 L883.83,1042.55 M892.53,1042.55 L892.57,1042.55 L892.74,1042.55 L892.90,1042.55 L893.06,1042.55 L893.22,1042.55 L893.38,1042.55 L893.54,1042.55 L893.70,1042.55 L893.87,1042.55 L894.03,1042.55 L894.19,1042.55 L894.35,1042.55 L894.51,1042.55 L894.67,1042.55 L894.83,1042.55 L894.99,1042.55 L895.16,1042.55 L895.32,1042.55 L895.48,1042.55 L895.64,1042.55 L895.80,1042.55 L895.96,1042.55 L896.12,1042.55 L896.29,1042.55 L896.45,1042.55 L896.61,1042.55 L896.77,1042.55 L896.93,1042.55 L897.09,1042.55 L897.25,1042.55 L897.42,1042.55 L897.58,1042.55 L897.74,1042.55 L897.90,1042.55 L898.06,1042.55 L898.22,1042.55 L898.38,1042.55 L898.55,1042.55 L898.71,1042.55 L898.87,1042.55 L899.03,1042.55 L899.19,1042.55 L899.35,1042.55 L899.51,1042.55 L899.68,1042.55 L899.84,1042.55 L900.00,1042.55 L900.16,1042.55 L900.32,1042.55 L900.48,1042.55 L900.64,1042.55 L900.81,1042.55 L900.97,1042.55 L901.13,1042.55 L901.29,1042.55 L901.45,1042.55 L901.61,1042.55 L901.77,1042.55 L901.94,1042.55 L902.10,1042.55 L902.26,1042.55 L902.42,1042.55 L902.58,1042.55 L902.74,1042.55 L902.90,1042.55 L903.07,1042.55 L903.23,1042.55 L903.39,1042.55 L903.55,1042.55 L903.71,1042.55 L903.87,1042.55 L904.03,1042.55 L904.20,1042.55 L904.36,1042.55 L904.52,1042.55 L904.68,1042.55 L904.84,1042.55 L905.00,1042.55 L905.16,1042.55 L905.33,1042.55 L905.49,1042.55 L905.53,1042.55 M914.23,1042.55 L914.37,1042.55 L914.53,1042.55 L914.69,1042.55 L914.85,1042.55 L915.01,1042.55 L915.17,1042.55 L915.33,1042.55 L915.50,1042.55 L915.66,1042.55 L915.82,1042.55 L915.98,1042.55 L916.14,1042.55 L916.30,1042.55 L916.46,1042.55 L916.63,1042.55 L916.79,1042.55 L916.95,1042.55 L917.11,1042.55 L917.27,1042.55 L917.43,1042.55 L917.59,1042.55 L917.76,1042.55 L917.92,1042.55 L918.08,1042.55 L918.24,1042.55 L918.40,1042.55 L918.56,1042.55 L918.72,1042.55 L918.89,1042.55 L919.05,1042.55 L919.21,1042.55 L919.37,1042.55 L919.53,1042.55 L919.69,1042.55 L919.85,1042.55 L920.02,1042.55 L920.18,1042.55 L920.34,1042.55 L920.50,1042.55 L920.66,1042.55 L920.82,1042.55 L920.98,1042.55 L921.14,1042.55 L921.31,1042.55 L921.47,1042.55 L921.63,1042.55 L921.79,1042.55 L921.95,1042.55 L922.11,1042.55 L922.27,1042.55 L922.44,1042.55 L922.60,1042.55 L922.76,1042.55 L922.92,1042.55 L923.08,1042.55 L923.24,1042.55 L923.40,1042.55 L923.57,1042.55 L923.73,1042.55 L923.89,1042.55 L924.05,1042.55 L924.21,1042.55 L924.37,1042.55 L924.53,1042.55 L924.70,1042.55 L924.86,1042.55 L925.02,1042.55 L925.18,1042.55 L925.34,1042.55 L925.50,1042.55 L925.66,1042.55 L925.83,1042.55 L925.99,1042.55 L926.15,1042.55 L926.31,1042.55 L926.47,1042.55 L926.63,1042.55 L926.79,1042.55 L926.96,1042.55 L927.12,1042.55 L927.23,1042.55 M935.93,1042.55 L936.00,1042.55 L936.16,1042.55 L936.32,1042.55 L936.48,1042.55 L936.64,1042.55 L936.80,1042.55 L936.96,1042.55 L937.13,1042.55 L937.29,1042.55 L937.45,1042.55 L937.61,1042.55 L937.77,1042.55 L937.93,1042.55 L938.09,1042.55 L938.26,1042.55 L938.42,1042.55 L938.58,1042.55 L938.74,1042.55 L938.90,1042.55 L939.06,1042.55 L939.22,1042.55 L939.39,1042.55 L939.55,1042.55 L939.71,1042.55 L939.87,1042.55 L940.03,1042.55 L940.19,1042.55 L940.35,1042.55 L940.52,1042.55 L940.68,1042.55 L940.84,1042.55 L941.00,1042.55 L941.16,1042.55 L941.32,1042.55 L941.48,1042.55 L941.65,1042.55 L941.81,1042.55 L941.97,1042.55 L942.13,1042.55 L942.29,1042.55 L942.45,1042.55 L942.61,1042.55 L942.78,1042.55 L942.94,1042.55 L943.10,1042.55 L943.26,1042.55 L943.42,1042.55 L943.58,1042.55 L943.74,1042.55 L943.91,1042.55 L944.07,1042.55 L944.23,1042.55 L944.39,1042.55 L944.55,1042.55 L944.71,1042.55 L944.87,1042.55 L945.04,1042.55 L945.20,1042.55 L945.36,1042.55 L945.52,1042.55 L945.68,1042.55 L945.84,1042.55 L946.00,1042.55 L946.16,1042.55 L946.33,1042.55 L946.49,1042.55 L946.65,1042.55 L946.81,1042.55 L946.97,1042.55 L947.13,1042.55 L947.29,1042.55 L947.46,1042.55 L947.62,1042.55 L947.78,1042.55 L947.94,1042.55 L948.10,1042.55 L948.26,1042.55 L948.42,1042.55 L948.59,1042.55 L948.75,1042.55 L948.91,1042.55 L948.93,1042.55 M957.63,1042.55 L957.79,1042.55 L957.95,1042.55 L958.11,1042.55 L958.27,1042.55 L958.43,1042.55 L958.59,1042.55 L958.76,1042.55 L958.92,1042.55 L959.08,1042.55 L959.24,1042.55 L959.40,1042.55 L959.56,1042.55 L959.72,1042.55 L959.89,1042.55 L960.05,1042.55 L960.21,1042.55 L960.37,1042.55 L960.53,1042.55 L960.69,1042.55 L960.85,1042.55 L961.02,1042.55 L961.18,1042.55 L961.34,1042.55 L961.50,1042.55 L961.66,1042.55 L961.82,1042.55 L961.98,1042.55 L962.15,1042.55 L962.31,1042.55 L962.47,1042.55 L962.63,1042.55 L962.79,1042.55 L962.95,1042.55 L963.11,1042.55 L963.28,1042.55 L963.44,1042.55 L963.60,1042.55 L963.76,1042.55 L963.92,1042.55 L964.08,1042.55 L964.24,1042.55 L964.41,1042.55 L964.57,1042.55 L964.73,1042.55 L964.89,1042.55 L965.05,1042.55 L965.21,1042.55 L965.37,1042.55 L965.54,1042.55 L965.70,1042.55 L965.86,1042.55 L966.02,1042.55 L966.18,1042.55 L966.34,1042.55 L966.50,1042.55 L966.67,1042.55 L966.83,1042.55 L966.99,1042.55 L967.15,1042.55 L967.31,1042.55 L967.47,1042.55 L967.63,1042.55 L967.80,1042.55 L967.96,1042.55 L968.12,1042.55 L968.28,1042.55 L968.44,1042.55 L968.60,1042.55 L968.76,1042.55 L968.93,1042.55 L969.09,1042.55 L969.25,1042.55 L969.41,1042.55 L969.57,1042.55 L969.73,1042.55 L969.89,1042.55 L970.06,1042.55 L970.22,1042.55 L970.38,1042.55 L970.54,1042.55 L970.63,1042.55 M979.33,1042.55 L979.42,1042.55 L979.58,1042.55 L979.74,1042.55 L979.90,1042.55 L980.06,1042.55 L980.22,1042.55 L980.39,1042.55 L980.55,1042.55 L980.71,1042.55 L980.87,1042.55 L981.03,1042.55 L981.19,1042.55 L981.35,1042.55 L981.52,1042.55 L981.68,1042.55 L981.84,1042.55 L982.00,1042.55 L982.16,1042.55 L982.32,1042.55 L982.48,1042.55 L982.65,1042.55 L982.81,1042.55 L982.97,1042.55 L983.13,1042.55 L983.29,1042.55 L983.45,1042.55 L983.61,1042.55 L983.78,1042.55 L983.94,1042.55 L984.10,1042.55 L984.26,1042.55 L984.42,1042.55 L984.58,1042.55 L984.74,1042.55 L984.91,1042.55 L985.07,1042.55 L985.23,1042.55 L985.39,1042.55 L985.55,1042.55 L985.71,1042.55 L985.87,1042.55 L986.04,1042.55 L986.20,1042.55 L986.36,1042.55 L986.52,1042.55 L986.68,1042.55 L986.84,1042.55 L987.00,1042.55 L987.17,1042.55 L987.33,1042.55 L987.49,1042.55 L987.65,1042.55 L987.81,1042.55 L987.97,1042.55 L988.13,1042.55 L988.30,1042.55 L988.46,1042.55 L988.62,1042.55 L988.78,1042.55 L988.94,1042.55 L989.10,1042.55 L989.26,1042.55 L989.43,1042.55 L989.59,1042.55 L989.75,1042.55 L989.91,1042.55 L990.07,1042.55 L990.23,1042.55 L990.39,1042.55 L990.56,1042.55 L990.72,1042.55 L990.88,1042.55 L991.04,1042.55 L991.20,1042.55 L991.36,1042.55 L991.52,1042.55 L991.69,1042.55 L991.85,1042.55 L992.01,1042.55 L992.17,1042.55 L992.33,1042.55 L992.33,1042.55 M1001.03,1042.55 L1001.05,1042.55 L1001.21,1042.55 L1001.37,1042.55 L1001.53,1042.55 L1001.69,1042.55 L1001.85,1042.55 L1002.02,1042.55 L1002.18,1042.55 L1002.34,1042.55 L1002.50,1042.55 L1002.66,1042.55 L1002.82,1042.55 L1002.98,1042.55 L1003.15,1042.55 L1003.31,1042.55 L1003.47,1042.55 L1003.63,1042.55 L1003.79,1042.55 L1003.95,1042.55 L1004.11,1042.55 L1004.28,1042.55 L1004.44,1042.55 L1004.60,1042.55 L1004.76,1042.55 L1004.92,1042.55 L1005.08,1042.55 L1005.24,1042.55 L1005.41,1042.55 L1005.57,1042.55 L1005.73,1042.55 L1005.89,1042.55 L1006.05,1042.55 L1006.21,1042.55 L1006.37,1042.55 L1006.54,1042.55 L1006.70,1042.55 L1006.86,1042.55 L1007.02,1042.55 L1007.18,1042.55 L1007.34,1042.55 L1007.50,1042.55 L1007.67,1042.55 L1007.83,1042.55 L1007.99,1042.55 L1008.15,1042.55 L1008.31,1042.55 L1008.47,1042.55 L1008.63,1042.55 L1008.80,1042.55 L1008.96,1042.55 L1009.12,1042.55 L1009.28,1042.55 L1009.44,1042.55 L1009.60,1042.55 L1009.76,1042.55 L1009.93,1042.55 L1010.09,1042.55 L1010.25,1042.55 L1010.41,1042.55 L1010.57,1042.55 L1010.73,1042.55 L1010.89,1042.55 L1011.06,1042.55 L1011.22,1042.55 L1011.38,1042.55 L1011.54,1042.55 L1011.70,1042.55 L1011.86,1042.55 L1012.02,1042.55 L1012.19,1042.55 L1012.35,1042.55 L1012.51,1042.55 L1012.67,1042.55 L1012.83,1042.55 L1012.99,1042.55 L1013.15,1042.55 L1013.32,1042.55 L1013.48,1042.55 L1013.64,1042.55 L1013.80,1042.55 L1013.96,1042.55 L1014.03,1042.55 M1022.73,1042.55 L1022.84,1042.55 L1023.00,1042.55 L1023.16,1042.55 L1023.32,1042.55 L1023.48,1042.55 L1023.65,1042.55 L1023.81,1042.55 L1023.97,1042.55 L1024.13,1042.55 L1024.29,1042.55 L1024.45,1042.55 L1024.61,1042.55 L1024.78,1042.55 L1024.94,1042.55 L1025.10,1042.55 L1025.26,1042.55 L1025.42,1042.55 L1025.58,1042.55 L1025.74,1042.55 L1025.91,1042.55 L1026.07,1042.55 L1026.23,1042.55 L1026.39,1042.55 L1026.55,1042.55 L1026.71,1042.55 L1026.87,1042.55 L1027.04,1042.55 L1027.20,1042.55 L1027.36,1042.55 L1027.52,1042.55 L1027.68,1042.55 L1027.84,1042.55 L1028.00,1042.55 L1028.17,1042.55 L1028.33,1042.55 L1028.49,1042.55 L1028.65,1042.55 L1028.81,1042.55 L1028.97,1042.55 L1029.13,1042.55 L1029.30,1042.55 L1029.46,1042.55 L1029.62,1042.55 L1029.78,1042.55 L1029.94,1042.55 L1030.10,1042.55 L1030.26,1042.55 L1030.43,1042.55 L1030.59,1042.55 L1030.75,1042.55 L1030.91,1042.55 L1031.07,1042.55 L1031.23,1042.55 L1031.39,1042.55 L1031.56,1042.55 L1031.72,1042.55 L1031.88,1042.55 L1032.04,1042.55 L1032.20,1042.55 L1032.36,1042.55 L1032.52,1042.55 L1032.69,1042.55 L1032.85,1042.55 L1033.01,1042.55 L1033.17,1042.55 L1033.33,1042.55 L1033.49,1042.55 L1033.65,1042.55 L1033.82,1042.55 L1033.98,1042.55 L1034.14,1042.55 L1034.30,1042.55 L1034.46,1042.55 L1034.62,1042.55 L1034.78,1042.55 L1034.95,1042.55 L1035.11,1042.55 L1035.27,1042.55 L1035.43,1042.55 L1035.59,1042.55 L1035.73,1042.55 M1044.43,1042.55 L1044.47,1042.55 L1044.63,1042.55 L1044.79,1042.55 L1044.95,1042.55 L1045.12,1042.55 L1045.28,1042.55 L1045.44,1042.55 L1045.60,1042.55 L1045.76,1042.55 L1045.92,1042.55 L1046.08,1042.55 L1046.25,1042.55 L1046.41,1042.55 L1046.57,1042.55 L1046.73,1042.55 L1046.89,1042.55 L1047.05,1042.55 L1047.21,1042.55 L1047.37,1042.55 L1047.54,1042.55 L1047.70,1042.55 L1047.86,1042.55 L1048.02,1042.55 L1048.18,1042.55 L1048.34,1042.55 L1048.50,1042.55 L1048.67,1042.55 L1048.83,1042.55 L1048.99,1042.55 L1049.15,1042.55 L1049.31,1042.55 L1049.47,1042.55 L1049.63,1042.55 L1049.80,1042.55 L1049.96,1042.55 L1050.12,1042.55 L1050.28,1042.55 L1050.44,1042.55 L1050.60,1042.55 L1050.76,1042.55 L1050.93,1042.55 L1051.09,1042.55 L1051.25,1042.55 L1051.41,1042.55 L1051.57,1042.55 L1051.73,1042.55 L1051.89,1042.55 L1052.06,1042.55 L1052.22,1042.55 L1052.38,1042.55 L1052.54,1042.55 L1052.70,1042.55 L1052.86,1042.55 L1053.02,1042.55 L1053.19,1042.55 L1053.35,1042.55 L1053.51,1042.55 L1053.67,1042.55 L1053.83,1042.55 L1053.99,1042.55 L1054.15,1042.55 L1054.32,1042.55 L1054.48,1042.55 L1054.64,1042.55 L1054.80,1042.55 L1054.96,1042.55 L1055.12,1042.55 L1055.28,1042.55 L1055.45,1042.55 L1055.61,1042.55 L1055.77,1042.55 L1055.93,1042.55 L1056.09,1042.55 L1056.25,1042.55 L1056.41,1042.55 L1056.58,1042.55 L1056.74,1042.55 L1056.90,1042.55 L1057.06,1042.55 L1057.22,1042.55 L1057.38,1042.55 L1057.43,1042.55 M1066.13,1042.55 L1066.26,1042.55 L1066.42,1042.55 L1066.58,1042.55 L1066.75,1042.55 L1066.91,1042.55 L1067.07,1042.55 L1067.23,1042.55 L1067.39,1042.55 L1067.55,1042.55 L1067.71,1042.55 L1067.88,1042.55 L1068.04,1042.55 L1068.20,1042.55 L1068.36,1042.55 L1068.52,1042.55 L1068.68,1042.55 L1068.84,1042.55 L1069.01,1042.55 L1069.17,1042.55 L1069.33,1042.55 L1069.49,1042.55 L1069.65,1042.55 L1069.81,1042.55 L1069.97,1042.55 L1070.14,1042.55 L1070.30,1042.55 L1070.46,1042.55 L1070.62,1042.55 L1070.78,1042.55 L1070.94,1042.55 L1071.10,1042.55 L1071.27,1042.55 L1071.43,1042.55 L1071.59,1042.55 L1071.75,1042.55 L1071.91,1042.55 L1072.07,1042.55 L1072.23,1042.55 L1072.39,1042.55 L1072.56,1042.55 L1072.72,1042.55 L1072.88,1042.55 L1073.04,1042.55 L1073.20,1042.55 L1073.36,1042.55 L1073.52,1042.55 L1073.69,1042.55 L1073.85,1042.55 L1074.01,1042.55 L1074.17,1042.55 L1074.33,1042.55 L1074.49,1042.55 L1074.65,1042.55 L1074.82,1042.55 L1074.98,1042.55 L1075.14,1042.55 L1075.30,1042.55 L1075.46,1042.55 L1075.62,1042.55 L1075.78,1042.55 L1075.95,1042.55 L1076.11,1042.55 L1076.27,1042.55 L1076.43,1042.55 L1076.59,1042.55 L1076.75,1042.55 L1076.91,1042.55 L1077.08,1042.55 L1077.24,1042.55 L1077.40,1042.55 L1077.56,1042.55 L1077.72,1042.55 L1077.88,1042.55 L1078.04,1042.55 L1078.21,1042.55 L1078.37,1042.55 L1078.53,1042.55 L1078.69,1042.55 L1078.85,1042.55 L1079.01,1042.55 L1079.13,1042.55 M1087.83,1042.55 L1087.89,1042.55 L1088.05,1042.55 L1088.21,1042.55 L1088.38,1042.55 L1088.54,1042.55 L1088.70,1042.55 L1088.86,1042.55 L1089.02,1042.55 L1089.18,1042.55 L1089.34,1042.55 L1089.51,1042.55 L1089.67,1042.55 L1089.83,1042.55 L1089.99,1042.55 L1090.15,1042.55 L1090.31,1042.55 L1090.47,1042.55 L1090.64,1042.55 L1090.80,1042.55 L1090.96,1042.55 L1091.12,1042.55 L1091.28,1042.55 L1091.44,1042.55 L1091.60,1042.55 L1091.77,1042.55 L1091.93,1042.55 L1092.09,1042.55 L1092.25,1042.55 L1092.41,1042.55 L1092.57,1042.55 L1092.73,1042.55 L1092.90,1042.55 L1093.06,1042.55 L1093.22,1042.55 L1093.38,1042.55 L1093.54,1042.55 L1093.70,1042.55 L1093.86,1042.55 L1094.03,1042.55 L1094.19,1042.55 L1094.35,1042.55 L1094.51,1042.55 L1094.67,1042.55 L1094.83,1042.55 L1094.99,1042.55 L1095.16,1042.55 L1095.32,1042.55 L1095.48,1042.55 L1095.64,1042.55 L1095.80,1042.55 L1095.96,1042.55 L1096.12,1042.55 L1096.29,1042.55 L1096.45,1042.55 L1096.61,1042.55 L1096.77,1042.55 L1096.93,1042.55 L1097.09,1042.55 L1097.25,1042.55 L1097.41,1042.55 L1097.58,1042.55 L1097.74,1042.55 L1097.90,1042.55 L1098.06,1042.55 L1098.22,1042.55 L1098.38,1042.55 L1098.54,1042.55 L1098.71,1042.55 L1098.87,1042.55 L1099.03,1042.55 L1099.19,1042.55 L1099.35,1042.55 L1099.51,1042.55 L1099.67,1042.55 L1099.84,1042.55 L1100.00,1042.55 L1100.16,1042.55 L1100.32,1042.55 L1100.48,1042.55 L1100.64,1042.55 L1100.80,1042.55 L1100.83,1042.55 M1109.53,1042.55 L1109.68,1042.55 L1109.84,1042.55 L1110.01,1042.55 L1110.17,1042.55 L1110.33,1042.55 L1110.49,1042.55 L1110.65,1042.55 L1110.81,1042.55 L1110.97,1042.55 L1111.14,1042.55 L1111.30,1042.55 L1111.46,1042.55 L1111.62,1042.55 L1111.78,1042.55 L1111.94,1042.55 L1112.10,1042.55 L1112.27,1042.55 L1112.43,1042.55 L1112.59,1042.55 L1112.75,1042.55 L1112.91,1042.55 L1113.07,1042.55 L1113.23,1042.55 L1113.40,1042.55 L1113.56,1042.55 L1113.72,1042.55 L1113.88,1042.55 L1114.04,1042.55 L1114.20,1042.55 L1114.36,1042.55 L1114.53,1042.55 L1114.69,1042.55 L1114.85,1042.55 L1115.01,1042.55 L1115.17,1042.55 L1115.33,1042.55 L1115.49,1042.55 L1115.66,1042.55 L1115.82,1042.55 L1115.98,1042.55 L1116.14,1042.55 L1116.30,1042.55 L1116.46,1042.55 L1116.62,1042.55 L1116.79,1042.55 L1116.95,1042.55 L1117.11,1042.55 L1117.27,1042.55 L1117.43,1042.55 L1117.59,1042.55 L1117.75,1042.55 L1117.92,1042.55 L1118.08,1042.55 L1118.24,1042.55 L1118.40,1042.55 L1118.56,1042.55 L1118.72,1042.55 L1118.88,1042.55 L1119.05,1042.55 L1119.21,1042.55 L1119.37,1042.55 L1119.53,1042.55 L1119.69,1042.55 L1119.85,1042.55 L1120.01,1042.55 L1120.18,1042.55 L1120.34,1042.55 L1120.50,1042.55 L1120.66,1042.55 L1120.82,1042.55 L1120.98,1042.55 L1121.14,1042.55 L1121.31,1042.55 L1121.47,1042.55 L1121.63,1042.55 L1121.79,1042.55 L1121.95,1042.55 L1122.11,1042.55 L1122.27,1042.55 L1122.43,1042.55 L1122.53,1042.55 M1131.23,1042.55 L1131.31,1042.55 L1131.47,1042.55 L1131.64,1042.55 L1131.80,1042.55 L1131.96,1042.55 L1132.12,1042.55 L1132.28,1042.55 L1132.44,1042.55 L1132.60,1042.55 L1132.77,1042.55 L1132.93,1042.55 L1133.09,1042.55 L1133.25,1042.55 L1133.41,1042.55 L1133.57,1042.55 L1133.73,1042.55 L1133.90,1042.55 L1134.06,1042.55 L1134.22,1042.55 L1134.38,1042.55 L1134.54,1042.55 L1134.70,1042.55 L1134.86,1042.55 L1135.03,1042.55 L1135.19,1042.55 L1135.35,1042.55 L1135.51,1042.55 L1135.67,1042.55 L1135.83,1042.55 L1135.99,1042.55 L1136.16,1042.55 L1136.32,1042.55 L1136.48,1042.55 L1136.64,1042.55 L1136.80,1042.55 L1136.96,1042.55 L1137.12,1042.55 L1137.29,1042.55 L1137.45,1042.55 L1137.61,1042.55 L1137.77,1042.55 L1137.93,1042.55 L1138.09,1042.55 L1138.25,1042.55 L1138.42,1042.55 L1138.58,1042.55 L1138.74,1042.55 L1138.90,1042.55 L1139.06,1042.55 L1139.22,1042.55 L1139.38,1042.55 L1139.55,1042.55 L1139.71,1042.55 L1139.87,1042.55 L1140.03,1042.55 L1140.19,1042.55 L1140.35,1042.55 L1140.51,1042.55 L1140.68,1042.55 L1140.84,1042.55 L1141.00,1042.55 L1141.16,1042.55 L1141.32,1042.55 L1141.48,1042.55 L1141.64,1042.55 L1141.81,1042.55 L1141.97,1042.55 L1142.13,1042.55 L1142.29,1042.55 L1142.45,1042.55 L1142.61,1042.55 L1142.77,1042.55 L1142.94,1042.55 L1143.10,1042.55 L1143.26,1042.55 L1143.42,1042.55 L1143.58,1042.55 L1143.74,1042.55 L1143.90,1042.55 L1144.07,1042.55 L1144.23,1042.55 L1144.23,1042.55 M1152.93,1042.55 L1152.94,1042.55 L1153.10,1042.55 L1153.27,1042.55 L1153.43,1042.55 L1153.59,1042.55 L1153.75,1042.55 L1153.91,1042.55 L1154.07,1042.55 L1154.23,1042.55 L1154.40,1042.55 L1154.56,1042.55 L1154.72,1042.55 L1154.88,1042.55 L1155.04,1042.55 L1155.20,1042.55 L1155.36,1042.55 L1155.53,1042.55 L1155.69,1042.55 L1155.85,1042.55 L1156.01,1042.55 L1156.17,1042.55 L1156.33,1042.55 L1156.49,1042.55 L1156.66,1042.55 L1156.82,1042.55 L1156.98,1042.55 L1157.14,1042.55 L1157.30,1042.55 L1157.46,1042.55 L1157.62,1042.55 L1157.79,1042.55 L1157.95,1042.55 L1158.11,1042.55 L1158.27,1042.55 L1158.43,1042.55 L1158.59,1042.55 L1158.75,1042.55 L1158.92,1042.55 L1159.08,1042.55 L1159.24,1042.55 L1159.40,1042.55 L1159.56,1042.55 L1159.72,1042.55 L1159.88,1042.55 L1160.05,1042.55 L1160.21,1042.55 L1160.37,1042.55 L1160.53,1042.55 L1160.69,1042.55 L1160.85,1042.55 L1161.01,1042.55 L1161.18,1042.55 L1161.34,1042.55 L1161.50,1042.55 L1161.66,1042.55 L1161.82,1042.55 L1161.98,1042.55 L1162.14,1042.55 L1162.31,1042.55 L1162.47,1042.55 L1162.63,1042.55 L1162.79,1042.55 L1162.95,1042.55 L1163.11,1042.55 L1163.27,1042.55 L1163.44,1042.55 L1163.60,1042.55 L1163.76,1042.55 L1163.92,1042.55 L1164.08,1042.55 L1164.24,1042.55 L1164.40,1042.55 L1164.57,1042.55 L1164.73,1042.55 L1164.89,1042.55 L1165.05,1042.55 L1165.21,1042.55 L1165.37,1042.55 L1165.53,1042.55 L1165.70,1042.55 L1165.86,1042.55 L1165.93,1042.55 M1174.63,1042.55 L1174.73,1042.55 L1174.90,1042.55 L1175.06,1042.55 L1175.22,1042.55 L1175.38,1042.55 L1175.54,1042.55 L1175.70,1042.55 L1175.86,1042.55 L1176.03,1042.55 L1176.19,1042.55 L1176.35,1042.55 L1176.51,1042.55 L1176.67,1042.55 L1176.83,1042.55 L1176.99,1042.55 L1177.16,1042.55 L1177.32,1042.55 L1177.48,1042.55 L1177.64,1042.55 L1177.80,1042.55 L1177.96,1042.55 L1178.12,1042.55 L1178.29,1042.55 L1178.45,1042.55 L1178.61,1042.55 L1178.77,1042.55 L1178.93,1042.55 L1179.09,1042.55 L1179.25,1042.55 L1179.42,1042.55 L1179.58,1042.55 L1179.74,1042.55 L1179.90,1042.55 L1180.06,1042.55 L1180.22,1042.55 L1180.38,1042.55 L1180.55,1042.55 L1180.71,1042.55 L1180.87,1042.55 L1181.03,1042.55 L1181.19,1042.55 L1181.35,1042.55 L1181.51,1042.55 L1181.68,1042.55 L1181.84,1042.55 L1182.00,1042.55 L1182.16,1042.55 L1182.32,1042.55 L1182.48,1042.55 L1182.64,1042.55 L1182.81,1042.55 L1182.97,1042.55 L1183.13,1042.55 L1183.29,1042.55 L1183.45,1042.55 L1183.61,1042.55 L1183.77,1042.55 L1183.94,1042.55 L1184.10,1042.55 L1184.26,1042.55 L1184.42,1042.55 L1184.58,1042.55 L1184.74,1042.55 L1184.90,1042.55 L1185.07,1042.55 L1185.23,1042.55 L1185.39,1042.55 L1185.55,1042.55 L1185.71,1042.55 L1185.87,1042.55 L1186.03,1042.55 L1186.20,1042.55 L1186.36,1042.55 L1186.52,1042.55 L1186.68,1042.55 L1186.84,1042.55 L1187.00,1042.55 L1187.16,1042.55 L1187.33,1042.55 L1187.49,1042.55 L1187.63,1042.55 M1196.33,1042.55 L1196.37,1042.55 L1196.53,1042.55 L1196.69,1042.55 L1196.85,1042.55 L1197.01,1042.55 L1197.17,1042.55 L1197.33,1042.55 L1197.50,1042.55 L1197.66,1042.55 L1197.82,1042.55 L1197.98,1042.55 L1198.14,1042.55 L1198.30,1042.55 L1198.46,1042.55 L1198.62,1042.55 L1198.79,1042.55 L1198.95,1042.55 L1199.11,1042.55 L1199.27,1042.55 L1199.43,1042.55 L1199.59,1042.55 L1199.75,1042.55 L1199.92,1042.55 L1200.08,1042.55 L1200.24,1042.55 L1200.40,1042.55 L1200.56,1042.55 L1200.72,1042.55 L1200.88,1042.55 L1201.05,1042.55 L1201.21,1042.55 L1201.37,1042.55 L1201.53,1042.55 L1201.69,1042.55 L1201.85,1042.55 L1202.01,1042.55 L1202.18,1042.55 L1202.34,1042.55 L1202.50,1042.55 L1202.66,1042.55 L1202.82,1042.55 L1202.98,1042.55 L1203.14,1042.55 L1203.31,1042.55 L1203.47,1042.55 L1203.63,1042.55 L1203.79,1042.55 L1203.95,1042.55 L1204.11,1042.55 L1204.27,1042.55 L1204.44,1042.55 L1204.60,1042.55 L1204.76,1042.55 L1204.92,1042.55 L1205.08,1042.55 L1205.24,1042.55 L1205.40,1042.55 L1205.57,1042.55 L1205.73,1042.55 L1205.89,1042.55 L1206.05,1042.55 L1206.21,1042.55 L1206.37,1042.55 L1206.53,1042.55 L1206.70,1042.55 L1206.86,1042.55 L1207.02,1042.55 L1207.18,1042.55 L1207.34,1042.55 L1207.50,1042.55 L1207.66,1042.55 L1207.83,1042.55 L1207.99,1042.55 L1208.15,1042.55 L1208.31,1042.55 L1208.47,1042.55 L1208.63,1042.55 L1208.79,1042.55 L1208.96,1042.55 L1209.12,1042.55 L1209.28,1042.55 L1209.33,1042.55 M1218.03,1042.55 L1218.16,1042.55 L1218.32,1042.55 L1218.48,1042.55 L1218.64,1042.55 L1218.80,1042.55 L1218.96,1042.55 L1219.13,1042.55 L1219.29,1042.55 L1219.45,1042.55 L1219.61,1042.55 L1219.77,1042.55 L1219.93,1042.55 L1220.09,1042.55 L1220.26,1042.55 L1220.42,1042.55 L1220.58,1042.55 L1220.74,1042.55 L1220.90,1042.55 L1221.06,1042.55 L1221.22,1042.55 L1221.39,1042.55 L1221.55,1042.55 L1221.71,1042.55 L1221.87,1042.55 L1222.03,1042.55 L1222.19,1042.55 L1222.35,1042.55 L1222.52,1042.55 L1222.68,1042.55 L1222.84,1042.55 L1223.00,1042.55 L1223.16,1042.55 L1223.32,1042.55 L1223.48,1042.55 L1223.64,1042.55 L1223.81,1042.55 L1223.97,1042.55 L1224.13,1042.55 L1224.29,1042.55 L1224.45,1042.55 L1224.61,1042.55 L1224.77,1042.55 L1224.94,1042.55 L1225.10,1042.55 L1225.26,1042.55 L1225.42,1042.55 L1225.58,1042.55 L1225.74,1042.55 L1225.90,1042.55 L1226.07,1042.55 L1226.23,1042.55 L1226.39,1042.55 L1226.55,1042.55 L1226.71,1042.55 L1226.87,1042.55 L1227.03,1042.55 L1227.20,1042.55 L1227.36,1042.55 L1227.52,1042.55 L1227.68,1042.55 L1227.84,1042.55 L1228.00,1042.55 L1228.16,1042.55 L1228.33,1042.55 L1228.49,1042.55 L1228.65,1042.55 L1228.81,1042.55 L1228.97,1042.55 L1229.13,1042.55 L1229.29,1042.55 L1229.46,1042.55 L1229.62,1042.55 L1229.78,1042.55 L1229.94,1042.55 L1230.10,1042.55 L1230.26,1042.55 L1230.42,1042.55 L1230.59,1042.55 L1230.75,1042.55 L1230.91,1042.55 L1231.03,1042.55 M1239.73,1042.55 L1239.79,1042.55 L1239.95,1042.55 L1240.11,1042.55 L1240.27,1042.55 L1240.43,1042.55 L1240.59,1042.55 L1240.76,1042.55 L1240.92,1042.55 L1241.08,1042.55 L1241.24,1042.55 L1241.40,1042.55 L1241.56,1042.55 L1241.72,1042.55 L1241.89,1042.55 L1242.05,1042.55 L1242.21,1042.55 L1242.37,1042.55 L1242.53,1042.55 L1242.69,1042.55 L1242.85,1042.55 L1243.02,1042.55 L1243.18,1042.55 L1243.34,1042.55 L1243.50,1042.55 L1243.66,1042.55 L1243.82,1042.55 L1243.98,1042.55 L1244.15,1042.55 L1244.31,1042.55 L1244.47,1042.55 L1244.63,1042.55 L1244.79,1042.55 L1244.95,1042.55 L1245.11,1042.55 L1245.28,1042.55 L1245.44,1042.55 L1245.60,1042.55 L1245.76,1042.55 L1245.92,1042.55 L1246.08,1042.55 L1246.24,1042.55 L1246.41,1042.55 L1246.57,1042.55 L1246.73,1042.55 L1246.89,1042.55 L1247.05,1042.55 L1247.21,1042.55 L1247.37,1042.55 L1247.54,1042.55 L1247.70,1042.55 L1247.86,1042.55 L1248.02,1042.55 L1248.18,1042.55 L1248.34,1042.55 L1248.50,1042.55 L1248.66,1042.55 L1248.83,1042.55 L1248.99,1042.55 L1249.15,1042.55 L1249.31,1042.55 L1249.47,1042.55 L1249.63,1042.55 L1249.79,1042.55 L1249.96,1042.55 L1250.12,1042.55 L1250.28,1042.55 L1250.44,1042.55 L1250.60,1042.55 L1250.76,1042.55 L1250.92,1042.55 L1251.09,1042.55 L1251.25,1042.55 L1251.41,1042.55 L1251.57,1042.55 L1251.73,1042.55 L1251.89,1042.55 L1252.05,1042.55 L1252.22,1042.55 L1252.38,1042.55 L1252.54,1042.55 L1252.70,1042.55 L1252.73,1042.55 M1261.43,1042.55 L1261.58,1042.55 L1261.74,1042.55 L1261.90,1042.55 L1262.06,1042.55 L1262.22,1042.55 L1262.39,1042.55 L1262.55,1042.55 L1262.71,1042.55 L1262.87,1042.55 L1263.03,1042.55 L1263.19,1042.55 L1263.35,1042.55 L1263.52,1042.55 L1263.68,1042.55 L1263.84,1042.55 L1264.00,1042.55 L1264.16,1042.55 L1264.32,1042.55 L1264.48,1042.55 L1264.50,1032.60 M1264.52,1023.90 L1264.54,1010.90 M1264.56,1002.20 L1264.58,989.20 M1264.60,980.50 L1264.62,967.50 M1264.64,958.80 L1264.65,955.43 L1264.81,951.85 L1264.97,948.29 L1265.08,945.81 M1265.48,937.12 L1265.61,934.10 L1265.78,930.55 L1265.94,926.99 L1266.07,924.13 M1266.45,915.44 L1266.58,912.55 L1266.74,908.88 L1266.91,905.17 L1267.02,902.46 M1267.38,893.76 L1267.39,893.56 L1267.55,889.50 L1267.71,885.38 L1267.87,881.21 L1267.89,880.77 M1268.22,872.08 L1268.36,868.62 L1268.52,864.46 L1268.68,860.35 L1268.73,859.09 M1269.09,850.40 L1269.17,848.52 L1269.33,844.81 L1269.49,841.24 L1269.65,837.85 L1269.67,837.41 M1270.11,828.72 L1270.13,828.19 L1270.30,824.95 L1270.46,821.72 L1270.62,818.52 L1270.76,815.74 M1271.23,807.05 L1271.26,806.43 L1271.43,803.69 L1271.59,801.11 L1271.75,798.69 L1271.91,796.48 L1272.07,794.47 L1272.11,794.08 M1273.23,785.45 L1273.36,784.64 L1273.52,783.75 L1273.68,782.94 L1273.85,782.23 L1274.01,781.64 L1274.17,781.17 L1274.33,780.84 L1274.49,780.67 L1274.65,780.66 L1274.81,780.82 L1274.98,781.14 L1275.14,781.59 L1275.30,782.18 L1275.46,782.88 L1275.62,783.68 L1275.78,784.57 L1275.94,785.54 L1276.11,786.56 L1276.27,787.63 L1276.36,788.25 M1277.28,796.90 L1277.40,798.46 L1277.56,800.83 L1277.72,803.39 L1277.88,806.10 L1278.04,808.94 L1278.09,809.87 M1278.55,818.56 L1278.69,821.32 L1278.85,824.56 L1279.01,827.83 L1279.17,831.11 L1279.20,831.55 M1279.62,840.24 L1279.66,841.06 L1279.82,844.66 L1279.98,848.40 L1280.14,852.28 L1280.18,853.22 M1280.52,861.92 L1280.63,864.57 L1280.79,868.85 L1280.95,873.18 L1281.01,874.91 M1281.33,883.60 L1281.43,886.42 L1281.59,890.86 L1281.76,895.29 L1281.80,896.59 M1282.12,905.29 L1282.24,908.57 L1282.40,913.22 L1282.56,918.01 L1282.57,918.28 M1282.86,926.98 L1282.89,927.85 L1283.05,932.86 L1283.21,937.89 L1283.28,939.97 M1283.56,948.66 L1283.69,952.79 L1283.85,957.60 L1283.99,961.66 M1284.31,970.35 L1284.34,971.17 L1284.50,975.31 L1284.66,979.21 L1284.82,982.85 L1284.85,983.34 M1285.26,992.03 L1285.31,992.99 L1285.47,996.19 L1285.63,999.30 L1285.79,1002.29 L1285.94,1005.01 M1286.47,1013.70 L1286.60,1015.57 L1286.76,1017.86 L1286.92,1020.02 L1287.08,1022.19 L1287.24,1024.38 L1287.41,1026.56 L1287.41,1026.66 M1288.13,1035.33 L1288.21,1036.15 L1288.37,1037.60 L1288.54,1038.82 L1288.70,1039.79 L1288.86,1040.46 L1289.02,1040.90 L1289.18,1041.31 L1289.34,1041.69 L1289.50,1042.05 L1289.67,1042.38 L1289.83,1042.55 L1289.99,1042.55 L1290.15,1042.55 L1290.31,1042.55 L1290.47,1042.55 L1290.63,1042.55 L1290.80,1042.55 L1290.96,1042.55 L1291.12,1042.55 L1291.28,1042.55 L1291.44,1042.55 L1291.60,1042.55 L1291.76,1042.55 L1291.93,1042.25 L1292.09,1041.79 L1292.25,1041.28 L1292.41,1040.75 L1292.57,1040.19 L1292.73,1039.62 L1292.86,1039.17 M1294.89,1030.72 L1294.99,1030.17 L1295.15,1029.33 L1295.32,1028.47 L1295.48,1027.62 L1295.64,1026.75 L1295.80,1025.89 L1295.96,1025.02 L1296.12,1024.17 L1296.28,1023.32 L1296.45,1022.48 L1296.61,1021.65 L1296.77,1020.81 L1296.93,1019.95 L1297.09,1019.09 L1297.25,1018.23 L1297.30,1017.94 M1298.85,1009.38 L1298.87,1009.32 L1299.03,1008.42 L1299.19,1007.53 L1299.35,1006.65 L1299.51,1005.77 L1299.67,1004.86 L1299.83,1003.91 L1300.00,1002.93 L1300.16,1001.92 L1300.32,1000.88 L1300.48,999.83 L1300.64,998.76 L1300.80,997.70 L1300.96,996.63 L1300.98,996.56 M1302.48,987.99 L1302.58,987.59 L1302.74,986.99 L1302.90,986.47 L1303.06,986.03 L1303.22,985.69 L1303.39,985.40 L1303.55,985.11 L1303.71,984.83 L1303.87,984.56 L1304.03,984.30 L1304.19,984.05 L1304.35,983.82 L1304.52,983.60 L1304.68,983.40 L1304.84,983.21 L1305.00,983.05 L1305.16,982.90 L1305.32,982.78 L1305.48,982.68 L1305.65,982.60 L1305.81,982.56 L1305.97,982.54 L1306.13,982.57 L1306.29,982.68 L1306.45,982.86 L1306.61,983.11 L1306.78,983.43 L1306.94,983.81 L1307.10,984.25 L1307.26,984.74 L1307.42,985.29 L1307.58,985.88 L1307.74,986.52 L1307.91,987.20 L1308.07,987.92 L1308.14,988.24 M1309.78,996.78 L1309.84,997.12 L1310.00,997.98 L1310.17,998.82 L1310.33,999.65 L1310.49,1000.47 L1310.65,1001.26 L1310.81,1002.10 L1310.97,1002.99 L1311.13,1003.91 L1311.30,1004.88 L1311.46,1005.87 L1311.62,1006.89 L1311.78,1007.94 L1311.94,1009.01 L1312.03,1009.58 M1313.30,1018.19 L1313.39,1018.82 L1313.56,1019.86 L1313.72,1020.87 L1313.88,1021.85 L1314.04,1022.80 L1314.20,1023.70 L1314.36,1024.57 L1314.52,1025.39 L1314.69,1026.18 L1314.85,1026.98 L1315.01,1027.77 L1315.17,1028.57 L1315.33,1029.37 L1315.49,1030.16 L1315.65,1030.94 L1315.66,1030.97 M1317.77,1039.40 L1317.91,1039.80 L1318.08,1040.18 L1318.24,1040.53 L1318.40,1040.84 L1318.56,1041.14 L1318.72,1041.45 L1318.88,1041.75 L1319.04,1042.04 L1319.21,1042.33 L1319.37,1042.55 L1319.53,1042.55 L1319.69,1042.55 L1319.85,1042.55 L1320.01,1042.55 L1320.17,1042.55 L1320.34,1042.55 L1320.50,1042.55 L1320.66,1042.55 L1320.82,1042.55 L1320.98,1042.55 L1321.14,1042.55 L1321.30,1042.55 L1321.47,1042.55 L1321.63,1042.55 L1321.79,1042.55 L1321.95,1042.55 L1322.11,1042.55 L1322.27,1042.55 L1322.43,1042.55 L1322.60,1041.90 L1322.76,1040.68 L1322.92,1039.29 L1323.08,1037.75 L1323.23,1036.21 M1323.93,1027.54 L1324.05,1025.94 L1324.21,1023.68 L1324.37,1021.37 L1324.53,1019.02 L1324.69,1016.39 L1324.79,1014.57 M1325.17,1005.88 L1325.18,1005.78 L1325.34,1001.42 L1325.50,996.69 L1325.62,992.89 M1325.88,984.19 L1325.98,980.56 L1326.15,974.61 L1326.24,971.20 M1326.46,962.50 L1326.47,962.04 L1326.63,955.37 L1326.75,949.50 M1326.92,940.80 L1326.95,938.76 L1327.11,929.00 L1327.13,927.81 M1327.27,919.11 L1327.28,918.55 L1327.44,907.61 L1327.46,906.11 M1327.58,897.41 L1327.60,896.42 L1327.76,885.16 L1327.77,884.41 M1327.90,875.71 L1327.92,874.07 L1328.08,863.34 L1328.09,862.71 M1328.23,854.01 L1328.24,853.19 L1328.41,843.51 L1328.45,841.02 M1328.60,832.32 L1328.73,824.48 L1328.82,819.32 M1328.97,810.62 L1329.05,805.73 L1329.19,797.62 M1329.34,788.92 L1329.37,787.13 L1329.54,777.83 L1329.57,775.93 M1329.72,767.23 L1329.86,759.15 L1329.94,754.23 M1330.09,745.53 L1330.18,740.39 L1330.32,732.53 M1330.47,723.83 L1330.50,721.67 L1330.67,712.27 L1330.69,710.84 M1330.84,702.14 L1330.99,693.30 L1331.06,689.14 M1331.20,680.44 L1331.31,673.86 L1331.42,667.44 M1331.56,658.74 L1331.63,654.23 L1331.78,645.74 M1331.92,637.05 L1331.96,634.99 L1332.12,625.67 L1332.15,624.05 M1332.30,615.35 L1332.44,607.19 L1332.53,602.35 M1332.68,593.65 L1332.76,589.14 L1332.92,580.65 M1333.09,571.96 L1333.09,571.92 L1333.25,563.74 L1333.35,558.96 M1333.52,550.26 L1333.57,547.94 L1333.73,540.28 L1333.80,537.26 M1333.99,528.57 L1334.06,525.47 L1334.22,518.33 L1334.28,515.57 M1334.49,506.87 L1334.54,504.62 L1334.70,498.00 L1334.80,493.87 M1335.01,485.18 L1335.02,484.59 L1335.19,478.01 L1335.33,472.18 M1335.57,463.48 L1335.67,460.15 L1335.83,455.23 L1335.99,451.03 L1336.02,450.49 M1336.47,441.80 L1336.48,441.71 L1336.64,439.00 L1336.80,436.15" fill="none" stroke="#4DB2C4" stroke-width="5.1"/>
</g>
<rect x="1265.9" y="428.3" width="74.6" height="620.4" fill="none" stroke="#111" stroke-width="1.3"/>
<path d="M932.8,472.5 L1265.9,428.3 M932.8,681.5 L1265.9,1048.7" stroke="#111" stroke-width="1.3"/>
<text transform="translate(100.65,445.90) scale(0.7373,1)" font-family='"Liberation Serif", serif' font-size="47.00" stroke="#111" stroke-width="1.10">1</text>
<text transform="translate(59.73,567.83) scale(0.9860,1)" font-family='"Liberation Serif", serif' font-size="47.00" stroke="#111" stroke-width="0.50">0.8</text>
<text transform="translate(58.51,691.33) scale(0.9989,1)" font-family='"Liberation Serif", serif' font-size="47.00" stroke="#111" stroke-width="0.50">0.6</text>
<text transform="translate(58.53,812.53) scale(0.9871,1)" font-family='"Liberation Serif", serif' font-size="47.00" stroke="#111" stroke-width="0.50">0.4</text>
<text transform="translate(58.78,935.73) scale(1.0190,1)" font-family='"Liberation Serif", serif' font-size="47.00" stroke="#111" stroke-width="0.50">0.2</text>
<text transform="translate(92.98,1056.14) scale(1.0743,1)" font-family='"Liberation Serif", serif' font-size="47.00" stroke="#111" stroke-width="0.50">0</text>
<text transform="translate(120.21,1087.84) scale(1.1145,1)" font-family='"Liberation Serif", serif' font-size="47.00" stroke="#111" stroke-width="0.50">0</text>
<text transform="translate(340.41,1087.63) scale(1.0025,1)" font-family='"Liberation Serif", serif' font-size="47.00" stroke="#111" stroke-width="0.50">0.2</text>
<text transform="translate(582.23,1087.63) scale(0.9907,1)" font-family='"Liberation Serif", serif' font-size="47.00" stroke="#111" stroke-width="0.50">0.4</text>
<text transform="translate(817.32,1087.63) scale(0.9953,1)" font-family='"Liberation Serif", serif' font-size="47.00" stroke="#111" stroke-width="0.50">0.6</text>
<text transform="translate(1062.97,1087.63) scale(1.0223,1)" font-family='"Liberation Serif", serif' font-size="47.00" stroke="#111" stroke-width="0.50">0.8</text>
<text transform="translate(1326.60,1088.30) scale(0.7494,1)" font-family='"Liberation Serif", serif' font-size="47.00" stroke="#111" stroke-width="1.10">1</text>
<text transform="translate(38.8,738) rotate(-90)" text-anchor="middle" font-family='"Liberation Serif", serif' font-size="46" stroke="#111" stroke-width="0.5">Fidelity</text>
<text transform="translate(730.2,1134) scale(1.06,1)" text-anchor="middle" font-family='"Liberation Serif", serif' font-style="italic" font-size="46" stroke="#111" stroke-width="0.5">t/T</text>
<rect x="506.00" y="472.50" width="426.78" height="209.00" fill="#fff"/>
<path d="M506.00,681.50 V675.50 M506.00,472.50 V478.50 M520.23,681.50 V677.50 M520.23,472.50 V476.50 M534.45,681.50 V677.50 M534.45,472.50 V476.50 M548.68,681.50 V677.50 M548.68,472.50 V476.50 M562.90,681.50 V677.50 M562.90,472.50 V476.50 M577.13,681.50 V675.50 M577.13,472.50 V478.50 M591.36,681.50 V677.50 M591.36,472.50 V476.50 M605.58,681.50 V677.50 M605.58,472.50 V476.50 M619.81,681.50 V677.50 M619.81,472.50 V476.50 M634.03,681.50 V677.50 M634.03,472.50 V476.50 M648.26,681.50 V675.50 M648.26,472.50 V478.50 M662.49,681.50 V677.50 M662.49,472.50 V476.50 M676.71,681.50 V677.50 M676.71,472.50 V476.50 M690.94,681.50 V677.50 M690.94,472.50 V476.50 M705.16,681.50 V677.50 M705.16,472.50 V476.50 M719.39,681.50 V675.50 M719.39,472.50 V478.50 M733.62,681.50 V677.50 M733.62,472.50 V476.50 M747.84,681.50 V677.50 M747.84,472.50 V476.50 M762.07,681.50 V677.50 M762.07,472.50 V476.50 M776.29,681.50 V677.50 M776.29,472.50 V476.50 M790.52,681.50 V675.50 M790.52,472.50 V478.50 M804.75,681.50 V677.50 M804.75,472.50 V476.50 M818.97,681.50 V677.50 M818.97,472.50 V476.50 M833.20,681.50 V677.50 M833.20,472.50 V476.50 M847.42,681.50 V677.50 M847.42,472.50 V476.50 M861.65,681.50 V675.50 M861.65,472.50 V478.50 M875.88,681.50 V677.50 M875.88,472.50 V476.50 M890.10,681.50 V677.50 M890.10,472.50 V476.50 M904.33,681.50 V677.50 M904.33,472.50 V476.50 M918.55,681.50 V677.50 M918.55,472.50 V476.50 M932.78,681.50 V675.50 M932.78,472.50 V478.50 M506.00,681.50 H512.00 M932.78,681.50 H926.78 M506.00,671.05 H510.00 M932.78,671.05 H928.78 M506.00,660.60 H510.00 M932.78,660.60 H928.78 M506.00,650.15 H510.00 M932.78,650.15 H928.78 M506.00,639.70 H512.00 M932.78,639.70 H926.78 M506.00,629.25 H510.00 M932.78,629.25 H928.78 M506.00,618.80 H510.00 M932.78,618.80 H928.78 M506.00,608.35 H510.00 M932.78,608.35 H928.78 M506.00,597.90 H512.00 M932.78,597.90 H926.78 M506.00,587.45 H510.00 M932.78,587.45 H928.78 M506.00,577.00 H510.00 M932.78,577.00 H928.78 M506.00,566.55 H510.00 M932.78,566.55 H928.78 M506.00,556.10 H512.00 M932.78,556.10 H926.78 M506.00,545.65 H510.00 M932.78,545.65 H928.78 M506.00,535.20 H510.00 M932.78,535.20 H928.78 M506.00,524.75 H510.00 M932.78,524.75 H928.78 M506.00,514.30 H512.00 M932.78,514.30 H926.78 M506.00,503.85 H510.00 M932.78,503.85 H928.78 M506.00,493.40 H510.00 M932.78,493.40 H928.78 M506.00,482.95 H510.00 M932.78,482.95 H928.78 M506.00,472.50 H512.00 M932.78,472.50 H926.78" stroke="#111" stroke-width="3"/>
<rect x="506.00" y="472.50" width="426.78" height="209.00" fill="none" stroke="#111" stroke-width="3.4"/>
<clipPath id="ci"><rect x="506.0" y="469.5" width="426.8" height="215.0"/></clipPath>
<g clip-path="url(#ci)">
<path d="M506.00,629.25 L506.28,629.66 L506.57,630.07 L506.85,630.48 L507.14,630.89 L507.42,631.31 L507.71,631.72 L507.99,632.14 L508.28,632.56 L508.56,632.98 L508.85,633.41 L509.13,633.83 L509.41,634.25 L509.70,634.68 L509.98,635.10 L510.27,635.53 L510.55,635.96 L510.84,636.38 L511.12,636.81 L511.41,637.24 L511.69,637.66 L511.97,638.09 L512.26,638.51 L512.54,638.94 L512.83,639.36 L513.11,639.78 L513.40,640.20 L513.68,640.62 L513.97,641.04 L514.25,641.45 L514.54,641.87 L514.82,642.28 L515.10,642.69 L515.39,643.10 L515.67,643.50 L515.96,643.90 L516.24,644.30 L516.53,644.70 L516.81,645.09 L517.10,645.49 L517.38,645.87 L517.67,646.26 L517.95,646.64 L518.23,647.01 L518.52,647.38 L518.80,647.75 L519.09,648.11 L519.37,648.47 L519.66,648.83 L519.94,649.18 L520.23,649.52 L520.51,649.87 L520.80,650.21 L521.08,650.55 L521.36,650.89 L521.65,651.24 L521.93,651.58 L522.22,651.92 L522.50,652.26 L522.79,652.61 L523.07,652.95 L523.36,653.29 L523.64,653.63 L523.92,653.97 L524.21,654.31 L524.49,654.65 L524.78,654.98 L525.06,655.32 L525.35,655.66 L525.63,655.99 L525.92,656.32 L526.20,656.66 L526.49,656.99 L526.77,657.32 L527.05,657.65 L527.34,657.98 L527.62,658.30 L527.91,658.63 L528.19,658.95 L528.48,659.27 L528.76,659.59 L529.05,659.91 L529.33,660.22 L529.62,660.54 L529.90,660.85 L530.18,661.16 L530.47,661.47 L530.75,661.77 L531.04,662.08 L531.32,662.38 L531.61,662.67 L531.89,662.97 L532.18,663.26 L532.46,663.55 L532.74,663.84 L533.03,664.13 L533.31,664.41 L533.60,664.69 L533.88,664.97 L534.17,665.24 L534.45,665.51 L534.74,665.78 L535.02,666.04 L535.31,666.30 L535.59,666.56 L535.87,666.81 L536.16,667.06 L536.44,667.31 L536.73,667.55 L537.01,667.79 L537.30,668.03 L537.58,668.26 L537.87,668.49 L538.15,668.71 L538.44,668.93 L538.72,669.15 L539.00,669.36 L539.29,669.57 L539.57,669.77 L539.86,669.97 L540.14,670.17 L540.43,670.36 L540.71,670.54 L541.00,670.72 L541.28,670.90 L541.57,671.08 L541.85,671.26 L542.13,671.44 L542.42,671.62 L542.70,671.80 L542.99,671.97 L543.27,672.15 L543.56,672.32 L543.84,672.50 L544.13,672.67 L544.41,672.85 L544.69,673.02 L544.98,673.19 L545.26,673.36 L545.55,673.53 L545.83,673.69 L546.12,673.86 L546.40,674.03 L546.69,674.19 L546.97,674.35 L547.26,674.51 L547.54,674.67 L547.82,674.83 L548.11,674.99 L548.39,675.15 L548.68,675.30 L548.96,675.45 L549.25,675.60 L549.53,675.75 L549.82,675.90 L550.10,676.05 L550.39,676.19 L550.67,676.33 L550.95,676.47 L551.24,676.61 L551.52,676.75 L551.81,676.88 L552.09,677.01 L552.38,677.14 L552.66,677.27 L552.95,677.40 L553.23,677.52 L553.51,677.64 L553.80,677.76 L554.08,677.88 L554.37,677.99 L554.65,678.10 L554.94,678.21 L555.22,678.32 L555.51,678.42 L555.79,678.52 L556.08,678.62 L556.36,678.72 L556.64,678.81 L556.93,678.90 L557.21,678.99 L557.50,679.08 L557.78,679.16 L558.07,679.24 L558.35,679.31 L558.64,679.38 L558.92,679.45 L559.21,679.52 L559.49,679.58 L559.77,679.64 L560.06,679.70 L560.34,679.75 L560.63,679.80 L560.91,679.85 L561.20,679.90 L561.48,679.94 L561.77,679.99 L562.05,680.04 L562.33,680.08 L562.62,680.13 L562.90,680.17 L563.19,680.21 L563.47,680.26 L563.76,680.30 L564.04,680.35 L564.33,680.39 L564.61,680.43 L564.90,680.47 L565.18,680.51 L565.46,680.55 L565.75,680.59 L566.03,680.63 L566.32,680.67 L566.60,680.71 L566.89,680.75 L567.17,680.78 L567.46,680.82 L567.74,680.86 L568.03,680.89 L568.31,680.93 L568.59,680.96 L568.88,680.99 L569.16,681.02 L569.45,681.05 L569.73,681.08 L570.02,681.11 L570.30,681.14 L570.59,681.17 L570.87,681.20 L571.16,681.22 L571.44,681.25 L571.72,681.27 L572.01,681.29 L572.29,681.31 L572.58,681.33 L572.86,681.35 L573.15,681.37 L573.43,681.39 L573.72,681.40 L574.00,681.42 L574.28,681.43 L574.57,681.45 L574.85,681.46 L575.14,681.47 L575.42,681.48 L575.71,681.48 L575.99,681.49 L576.28,681.49 L576.56,681.50 L576.85,681.50 L577.13,681.50 L577.41,681.50 L577.70,681.50 L577.98,681.50 L578.27,681.50 L578.55,681.50 L578.84,681.50 L579.12,681.50 L579.41,681.50 L579.69,681.50 L579.98,681.50 L580.26,681.50 L580.54,681.50 L580.83,681.50 L581.11,681.50 L581.40,681.50 L581.68,681.50 L581.97,681.50 L582.25,681.50 L582.54,681.50 L582.82,681.50 L583.10,681.50 L583.39,681.50 L583.67,681.50 L583.96,681.50 L584.24,681.50 L584.53,681.50 L584.81,681.50 L585.10,681.50 L585.38,681.50 L585.67,681.50 L585.95,681.50 L586.23,681.50 L586.52,681.50 L586.80,681.50 L587.09,681.50 L587.37,681.50 L587.66,681.50 L587.94,681.50 L588.23,681.50 L588.51,681.50 L588.80,681.50 L589.08,681.50 L589.36,681.50 L589.65,681.50 L589.93,681.50 L590.22,681.50 L590.50,681.50 L590.79,681.50 L591.07,681.50 L591.36,681.50 L591.64,681.50 L591.93,681.50 L592.21,681.50 L592.49,681.50 L592.78,681.50 L593.06,681.50 L593.35,681.50 L593.63,681.50 L593.92,681.50 L594.20,681.50 L594.49,681.50 L594.77,681.50 L595.05,681.50 L595.34,681.50 L595.62,681.50 L595.91,681.50 L596.19,681.50 L596.48,681.50 L596.76,681.50 L597.05,681.50 L597.33,681.50 L597.62,681.50 L597.90,681.50 L598.18,681.50 L598.47,681.50 L598.75,681.50 L599.04,681.50 L599.32,681.50 L599.61,681.50 L599.89,681.49 L600.18,681.49 L600.46,681.49 L600.75,681.48 L601.03,681.48 L601.31,681.47 L601.60,681.47 L601.88,681.46 L602.17,681.46 L602.45,681.45 L602.74,681.44 L603.02,681.43 L603.31,681.42 L603.59,681.42 L603.87,681.41 L604.16,681.40 L604.44,681.39 L604.73,681.38 L605.01,681.37 L605.30,681.35 L605.58,681.34 L605.87,681.33 L606.15,681.32 L606.44,681.30 L606.72,681.29 L607.00,681.28 L607.29,681.26 L607.57,681.25 L607.86,681.23 L608.14,681.22 L608.43,681.20 L608.71,681.19 L609.00,681.17 L609.28,681.15 L609.57,681.14 L609.85,681.12 L610.13,681.10 L610.42,681.08 L610.70,681.07 L610.99,681.05 L611.27,681.03 L611.56,681.01 L611.84,680.99 L612.13,680.97 L612.41,680.95 L612.70,680.93 L612.98,680.91 L613.26,680.89 L613.55,680.87 L613.83,680.85 L614.12,680.83 L614.40,680.81 L614.69,680.79 L614.97,680.76 L615.26,680.74 L615.54,680.72 L615.82,680.70 L616.11,680.68 L616.39,680.65 L616.68,680.63 L616.96,680.60 L617.25,680.57 L617.53,680.54 L617.82,680.51 L618.10,680.47 L618.39,680.43 L618.67,680.39 L618.95,680.35 L619.24,680.31 L619.52,680.26 L619.81,680.21 L620.09,680.16 L620.38,680.11 L620.66,680.06 L620.95,680.00 L621.23,679.95 L621.52,679.89 L621.80,679.83 L622.08,679.77 L622.37,679.70 L622.65,679.64 L622.94,679.57 L623.22,679.51 L623.51,679.44 L623.79,679.37 L624.08,679.29 L624.36,679.22 L624.64,679.15 L624.93,679.07 L625.21,678.99 L625.50,678.91 L625.78,678.83 L626.07,678.75 L626.35,678.67 L626.64,678.59 L626.92,678.51 L627.21,678.42 L627.49,678.33 L627.77,678.25 L628.06,678.16 L628.34,678.07 L628.63,677.98 L628.91,677.89 L629.20,677.80 L629.48,677.71 L629.77,677.62 L630.05,677.52 L630.34,677.43 L630.62,677.33 L630.90,677.24 L631.19,677.14 L631.47,677.05 L631.76,676.95 L632.04,676.85 L632.33,676.75 L632.61,676.65 L632.90,676.54 L633.18,676.43 L633.46,676.32 L633.75,676.20 L634.03,676.08 L634.32,675.96 L634.60,675.83 L634.89,675.70 L635.17,675.57 L635.46,675.44 L635.74,675.30 L636.03,675.16 L636.31,675.02 L636.59,674.87 L636.88,674.72 L637.16,674.57 L637.45,674.42 L637.73,674.26 L638.02,674.10 L638.30,673.94 L638.59,673.78 L638.87,673.61 L639.16,673.44 L639.44,673.27 L639.72,673.10 L640.01,672.93 L640.29,672.75 L640.58,672.57 L640.86,672.39 L641.15,672.21 L641.43,672.03 L641.72,671.84 L642.00,671.65 L642.29,671.46 L642.57,671.27 L642.85,671.08 L643.14,670.88 L643.42,670.69 L643.71,670.49 L643.99,670.29 L644.28,670.09 L644.56,669.89 L644.85,669.68 L645.13,669.48 L645.41,669.27 L645.70,669.06 L645.98,668.86 L646.27,668.65 L646.55,668.43 L646.84,668.21 L647.12,667.99 L647.41,667.77 L647.69,667.54 L647.98,667.30 L648.26,667.07 L648.54,666.83 L648.83,666.58 L649.11,666.33 L649.40,666.08 L649.68,665.83 L649.97,665.57 L650.25,665.31 L650.54,665.04 L650.82,664.77 L651.11,664.50 L651.39,664.22 L651.67,663.95 L651.96,663.66 L652.24,663.38 L652.53,663.09 L652.81,662.80 L653.10,662.51 L653.38,662.21 L653.67,661.91 L653.95,661.61 L654.23,661.31 L654.52,661.00 L654.80,660.69 L655.09,660.38 L655.37,660.06 L655.66,659.74 L655.94,659.43 L656.23,659.10 L656.51,658.78 L656.80,658.45 L657.08,658.13 L657.36,657.80 L657.65,657.46 L657.93,657.13 L658.22,656.79 L658.50,656.45 L658.79,656.11 L659.07,655.77 L659.36,655.43 L659.64,655.08 L659.93,654.74 L660.21,654.39 L660.49,654.04 L660.78,653.69 L661.06,653.34 L661.35,652.98 L661.63,652.63 L661.92,652.27 L662.20,651.91 L662.49,651.54 L662.77,651.16 L663.06,650.78 L663.34,650.39 L663.62,649.99 L663.91,649.59 L664.19,649.18 L664.48,648.77 L664.76,648.35 L665.05,647.93 L665.33,647.50 L665.62,647.07 L665.90,646.64 L666.18,646.20 L666.47,645.75 L666.75,645.31 L667.04,644.86 L667.32,644.41 L667.61,643.95 L667.89,643.49 L668.18,643.03 L668.46,642.57 L668.75,642.10 L669.03,641.64 L669.31,641.17 L669.60,640.70 L669.88,640.23 L670.17,639.76 L670.45,639.29 L670.74,638.81 L671.02,638.34 L671.31,637.87 L671.59,637.40 L671.88,636.93 L672.16,636.46 L672.44,635.99 L672.73,635.52 L673.01,635.05 L673.30,634.59 L673.58,634.12 L673.87,633.66 L674.15,633.20 L674.44,632.75 L674.72,632.29 L675.00,631.84 L675.29,631.40 L675.57,630.95 L675.86,630.51 L676.14,630.08 L676.43,629.64 L676.71,629.21 L677.00,628.77 L677.28,628.33 L677.57,627.90 L677.85,627.46 L678.13,627.02 L678.42,626.59 L678.70,626.15 L678.99,625.72 L679.27,625.28 L679.56,624.84 L679.84,624.41 L680.13,623.97 L680.41,623.54 L680.70,623.10 L680.98,622.66 L681.26,622.23 L681.55,621.79 L681.83,621.35 L682.12,620.92 L682.40,620.48 L682.69,620.05 L682.97,619.61 L683.26,619.18 L683.54,618.74 L683.83,618.30 L684.11,617.87 L684.39,617.43 L684.68,617.00 L684.96,616.56 L685.25,616.13 L685.53,615.69 L685.82,615.26 L686.10,614.82 L686.39,614.39 L686.67,613.95 L686.95,613.52 L687.24,613.09 L687.52,612.65 L687.81,612.22 L688.09,611.78 L688.38,611.35 L688.66,610.92 L688.95,610.48 L689.23,610.05 L689.52,609.62 L689.80,609.19 L690.08,608.75 L690.37,608.32 L690.65,607.89 L690.94,607.46 L691.22,607.03 L691.51,606.60 L691.79,606.16 L692.08,605.73 L692.36,605.30 L692.65,604.87 L692.93,604.44 L693.21,604.01 L693.50,603.58 L693.78,603.15 L694.07,602.72 L694.35,602.30 L694.64,601.87 L694.92,601.44 L695.21,601.01 L695.49,600.58 L695.77,600.16 L696.06,599.73 L696.34,599.30 L696.63,598.88 L696.91,598.45 L697.20,598.02 L697.48,597.60 L697.77,597.17 L698.05,596.75 L698.34,596.32 L698.62,595.90 L698.90,595.48 L699.19,595.05 L699.47,594.63 L699.76,594.21 L700.04,593.79 L700.33,593.36 L700.61,592.94 L700.90,592.52 L701.18,592.10 L701.47,591.68 L701.75,591.26 L702.03,590.84 L702.32,590.42 L702.60,590.00 L702.89,589.59 L703.17,589.17 L703.46,588.75 L703.74,588.33 L704.03,587.92 L704.31,587.50 L704.59,587.09 L704.88,586.67 L705.16,586.26 L705.45,585.84 L705.73,585.43 L706.02,585.02 L706.30,584.61 L706.59,584.19 L706.87,583.78 L707.16,583.37 L707.44,582.96 L707.72,582.55 L708.01,582.14 L708.29,581.73 L708.58,581.33 L708.86,580.92 L709.15,580.51 L709.43,580.10 L709.72,579.70 L710.00,579.29 L710.29,578.89 L710.57,578.48 L710.85,578.08 L711.14,577.67 L711.42,577.26 L711.71,576.85 L711.99,576.45 L712.28,576.04 L712.56,575.63 L712.85,575.22 L713.13,574.81 L713.42,574.40 L713.70,573.99 L713.98,573.58 L714.27,573.17 L714.55,572.76 L714.84,572.35 L715.12,571.95 L715.41,571.54 L715.69,571.13 L715.98,570.72 L716.26,570.31 L716.54,569.90 L716.83,569.50 L717.11,569.09 L717.40,568.68 L717.68,568.28 L717.97,567.87 L718.25,567.47 L718.54,567.06 L718.82,566.66 L719.11,566.26 L719.39,565.86 L719.67,565.46 L719.96,565.06 L720.24,564.66 L720.53,564.26 L720.81,563.87 L721.10,563.47 L721.38,563.08 L721.67,562.69 L721.95,562.29 L722.24,561.90 L722.52,561.52 L722.80,561.13 L723.09,560.74 L723.37,560.36 L723.66,559.98 L723.94,559.60 L724.23,559.22 L724.51,558.84 L724.80,558.47 L725.08,558.09 L725.36,557.72 L725.65,557.35 L725.93,556.99 L726.22,556.62 L726.50,556.26 L726.79,555.90 L727.07,555.54 L727.36,555.18 L727.64,554.83 L727.93,554.48 L728.21,554.13 L728.49,553.78 L728.78,553.44 L729.06,553.10 L729.35,552.76 L729.63,552.42 L729.92,552.09 L730.20,551.75 L730.49,551.42 L730.77,551.09 L731.06,550.75 L731.34,550.41 L731.62,550.07 L731.91,549.73 L732.19,549.38 L732.48,549.04 L732.76,548.69 L733.05,548.35 L733.33,548.00 L733.62,547.65 L733.90,547.31 L734.19,546.96 L734.47,546.62 L734.75,546.27 L735.04,545.93 L735.32,545.58 L735.61,545.24 L735.89,544.90 L736.18,544.56 L736.46,544.23 L736.75,543.89 L737.03,543.56 L737.31,543.23 L737.60,542.90 L737.88,542.58 L738.17,542.26 L738.45,541.94 L738.74,541.62 L739.02,541.31 L739.31,541.01 L739.59,540.70 L739.88,540.41 L740.16,540.11 L740.44,539.82 L740.73,539.54 L741.01,539.26 L741.30,538.98 L741.58,538.72 L741.87,538.45 L742.15,538.20 L742.44,537.95 L742.72,537.70 L743.01,537.47 L743.29,537.23 L743.57,537.01 L743.86,536.79 L744.14,536.58 L744.43,536.38 L744.71,536.19 L745.00,536.00 L745.28,535.83 L745.57,535.66 L745.85,535.50 L746.13,535.34 L746.42,535.20 L746.70,535.06 L746.99,534.92 L747.27,534.79 L747.56,534.65 L747.84,534.51 L748.13,534.37 L748.41,534.24 L748.70,534.10 L748.98,533.97 L749.26,533.84 L749.55,533.70 L749.83,533.57 L750.12,533.44 L750.40,533.31 L750.69,533.18 L750.97,533.06 L751.26,532.93 L751.54,532.81 L751.83,532.69 L752.11,532.57 L752.39,532.45 L752.68,532.33 L752.96,532.21 L753.25,532.10 L753.53,531.99 L753.82,531.88 L754.10,531.77 L754.39,531.67 L754.67,531.57 L754.96,531.47 L755.24,531.37 L755.52,531.27 L755.81,531.18 L756.09,531.09 L756.38,531.01 L756.66,530.92 L756.95,530.84 L757.23,530.77 L757.52,530.69 L757.80,530.62 L758.08,530.55 L758.37,530.49 L758.65,530.43 L758.94,530.37 L759.22,530.31 L759.51,530.26 L759.79,530.22 L760.08,530.17 L760.36,530.14 L760.65,530.10 L760.93,530.07 L761.21,530.04 L761.50,530.02 L761.78,530.00 L762.07,529.99 L762.35,529.98 L762.64,529.98 L762.92,529.98 L763.21,529.98 L763.49,529.99 L763.78,530.01 L764.06,530.03 L764.34,530.06 L764.63,530.09 L764.91,530.13 L765.20,530.17 L765.48,530.22 L765.77,530.27 L766.05,530.33 L766.34,530.39 L766.62,530.45 L766.90,530.52 L767.19,530.60 L767.47,530.67 L767.76,530.76 L768.04,530.84 L768.33,530.93 L768.61,531.03 L768.90,531.12 L769.18,531.22 L769.47,531.33 L769.75,531.43 L770.03,531.54 L770.32,531.65 L770.60,531.77 L770.89,531.89 L771.17,532.01 L771.46,532.13 L771.74,532.26 L772.03,532.39 L772.31,532.52 L772.60,532.65 L772.88,532.78 L773.16,532.92 L773.45,533.06 L773.73,533.20 L774.02,533.34 L774.30,533.48 L774.59,533.63 L774.87,533.77 L775.16,533.92 L775.44,534.07 L775.72,534.22 L776.01,534.37 L776.29,534.52 L776.58,534.67 L776.86,534.82 L777.15,534.97 L777.43,535.12 L777.72,535.28 L778.00,535.43 L778.29,535.58 L778.57,535.73 L778.85,535.88 L779.14,536.04 L779.42,536.19 L779.71,536.35 L779.99,536.52 L780.28,536.69 L780.56,536.87 L780.85,537.06 L781.13,537.25 L781.42,537.45 L781.70,537.65 L781.98,537.86 L782.27,538.07 L782.55,538.29 L782.84,538.51 L783.12,538.74 L783.41,538.97 L783.69,539.21 L783.98,539.45 L784.26,539.70 L784.55,539.95 L784.83,540.20 L785.11,540.46 L785.40,540.73 L785.68,540.99 L785.97,541.26 L786.25,541.54 L786.54,541.81 L786.82,542.09 L787.11,542.38 L787.39,542.66 L787.67,542.95 L787.96,543.25 L788.24,543.54 L788.53,543.84 L788.81,544.14 L789.10,544.44 L789.38,544.75 L789.67,545.05 L789.95,545.36 L790.24,545.67 L790.52,545.98 L790.80,546.30 L791.09,546.61 L791.37,546.93 L791.66,547.25 L791.94,547.57 L792.23,547.88 L792.51,548.20 L792.80,548.53 L793.08,548.85 L793.37,549.17 L793.65,549.49 L793.93,549.81 L794.22,550.13 L794.50,550.46 L794.79,550.78 L795.07,551.10 L795.36,551.42 L795.64,551.74 L795.93,552.06 L796.21,552.38 L796.49,552.70 L796.78,553.02 L797.06,553.33 L797.35,553.65 L797.63,553.97 L797.92,554.30 L798.20,554.62 L798.49,554.95 L798.77,555.28 L799.06,555.62 L799.34,555.95 L799.62,556.29 L799.91,556.63 L800.19,556.98 L800.48,557.32 L800.76,557.67 L801.05,558.02 L801.33,558.37 L801.62,558.72 L801.90,559.08 L802.19,559.44 L802.47,559.80 L802.75,560.16 L803.04,560.52 L803.32,560.89 L803.61,561.26 L803.89,561.62 L804.18,561.99 L804.46,562.37 L804.75,562.74 L805.03,563.11 L805.32,563.49 L805.60,563.87 L805.88,564.25 L806.17,564.63 L806.45,565.01 L806.74,565.39 L807.02,565.78 L807.31,566.16 L807.59,566.55 L807.88,566.94 L808.16,567.32 L808.44,567.71 L808.73,568.10 L809.01,568.49 L809.30,568.89 L809.58,569.28 L809.87,569.67 L810.15,570.07 L810.44,570.46 L810.72,570.86 L811.01,571.25 L811.29,571.65 L811.57,572.04 L811.86,572.44 L812.14,572.84 L812.43,573.24 L812.71,573.63 L813.00,574.03 L813.28,574.43 L813.57,574.83 L813.85,575.23 L814.14,575.63 L814.42,576.02 L814.70,576.42 L814.99,576.82 L815.27,577.22 L815.56,577.62 L815.84,578.02 L816.13,578.42 L816.41,578.82 L816.70,579.22 L816.98,579.63 L817.26,580.03 L817.55,580.44 L817.83,580.85 L818.12,581.26 L818.40,581.67 L818.69,582.09 L818.97,582.50 L819.26,582.91 L819.54,583.33 L819.83,583.75 L820.11,584.16 L820.39,584.58 L820.68,585.00 L820.96,585.43 L821.25,585.85 L821.53,586.27 L821.82,586.69 L822.10,587.12 L822.39,587.54 L822.67,587.97 L822.96,588.40 L823.24,588.83 L823.52,589.25 L823.81,589.68 L824.09,590.11 L824.38,590.54 L824.66,590.97 L824.95,591.41 L825.23,591.84 L825.52,592.27 L825.80,592.70 L826.09,593.14 L826.37,593.57 L826.65,594.01 L826.94,594.44 L827.22,594.88 L827.51,595.31 L827.79,595.75 L828.08,596.19 L828.36,596.62 L828.65,597.06 L828.93,597.50 L829.21,597.93 L829.50,598.37 L829.78,598.81 L830.07,599.25 L830.35,599.68 L830.64,600.12 L830.92,600.56 L831.21,601.00 L831.49,601.43 L831.78,601.87 L832.06,602.31 L832.34,602.75 L832.63,603.19 L832.91,603.63 L833.20,604.07 L833.48,604.51 L833.77,604.95 L834.05,605.40 L834.34,605.84 L834.62,606.29 L834.91,606.73 L835.19,607.18 L835.47,607.63 L835.76,608.08 L836.04,608.52 L836.33,608.97 L836.61,609.42 L836.90,609.87 L837.18,610.32 L837.47,610.77 L837.75,611.22 L838.03,611.68 L838.32,612.13 L838.60,612.58 L838.89,613.03 L839.17,613.48 L839.46,613.94 L839.74,614.39 L840.03,614.84 L840.31,615.30 L840.60,615.75 L840.88,616.21 L841.16,616.66 L841.45,617.11 L841.73,617.57 L842.02,618.02 L842.30,618.48 L842.59,618.93 L842.87,619.38 L843.16,619.84 L843.44,620.29 L843.73,620.74 L844.01,621.20 L844.29,621.65 L844.58,622.10 L844.86,622.56 L845.15,623.01 L845.43,623.46 L845.72,623.91 L846.00,624.36 L846.29,624.81 L846.57,625.26 L846.85,625.23 L847.14,624.70 L847.42,624.18 L847.71,623.66 L847.99,623.13 L848.28,622.61 L848.56,622.09 L848.85,621.57 L849.13,621.05 L849.42,620.54 L849.70,620.02 L849.98,619.50 L850.27,618.98 L850.55,618.47 L850.84,617.95 L851.12,617.43 L851.41,616.92 L851.69,616.40 L851.98,615.89 L852.26,615.37 L852.55,614.85 L852.83,614.34 L853.11,613.82 L853.40,613.30 L853.68,612.79 L853.97,612.27 L854.25,611.75 L854.54,611.23 L854.82,610.71 L855.11,610.19 L855.39,609.67 L855.68,609.15 L855.96,608.63 L856.24,608.10 L856.53,607.58 L856.81,607.05 L857.10,606.53 L857.38,606.00 L857.67,605.47 L857.95,604.94 L858.24,604.41 L858.52,603.88 L858.80,603.34 L859.09,602.81 L859.37,602.27 L859.66,601.73 L859.94,601.19 L860.23,600.64 L860.51,600.10 L860.80,599.55 L861.08,599.00 L861.37,598.45 L861.65,597.90 L861.93,597.34 L862.22,596.79 L862.50,596.23 L862.79,595.66 L863.07,595.10 L863.36,594.53 L863.64,593.97 L863.93,593.39 L864.21,592.82 L864.50,592.25 L864.78,591.67 L865.06,591.09 L865.35,590.51 L865.63,589.93 L865.92,589.35 L866.20,588.77 L866.49,588.18 L866.77,587.60 L867.06,587.01 L867.34,586.42 L867.62,585.83 L867.91,585.24 L868.19,584.65 L868.48,584.06 L868.76,583.47 L869.05,582.87 L869.33,582.28 L869.62,581.68 L869.90,581.09 L870.19,580.49 L870.47,579.90 L870.75,579.30 L871.04,578.71 L871.32,578.11 L871.61,577.52 L871.89,576.92 L872.18,576.33 L872.46,575.73 L872.75,575.14 L873.03,574.54 L873.32,573.95 L873.60,573.36 L873.88,572.76 L874.17,572.17 L874.45,571.58 L874.74,570.99 L875.02,570.40 L875.31,569.81 L875.59,569.23 L875.88,568.64 L876.16,568.05 L876.45,567.47 L876.73,566.88 L877.01,566.29 L877.30,565.71 L877.58,565.12 L877.87,564.53 L878.15,563.94 L878.44,563.35 L878.72,562.76 L879.01,562.17 L879.29,561.58 L879.57,561.00 L879.86,560.41 L880.14,559.81 L880.43,559.22 L880.71,558.63 L881.00,558.04 L881.28,557.45 L881.57,556.86 L881.85,556.27 L882.14,555.68 L882.42,555.10 L882.70,554.51 L882.99,553.92 L883.27,553.33 L883.56,552.74 L883.84,552.15 L884.13,551.56 L884.41,550.98 L884.70,550.39 L884.98,549.80 L885.27,549.22 L885.55,548.63 L885.83,548.05 L886.12,547.46 L886.40,546.88 L886.69,546.30 L886.97,545.72 L887.26,545.14 L887.54,544.56 L887.83,543.98 L888.11,543.40 L888.39,542.82 L888.68,542.25 L888.96,541.67 L889.25,541.10 L889.53,540.52 L889.82,539.95 L890.10,539.38 L890.39,538.81 L890.67,538.24 L890.96,537.68 L891.24,537.11 L891.52,536.54 L891.81,535.98 L892.09,535.42 L892.38,534.86 L892.66,534.30 L892.95,533.74 L893.23,533.18 L893.52,532.62 L893.80,532.06 L894.09,531.51 L894.37,530.95 L894.65,530.39 L894.94,529.84 L895.22,529.29 L895.51,528.73 L895.79,528.18 L896.08,527.62 L896.36,527.07 L896.65,526.52 L896.93,525.96 L897.22,525.41 L897.50,524.86 L897.78,524.30 L898.07,523.75 L898.35,523.20 L898.64,522.64 L898.92,522.09 L899.21,521.54 L899.49,520.98 L899.78,520.43 L900.06,519.87 L900.34,519.32 L900.63,518.76 L900.91,518.20 L901.20,517.64 L901.48,517.07 L901.77,516.51 L902.05,515.93 L902.34,515.36 L902.62,514.78 L902.91,514.20 L903.19,513.62 L903.47,513.04 L903.76,512.46 L904.04,511.88 L904.33,511.29 L904.61,510.71 L904.90,510.12 L905.18,509.54 L905.47,508.96 L905.75,508.38 L906.04,507.80 L906.32,507.22 L906.60,506.65 L906.89,506.08 L907.17,505.51 L907.46,504.94 L907.74,504.38 L908.03,503.83 L908.31,503.27 L908.60,502.73 L908.88,502.18 L909.16,501.64 L909.45,501.11 L909.73,500.59 L910.02,500.07 L910.30,499.56 L910.59,499.05 L910.87,498.55 L911.16,498.06 L911.44,497.58 L911.73,497.10 L912.01,496.63 L912.29,496.15 L912.58,495.68 L912.86,495.21 L913.15,494.73 L913.43,494.27 L913.72,493.80 L914.00,493.34 L914.29,492.87 L914.57,492.42 L914.86,491.96 L915.14,491.51 L915.42,491.06 L915.71,490.61 L915.99,490.17 L916.28,489.73 L916.56,489.30 L916.85,488.87 L917.13,488.44 L917.42,488.02 L917.70,487.60 L917.98,487.19 L918.27,486.78 L918.55,486.38 L918.84,485.99 L919.12,485.60 L919.41,485.22 L919.69,484.84 L919.98,484.47 L920.26,484.10 L920.55,483.74 L920.83,483.39 L921.11,483.05 L921.40,482.71 L921.68,482.38 L921.97,482.06 L922.25,481.75 L922.54,481.44 L922.82,481.14 L923.11,480.85 L923.39,480.56 L923.68,480.27 L923.96,480.00 L924.24,479.72 L924.53,479.45 L924.81,479.19 L925.10,478.93 L925.38,478.67 L925.67,478.42 L925.95,478.17 L926.24,477.93 L926.52,477.68 L926.81,477.44 L927.09,477.20 L927.37,476.97 L927.66,476.73 L927.94,476.50 L928.23,476.27 L928.51,476.04 L928.80,475.81 L929.08,475.58 L929.37,475.35 L929.65,475.12 L929.93,474.89 L930.22,474.65 L930.50,474.42 L930.79,474.19 L931.07,473.95 L931.36,473.72 L931.64,473.48 L931.93,473.24 L932.21,473.00 L932.50,472.75 L932.78,472.50" fill="none" stroke="#E6756F" stroke-width="5.2" stroke-linejoin="round"/>
<path d="M506.00,645.97 L506.28,645.62 L506.57,645.26 L506.85,644.91 L507.14,644.55 L507.42,644.20 L507.71,643.85 L507.99,643.50 L508.28,643.14 L508.56,642.79 L508.85,642.44 L509.13,642.09 L509.41,641.74 L509.70,641.39 L509.98,641.04 L510.27,640.69 L510.55,640.34 L510.84,639.99 L511.12,639.64 L511.41,639.29 L511.69,638.94 L511.97,638.59 L512.26,638.24 L512.54,637.89 L512.83,637.54 L513.11,637.19 L513.17,637.11 M520.01,628.49 L520.23,628.21 L520.51,627.83 L520.80,627.46 L521.08,627.08 L521.36,626.69 L521.65,626.31 L521.93,625.92 L522.22,625.52 L522.50,625.13 L522.79,624.73 L523.07,624.33 L523.36,623.93 L523.64,623.52 L523.92,623.12 L524.21,622.71 L524.49,622.30 L524.78,621.89 L525.06,621.48 L525.35,621.06 L525.63,620.65 L525.92,620.23 L526.20,619.82 L526.49,619.40 L526.62,619.21 M532.98,610.23 L533.03,610.16 L533.31,609.79 L533.60,609.42 L533.88,609.06 L534.17,608.70 L534.45,608.34 L534.74,607.99 L535.02,607.65 L535.31,607.31 L535.59,606.97 L535.87,606.64 L536.16,606.32 L536.44,606.00 L536.73,605.69 L537.01,605.37 L537.30,605.06 L537.58,604.74 L537.87,604.42 L538.15,604.10 L538.44,603.78 L538.72,603.46 L539.00,603.14 L539.29,602.82 L539.57,602.50 L539.86,602.18 L540.14,601.86 L540.39,601.58 M548.13,593.78 L548.39,593.57 L548.68,593.34 L548.96,593.13 L549.25,592.91 L549.53,592.71 L549.82,592.51 L550.10,592.32 L550.39,592.13 L550.67,591.95 L550.95,591.78 L551.24,591.61 L551.52,591.46 L551.81,591.31 L552.09,591.17 L552.38,591.03 L552.66,590.91 L552.95,590.79 L553.23,590.68 L553.51,590.57 L553.80,590.46 L554.08,590.35 L554.37,590.24 L554.65,590.13 L554.94,590.02 L555.22,589.91 L555.51,589.81 L555.79,589.70 L556.08,589.60 L556.36,589.49 L556.64,589.39 L556.93,589.29 L557.21,589.20 L557.50,589.10 L557.78,589.01 L558.07,588.91 L558.31,588.84 M569.15,588.14 L569.16,588.14 L569.45,588.20 L569.73,588.27 L570.02,588.34 L570.30,588.41 L570.59,588.49 L570.87,588.57 L571.16,588.65 L571.44,588.74 L571.72,588.82 L572.01,588.91 L572.29,589.01 L572.58,589.10 L572.86,589.20 L573.15,589.29 L573.43,589.39 L573.72,589.49 L574.00,589.60 L574.28,589.70 L574.57,589.81 L574.85,589.91 L575.14,590.02 L575.42,590.13 L575.71,590.24 L575.99,590.35 L576.28,590.46 L576.56,590.57 L576.85,590.68 L577.13,590.79 L577.41,590.91 L577.70,591.03 L577.98,591.17 L578.27,591.31 L578.55,591.46 L578.84,591.61 L579.12,591.77 L579.41,591.94 L579.69,592.12 L579.77,592.17 M587.89,599.54 L587.94,599.60 L588.23,599.91 L588.51,600.22 L588.80,600.54 L589.08,600.86 L589.36,601.17 L589.65,601.49 L589.93,601.81 L590.22,602.14 L590.50,602.46 L590.79,602.78 L591.07,603.10 L591.36,603.43 L591.64,603.75 L591.93,604.07 L592.21,604.40 L592.49,604.72 L592.78,605.04 L593.06,605.36 L593.35,605.68 L593.63,606.00 L593.92,606.33 L594.20,606.66 L594.49,606.99 L594.77,607.33 L595.05,607.68 L595.34,608.03 L595.41,608.11 M601.84,617.03 L601.88,617.11 L602.17,617.53 L602.45,617.96 L602.74,618.39 L603.02,618.82 L603.31,619.26 L603.59,619.69 L603.87,620.13 L604.16,620.56 L604.44,621.00 L604.73,621.44 L605.01,621.87 L605.30,622.31 L605.58,622.75 L605.87,623.19 L606.15,623.63 L606.44,624.07 L606.72,624.51 L607.00,624.94 L607.29,625.38 L607.57,625.82 L607.86,626.25 L608.07,626.58 M613.85,635.94 L614.12,636.40 L614.40,636.89 L614.69,637.39 L614.97,637.88 L615.26,638.38 L615.54,638.87 L615.82,639.37 L616.11,639.87 L616.39,640.36 L616.68,640.86 L616.96,641.35 L617.25,641.85 L617.53,642.34 L617.82,642.83 L618.10,643.32 L618.39,643.80 L618.67,644.29 L618.95,644.77 L619.24,645.25 L619.52,645.72 L619.57,645.80 M625.77,654.87 L625.78,654.89 L626.07,655.23 L626.35,655.57 L626.64,655.91 L626.92,656.25 L627.21,656.58 L627.49,656.91 L627.77,657.24 L628.06,657.57 L628.34,657.89 L628.63,658.21 L628.91,658.53 L629.20,658.84 L629.48,659.15 L629.77,659.46 L630.05,659.77 L630.34,660.07 L630.62,660.37 L630.90,660.67 L631.19,660.96 L631.47,661.25 L631.76,661.54 L632.04,661.83 L632.33,662.11 L632.61,662.38 L632.90,662.66 L633.18,662.93 L633.46,663.20 L633.50,663.23 M642.12,670.06 L642.29,670.18 L642.57,670.38 L642.85,670.58 L643.14,670.77 L643.42,670.96 L643.71,671.15 L643.99,671.34 L644.28,671.52 L644.56,671.69 L644.85,671.86 L645.13,672.03 L645.41,672.19 L645.70,672.34 L645.98,672.49 L646.27,672.64 L646.55,672.77 L646.84,672.90 L647.12,673.02 L647.41,673.14 L647.69,673.25 L647.98,673.35 L648.26,673.44 L648.54,673.52 L648.83,673.60 L649.11,673.66 L649.40,673.72 L649.68,673.77 L649.97,673.81 L650.25,673.85 L650.54,673.89 L650.82,673.93 L651.11,673.97 L651.39,674.01 L651.67,674.05 L651.96,674.09 L652.24,674.13 L652.53,674.16 L652.56,674.17 M663.53,674.76 L663.62,674.75 L663.91,674.74 L664.19,674.72 L664.48,674.69 L664.76,674.67 L665.05,674.64 L665.33,674.61 L665.62,674.58 L665.90,674.55 L666.18,674.51 L666.47,674.47 L666.75,674.44 L667.04,674.40 L667.32,674.35 L667.61,674.31 L667.89,674.27 L668.18,674.22 L668.46,674.17 L668.75,674.13 L669.03,674.08 L669.31,674.03 L669.60,673.98 L669.88,673.92 L670.17,673.87 L670.45,673.82 L670.74,673.76 L671.02,673.71 L671.31,673.65 L671.59,673.60 L671.88,673.54 L672.16,673.48 L672.44,673.42 L672.73,673.37 L673.01,673.31 L673.30,673.25 L673.58,673.20 L673.87,673.14 L674.15,673.08 L674.44,673.03 L674.72,672.97 L674.77,672.96 M685.46,670.38 L685.53,670.36 L685.82,670.28 L686.10,670.20 L686.39,670.11 L686.67,670.03 L686.95,669.95 L687.24,669.86 L687.52,669.78 L687.81,669.69 L688.09,669.61 L688.38,669.52 L688.66,669.44 L688.95,669.35 L689.23,669.27 L689.52,669.18 L689.80,669.10 L690.08,669.01 L690.37,668.92 L690.65,668.84 L690.94,668.75 L691.22,668.67 L691.51,668.58 L691.79,668.50 L692.08,668.41 L692.36,668.33 L692.65,668.25 L692.93,668.16 L693.21,668.08 L693.50,667.99 L693.78,667.91 L694.07,667.83 L694.35,667.75 L694.64,667.67 L694.92,667.58 L695.21,667.50 L695.49,667.42 L695.77,667.33 L696.06,667.25 L696.34,667.17 L696.40,667.15 M706.91,663.93 L707.16,663.85 L707.44,663.76 L707.72,663.68 L708.01,663.59 L708.29,663.50 L708.58,663.41 L708.86,663.32 L709.15,663.23 L709.43,663.15 L709.72,663.06 L710.00,662.97 L710.29,662.88 L710.57,662.79 L710.85,662.71 L711.14,662.62 L711.42,662.53 L711.71,662.45 L711.99,662.36 L712.28,662.27 L712.56,662.18 L712.85,662.10 L713.13,662.01 L713.42,661.91 L713.70,661.82 L713.98,661.73 L714.27,661.63 L714.55,661.54 L714.84,661.44 L715.12,661.34 L715.41,661.24 L715.69,661.14 L715.98,661.04 L716.26,660.94 L716.54,660.84 L716.83,660.74 L717.11,660.63 L717.40,660.53 L717.68,660.43 L717.75,660.40 M728.15,656.81 L728.21,656.80 L728.49,656.72 L728.78,656.64 L729.06,656.57 L729.35,656.49 L729.63,656.42 L729.92,656.35 L730.20,656.29 L730.49,656.22 L730.77,656.16 L731.06,656.10 L731.34,656.04 L731.62,655.99 L731.91,655.93 L732.19,655.88 L732.48,655.83 L732.76,655.79 L733.05,655.74 L733.33,655.70 L733.62,655.67 L733.90,655.63 L734.19,655.60 L734.47,655.57 L734.75,655.54 L735.04,655.51 L735.32,655.48 L735.61,655.45 L735.89,655.43 L736.18,655.40 L736.46,655.37 L736.75,655.34 L737.03,655.32 L737.31,655.29 L737.60,655.26 L737.88,655.23 L738.17,655.21 L738.45,655.18 L738.74,655.16 L739.02,655.13 L739.31,655.11 L739.39,655.10 M750.38,654.54 L750.40,654.54 L750.69,654.54 L750.97,654.54 L751.26,654.54 L751.54,654.55 L751.83,654.56 L752.11,654.57 L752.39,654.58 L752.68,654.60 L752.96,654.61 L753.25,654.63 L753.53,654.65 L753.82,654.68 L754.10,654.70 L754.39,654.73 L754.67,654.76 L754.96,654.79 L755.24,654.82 L755.52,654.86 L755.81,654.89 L756.09,654.93 L756.38,654.97 L756.66,655.01 L756.95,655.06 L757.23,655.10 L757.52,655.15 L757.80,655.20 L758.08,655.25 L758.37,655.30 L758.65,655.35 L758.94,655.41 L759.22,655.47 L759.51,655.52 L759.79,655.58 L760.08,655.64 L760.36,655.70 L760.65,655.77 L760.93,655.83 L761.21,655.90 L761.50,655.96 L761.65,656.00 M772.24,659.00 L772.31,659.02 L772.60,659.11 L772.88,659.19 L773.16,659.28 L773.45,659.37 L773.73,659.45 L774.02,659.54 L774.30,659.62 L774.59,659.70 L774.87,659.79 L775.16,659.87 L775.44,659.96 L775.72,660.04 L776.01,660.12 L776.29,660.20 L776.58,660.28 L776.86,660.36 L777.15,660.44 L777.43,660.52 L777.72,660.60 L778.00,660.68 L778.29,660.76 L778.57,660.84 L778.85,660.92 L779.14,661.01 L779.42,661.09 L779.71,661.18 L779.99,661.27 L780.28,661.36 L780.56,661.45 L780.85,661.54 L781.13,661.63 L781.42,661.73 L781.70,661.82 L781.98,661.92 L782.27,662.02 L782.55,662.11 L782.84,662.21 L783.12,662.31 L783.14,662.32 M793.44,666.19 L793.65,666.27 L793.93,666.37 L794.22,666.48 L794.50,666.58 L794.79,666.68 L795.07,666.78 L795.36,666.89 L795.64,666.99 L795.93,667.09 L796.21,667.19 L796.49,667.28 L796.78,667.38 L797.06,667.48 L797.35,667.57 L797.63,667.67 L797.92,667.76 L798.20,667.86 L798.49,667.95 L798.77,668.04 L799.06,668.13 L799.34,668.21 L799.62,668.30 L799.91,668.39 L800.19,668.47 L800.48,668.55 L800.76,668.63 L801.05,668.71 L801.33,668.79 L801.62,668.87 L801.90,668.95 L802.19,669.03 L802.47,669.10 L802.75,669.18 L803.04,669.26 L803.32,669.34 L803.61,669.42 L803.89,669.50 L804.18,669.58 L804.30,669.61 M814.95,672.36 L814.99,672.37 L815.27,672.43 L815.56,672.49 L815.84,672.55 L816.13,672.61 L816.41,672.67 L816.70,672.73 L816.98,672.79 L817.26,672.84 L817.55,672.90 L817.83,672.95 L818.12,673.01 L818.40,673.06 L818.69,673.11 L818.97,673.16 L819.26,673.21 L819.54,673.26 L819.83,673.30 L820.11,673.35 L820.39,673.39 L820.68,673.44 L820.96,673.48 L821.25,673.52 L821.53,673.56 L821.82,673.60 L822.10,673.63 L822.39,673.67 L822.67,673.70 L822.96,673.74 L823.24,673.77 L823.52,673.80 L823.81,673.83 L824.09,673.86 L824.38,673.89 L824.66,673.92 L824.95,673.95 L825.23,673.98 L825.52,674.01 L825.80,674.04 L826.09,674.07 L826.21,674.08 M837.17,675.03 L837.18,675.03 L837.47,675.04 L837.75,675.06 L838.03,675.07 L838.32,675.09 L838.60,675.10 L838.89,675.11 L839.17,675.13 L839.46,675.14 L839.74,675.15 L840.03,675.16 L840.31,675.17 L840.60,675.18 L840.88,675.19 L841.16,675.19 L841.45,675.20 L841.73,675.21 L842.02,675.21 L842.30,675.22 L842.59,675.22 L842.87,675.23 L843.16,675.23 L843.44,675.23 L843.73,675.23 L844.01,675.23 L844.29,675.22 L844.58,675.21 L844.86,675.19 L845.15,675.16 L845.43,675.12 L845.72,675.08 L846.00,675.03 L846.29,674.97 L846.57,674.91 L846.85,674.84 L847.14,674.77 L847.42,674.69 L847.71,674.60 L847.99,674.51 L848.28,674.41 L848.46,674.34 M857.80,668.61 L857.95,668.50 L858.24,668.27 L858.52,668.04 L858.80,667.82 L859.09,667.59 L859.37,667.36 L859.66,667.13 L859.94,666.89 L860.23,666.66 L860.51,666.42 L860.80,666.17 L861.08,665.90 L861.37,665.61 L861.65,665.32 L861.93,665.01 L862.22,664.68 L862.50,664.34 L862.79,664.00 L863.07,663.63 L863.36,663.26 L863.64,662.87 L863.93,662.47 L864.21,662.06 L864.50,661.64 L864.78,661.21 L865.06,660.76 L865.35,660.31 L865.39,660.23 M870.48,650.49 L870.75,649.90 L871.04,649.27 L871.32,648.64 L871.61,648.00 L871.89,647.36 L872.18,646.71 L872.46,646.06 L872.75,645.36 L873.03,644.63 L873.32,643.86 L873.60,643.06 L873.88,642.22 L874.17,641.36 L874.45,640.46 L874.63,639.88 M877.56,629.28 L877.58,629.19 L877.87,628.09 L878.15,626.98 L878.44,625.87 L878.72,624.76 L879.01,623.64 L879.29,622.53 L879.57,621.43 L879.86,620.33 L880.14,619.23 L880.41,618.24 M883.42,607.66 L883.56,607.19 L883.84,606.25 L884.13,605.31 L884.41,604.37 L884.70,603.43 L884.98,602.50 L885.27,601.57 L885.55,600.64 L885.83,599.71 L886.12,598.79 L886.40,597.86 L886.69,596.94 L886.74,596.76 M890.00,586.25 L890.10,585.91 L890.39,584.99 L890.67,584.07 L890.96,583.14 L891.24,582.22 L891.52,581.29 L891.81,580.37 L892.09,579.44 L892.38,578.51 L892.66,577.58 L892.95,576.66 L893.23,575.73 L893.35,575.35 M896.58,564.84 L896.65,564.62 L896.93,563.69 L897.22,562.75 L897.50,561.82 L897.78,560.88 L898.07,559.94 L898.35,559.00 L898.64,558.05 L898.92,557.10 L899.21,556.14 L899.49,555.18 L899.78,554.22 L899.86,553.92 M902.97,543.37 L903.19,542.62 L903.47,541.67 L903.76,540.73 L904.04,539.79 L904.33,538.86 L904.61,537.94 L904.90,537.02 L905.18,536.10 L905.47,535.19 L905.75,534.27 L906.04,533.36 L906.31,532.47 M909.66,521.99 L909.73,521.78 L910.02,520.92 L910.30,520.08 L910.59,519.24 L910.87,518.42 L911.16,517.60 L911.44,516.79 L911.73,515.99 L912.01,515.20 L912.29,514.41 L912.58,513.62 L912.86,512.84 L913.15,512.06 L913.43,511.29 L913.45,511.24 M917.43,500.99 L917.70,500.32 L917.98,499.63 L918.27,498.94 L918.55,498.26 L918.84,497.59 L919.12,496.92 L919.41,496.26 L919.69,495.61 L919.98,494.96 L920.26,494.30 L920.55,493.64 L920.83,492.98 L921.11,492.32 L921.40,491.65 L921.68,490.99 L921.89,490.50 M926.63,480.58 L926.81,480.27 L927.09,479.81 L927.37,479.37 L927.66,478.95 L927.94,478.56 L928.23,478.19 L928.51,477.84 L928.80,477.50 L929.08,477.18 L929.37,476.87 L929.65,476.57 L929.93,476.29 L930.22,476.01 L930.50,475.73 L930.79,475.46 L931.07,475.20 L931.36,474.93 L931.64,474.66 L931.93,474.39 L932.21,474.12 L932.50,473.84 L932.78,473.54" fill="none" stroke="#4DB2C4" stroke-width="5.3"/>
</g>
<text transform="translate(481.75,483.90) scale(0.7373,1)" font-family='"Liberation Serif", serif' font-size="47.00" stroke="#111" stroke-width="1.10">1</text>
<text transform="translate(440.21,568.83) scale(1.0007,1)" font-family='"Liberation Serif", serif' font-size="47.00" stroke="#111" stroke-width="0.50">0.6</text>
<text transform="translate(440.17,651.93) scale(1.0227,1)" font-family='"Liberation Serif", serif' font-size="47.00" stroke="#111" stroke-width="0.50">0.2</text>
<text transform="translate(464.43,727.93) scale(0.9884,1)" font-family='"Liberation Serif", serif' font-size="47.00" stroke="#111" stroke-width="0.50">0.94</text>
<text transform="translate(606.61,727.93) scale(1.0018,1)" font-family='"Liberation Serif", serif' font-size="47.00" stroke="#111" stroke-width="0.50">0.96</text>
<text transform="translate(748.90,727.93) scale(1.0067,1)" font-family='"Liberation Serif", serif' font-size="47.00" stroke="#111" stroke-width="0.50">0.98</text>
<text transform="translate(922.50,727.70) scale(0.7494,1)" font-family='"Liberation Serif", serif' font-size="47.00" stroke="#111" stroke-width="1.10">1</text>
</g>
</svg>
</body></html>
